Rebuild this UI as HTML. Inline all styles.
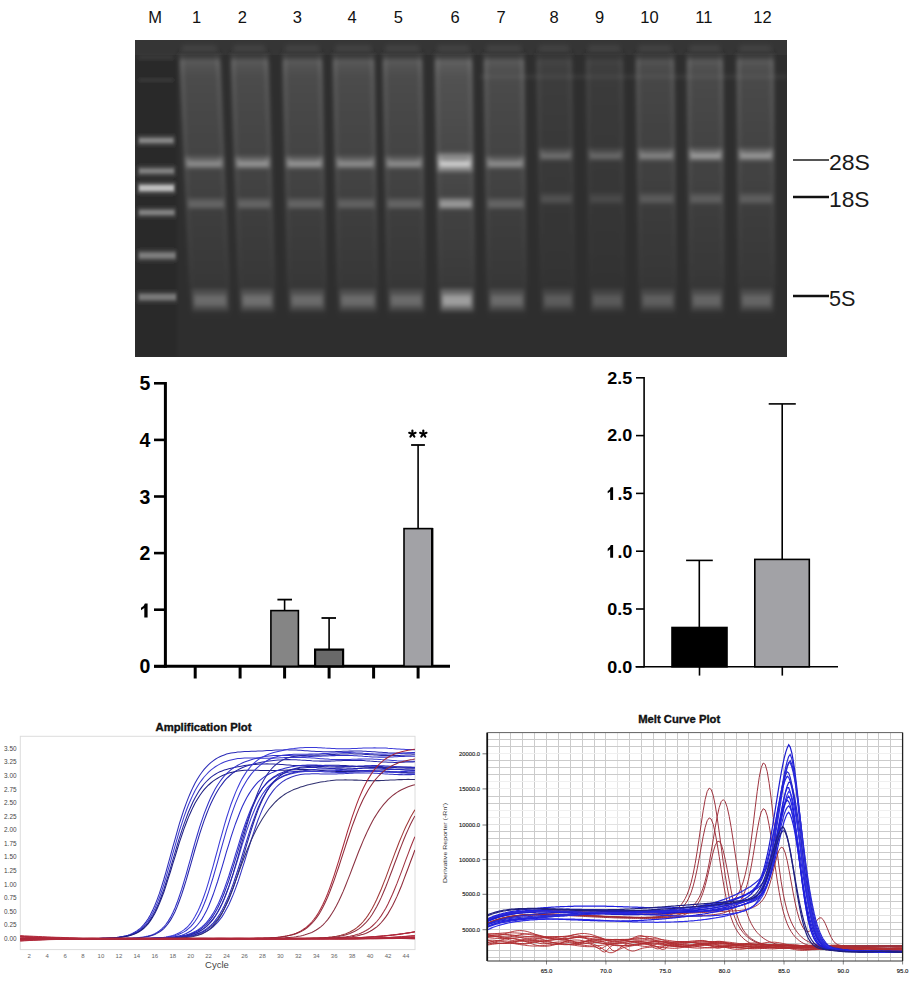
<!DOCTYPE html><html><head><meta charset="utf-8"><style>html,body{margin:0;padding:0;background:#fff;overflow:hidden;width:920px;height:982px;}svg{display:block;font-family:"Liberation Sans",sans-serif;}</style></head><body>
<svg width="920" height="982" viewBox="0 0 920 982">
<defs>
<filter id="b2" x="-20%" y="-20%" width="140%" height="140%"><feGaussianBlur stdDeviation="2.2"/></filter>
<filter id="b1" x="-20%" y="-50%" width="140%" height="200%"><feGaussianBlur stdDeviation="1.7"/></filter>
<filter id="bx" x="-30%" y="-20%" width="160%" height="140%"><feGaussianBlur stdDeviation="2.5 1.2"/></filter>
<clipPath id="gc"><rect x="135" y="40" width="652" height="317"/></clipPath>
<clipPath id="ac"><rect x="20" y="736" width="395" height="214"/></clipPath>
<clipPath id="mc"><rect x="487" y="733" width="415" height="228"/></clipPath>
</defs>
<text x="155" y="23.3" font-size="16.5" text-anchor="middle" fill="#111">M</text>
<text x="196.5" y="23.3" font-size="16.5" text-anchor="middle" fill="#111">1</text>
<text x="242.3" y="23.3" font-size="16.5" text-anchor="middle" fill="#111">2</text>
<text x="297.4" y="23.3" font-size="16.5" text-anchor="middle" fill="#111">3</text>
<text x="352.2" y="23.3" font-size="16.5" text-anchor="middle" fill="#111">4</text>
<text x="398.3" y="23.3" font-size="16.5" text-anchor="middle" fill="#111">5</text>
<text x="455.2" y="23.3" font-size="16.5" text-anchor="middle" fill="#111">6</text>
<text x="501" y="23.3" font-size="16.5" text-anchor="middle" fill="#111">7</text>
<text x="554" y="23.3" font-size="16.5" text-anchor="middle" fill="#111">8</text>
<text x="599.7" y="23.3" font-size="16.5" text-anchor="middle" fill="#111">9</text>
<text x="649.5" y="23.3" font-size="16.5" text-anchor="middle" fill="#111">10</text>
<text x="703.9" y="23.3" font-size="16.5" text-anchor="middle" fill="#111">11</text>
<text x="762.5" y="23.3" font-size="16.5" text-anchor="middle" fill="#111">12</text>
<rect x="135" y="40" width="652" height="317" fill="#2e2e2e"/>
<linearGradient id="lg" gradientUnits="userSpaceOnUse" x1="0" y1="50" x2="0" y2="320"><stop offset="0" stop-color="#fff" stop-opacity="0"/><stop offset="0.03" stop-color="#fff" stop-opacity="0.05"/><stop offset="0.045" stop-color="#fff" stop-opacity="0.19"/><stop offset="0.10" stop-color="#fff" stop-opacity="0.14"/><stop offset="0.33" stop-color="#fff" stop-opacity="0.11"/><stop offset="0.48" stop-color="#fff" stop-opacity="0.10"/><stop offset="0.60" stop-color="#fff" stop-opacity="0.075"/><stop offset="0.80" stop-color="#fff" stop-opacity="0.055"/><stop offset="0.92" stop-color="#fff" stop-opacity="0.035"/><stop offset="1" stop-color="#fff" stop-opacity="0"/></linearGradient>
<linearGradient id="lh" gradientUnits="userSpaceOnUse" x1="0" y1="50" x2="0" y2="320"><stop offset="0" stop-color="#fff" stop-opacity="0"/><stop offset="0.05" stop-color="#fff" stop-opacity="0.15"/><stop offset="0.5" stop-color="#fff" stop-opacity="0.07"/><stop offset="1" stop-color="#fff" stop-opacity="0"/></linearGradient>
<g clip-path="url(#gc)">
<rect x="135" y="40" width="652" height="15" fill="#fff" opacity="0.035"/>
<g filter="url(#b2)">
<g transform="matrix(1,0,0.04297,1,-2.406,0)">
<rect x="179.6" y="50" width="40.20000000000002" height="270" fill="url(#lg)" opacity="1.00"/>
<rect x="179.6" y="56" width="3" height="230" fill="url(#lh)" opacity="1.00"/>
<rect x="216.8" y="56" width="3" height="230" fill="url(#lh)" opacity="1.00"/>
<rect x="180.6" y="156.5" width="38.20000000000002" height="12" fill="#fff" opacity="0.162"/>
<rect x="182.6" y="161.5" width="34.20000000000002" height="5" fill="#fff" opacity="0.297"/>
<rect x="180.6" y="157.5" width="5" height="6" fill="#fff" opacity="0.072"/>
<rect x="213.8" y="157.5" width="5" height="6" fill="#fff" opacity="0.072"/>
<rect x="181.6" y="198.5" width="36.20000000000002" height="10" fill="#fff" opacity="0.144"/>
<rect x="182.6" y="202.5" width="34.20000000000002" height="4" fill="#fff" opacity="0.090"/>
<rect x="181.6" y="289" width="36.20000000000002" height="22" fill="#fff" opacity="0.117"/>
<rect x="183.6" y="295" width="32.20000000000002" height="11" fill="#fff" opacity="0.171"/>
<rect x="177.6" y="51" width="44.20000000000002" height="4" fill="#000" opacity="0.18"/>
<rect x="182.6" y="45.5" width="34.20000000000002" height="4" fill="#fff" opacity="0.08"/>
<rect x="180.6" y="57" width="38.20000000000002" height="6" fill="#fff" opacity="0.060"/>
</g>
<g transform="matrix(1,0,0.03125,1,-1.750,0)">
<rect x="231" y="50" width="37" height="270" fill="url(#lg)" opacity="1.00"/>
<rect x="231" y="56" width="3" height="230" fill="url(#lh)" opacity="1.00"/>
<rect x="265" y="56" width="3" height="230" fill="url(#lh)" opacity="1.00"/>
<rect x="232" y="156.5" width="35" height="12" fill="#fff" opacity="0.180"/>
<rect x="234" y="161.5" width="31" height="5" fill="#fff" opacity="0.330"/>
<rect x="232" y="157.5" width="5" height="6" fill="#fff" opacity="0.080"/>
<rect x="262" y="157.5" width="5" height="6" fill="#fff" opacity="0.080"/>
<rect x="233" y="198.5" width="33" height="10" fill="#fff" opacity="0.144"/>
<rect x="234" y="202.5" width="31" height="4" fill="#fff" opacity="0.090"/>
<rect x="233" y="289" width="33" height="22" fill="#fff" opacity="0.130"/>
<rect x="235" y="295" width="29" height="11" fill="#fff" opacity="0.190"/>
<rect x="229" y="51" width="41" height="4" fill="#000" opacity="0.18"/>
<rect x="234" y="45.5" width="31" height="4" fill="#fff" opacity="0.08"/>
<rect x="232" y="57" width="35" height="6" fill="#fff" opacity="0.060"/>
</g>
<g transform="matrix(1,0,0.01953,1,-1.094,0)">
<rect x="282.8" y="50" width="39.19999999999999" height="270" fill="url(#lg)" opacity="1.00"/>
<rect x="282.8" y="56" width="3" height="230" fill="url(#lh)" opacity="1.00"/>
<rect x="319.0" y="56" width="3" height="230" fill="url(#lh)" opacity="1.00"/>
<rect x="283.8" y="156.5" width="37.19999999999999" height="12" fill="#fff" opacity="0.180"/>
<rect x="285.8" y="161.5" width="33.19999999999999" height="5" fill="#fff" opacity="0.330"/>
<rect x="283.8" y="157.5" width="5" height="6" fill="#fff" opacity="0.080"/>
<rect x="316.0" y="157.5" width="5" height="6" fill="#fff" opacity="0.080"/>
<rect x="284.8" y="198.5" width="35.19999999999999" height="10" fill="#fff" opacity="0.144"/>
<rect x="285.8" y="202.5" width="33.19999999999999" height="4" fill="#fff" opacity="0.090"/>
<rect x="284.8" y="289" width="35.19999999999999" height="22" fill="#fff" opacity="0.117"/>
<rect x="286.8" y="295" width="31.19999999999999" height="11" fill="#fff" opacity="0.171"/>
<rect x="280.8" y="51" width="43.19999999999999" height="4" fill="#000" opacity="0.18"/>
<rect x="285.8" y="45.5" width="33.19999999999999" height="4" fill="#fff" opacity="0.08"/>
<rect x="283.8" y="57" width="37.19999999999999" height="6" fill="#fff" opacity="0.060"/>
</g>
<g transform="matrix(1,0,0.01758,1,-0.984,0)">
<rect x="333" y="50" width="41" height="270" fill="url(#lg)" opacity="1.00"/>
<rect x="333" y="56" width="3" height="230" fill="url(#lh)" opacity="1.00"/>
<rect x="371" y="56" width="3" height="230" fill="url(#lh)" opacity="1.00"/>
<rect x="334" y="156.5" width="39" height="12" fill="#fff" opacity="0.162"/>
<rect x="336" y="161.5" width="35" height="5" fill="#fff" opacity="0.297"/>
<rect x="334" y="157.5" width="5" height="6" fill="#fff" opacity="0.072"/>
<rect x="368" y="157.5" width="5" height="6" fill="#fff" opacity="0.072"/>
<rect x="335" y="198.5" width="37" height="10" fill="#fff" opacity="0.128"/>
<rect x="336" y="202.5" width="35" height="4" fill="#fff" opacity="0.080"/>
<rect x="335" y="289" width="37" height="22" fill="#fff" opacity="0.117"/>
<rect x="337" y="295" width="33" height="11" fill="#fff" opacity="0.171"/>
<rect x="331" y="51" width="45" height="4" fill="#000" opacity="0.18"/>
<rect x="336" y="45.5" width="35" height="4" fill="#fff" opacity="0.08"/>
<rect x="334" y="57" width="39" height="6" fill="#fff" opacity="0.060"/>
</g>
<g transform="matrix(1,0,0.01562,1,-0.875,0)">
<rect x="383" y="50" width="39" height="270" fill="url(#lg)" opacity="1.00"/>
<rect x="383" y="56" width="3" height="230" fill="url(#lh)" opacity="1.00"/>
<rect x="419" y="56" width="3" height="230" fill="url(#lh)" opacity="1.00"/>
<rect x="384" y="156.5" width="37" height="12" fill="#fff" opacity="0.162"/>
<rect x="386" y="161.5" width="33" height="5" fill="#fff" opacity="0.297"/>
<rect x="384" y="157.5" width="5" height="6" fill="#fff" opacity="0.072"/>
<rect x="416" y="157.5" width="5" height="6" fill="#fff" opacity="0.072"/>
<rect x="385" y="198.5" width="35" height="10" fill="#fff" opacity="0.144"/>
<rect x="386" y="202.5" width="33" height="4" fill="#fff" opacity="0.090"/>
<rect x="385" y="289" width="35" height="22" fill="#fff" opacity="0.117"/>
<rect x="387" y="295" width="31" height="11" fill="#fff" opacity="0.171"/>
<rect x="381" y="51" width="43" height="4" fill="#000" opacity="0.18"/>
<rect x="386" y="45.5" width="33" height="4" fill="#fff" opacity="0.08"/>
<rect x="384" y="57" width="37" height="6" fill="#fff" opacity="0.060"/>
</g>
<g transform="matrix(1,0,0.01367,1,-0.766,0)">
<rect x="435" y="50" width="37" height="270" fill="url(#lg)" opacity="1.00"/>
<rect x="435" y="50" width="37" height="270" fill="url(#lg)" opacity="0.25"/>
<rect x="435" y="56" width="3" height="230" fill="url(#lh)" opacity="1.00"/>
<rect x="469" y="56" width="3" height="230" fill="url(#lh)" opacity="1.00"/>
<rect x="436" y="153.5" width="35" height="18" fill="#fff" opacity="0.360"/>
<rect x="438" y="161.5" width="31" height="5" fill="#fff" opacity="0.650"/>
<rect x="436" y="157.5" width="5" height="6" fill="#fff" opacity="0.160"/>
<rect x="466" y="157.5" width="5" height="6" fill="#fff" opacity="0.160"/>
<rect x="437" y="198.5" width="33" height="10" fill="#fff" opacity="0.352"/>
<rect x="438" y="202.5" width="31" height="4" fill="#fff" opacity="0.220"/>
<rect x="437" y="289" width="33" height="22" fill="#fff" opacity="0.247"/>
<rect x="439" y="295" width="29" height="11" fill="#fff" opacity="0.361"/>
<rect x="433" y="51" width="41" height="4" fill="#000" opacity="0.18"/>
<rect x="438" y="45.5" width="31" height="4" fill="#fff" opacity="0.08"/>
<rect x="436" y="57" width="35" height="6" fill="#fff" opacity="0.060"/>
</g>
<g transform="matrix(1,0,0.01172,1,-0.656,0)">
<rect x="484" y="50" width="40" height="270" fill="url(#lg)" opacity="1.00"/>
<rect x="484" y="56" width="3" height="230" fill="url(#lh)" opacity="1.00"/>
<rect x="521" y="56" width="3" height="230" fill="url(#lh)" opacity="1.00"/>
<rect x="485" y="156.5" width="38" height="12" fill="#fff" opacity="0.162"/>
<rect x="487" y="161.5" width="34" height="5" fill="#fff" opacity="0.297"/>
<rect x="485" y="157.5" width="5" height="6" fill="#fff" opacity="0.072"/>
<rect x="518" y="157.5" width="5" height="6" fill="#fff" opacity="0.072"/>
<rect x="486" y="198.5" width="36" height="10" fill="#fff" opacity="0.144"/>
<rect x="487" y="202.5" width="34" height="4" fill="#fff" opacity="0.090"/>
<rect x="486" y="289" width="36" height="22" fill="#fff" opacity="0.117"/>
<rect x="488" y="295" width="32" height="11" fill="#fff" opacity="0.171"/>
<rect x="482" y="51" width="44" height="4" fill="#000" opacity="0.18"/>
<rect x="487" y="45.5" width="34" height="4" fill="#fff" opacity="0.08"/>
<rect x="485" y="57" width="38" height="6" fill="#fff" opacity="0.060"/>
</g>
<g transform="matrix(1,0,0.01562,1,-0.875,0)">
<rect x="536.5" y="50" width="35.200000000000045" height="270" fill="url(#lg)" opacity="0.50"/>
<rect x="536.5" y="56" width="3" height="230" fill="url(#lh)" opacity="0.50"/>
<rect x="568.7" y="56" width="3" height="230" fill="url(#lh)" opacity="0.50"/>
<rect x="537.5" y="148.5" width="33.200000000000045" height="12" fill="#fff" opacity="0.108"/>
<rect x="539.5" y="153.5" width="29.200000000000045" height="5" fill="#fff" opacity="0.198"/>
<rect x="537.5" y="149.5" width="5" height="6" fill="#fff" opacity="0.048"/>
<rect x="565.7" y="149.5" width="5" height="6" fill="#fff" opacity="0.048"/>
<rect x="538.5" y="193.5" width="31.200000000000045" height="10" fill="#fff" opacity="0.096"/>
<rect x="539.5" y="197.5" width="29.200000000000045" height="4" fill="#fff" opacity="0.060"/>
<rect x="538.5" y="289" width="31.200000000000045" height="22" fill="#fff" opacity="0.091"/>
<rect x="540.5" y="295" width="27.200000000000045" height="11" fill="#fff" opacity="0.133"/>
<rect x="534.5" y="51" width="39.200000000000045" height="4" fill="#000" opacity="0.18"/>
<rect x="539.5" y="45.5" width="29.200000000000045" height="4" fill="#fff" opacity="0.08"/>
<rect x="537.5" y="57" width="33.200000000000045" height="6" fill="#fff" opacity="0.030"/>
</g>
<g transform="matrix(1,0,0.01172,1,-0.656,0)">
<rect x="586" y="50" width="36.799999999999955" height="270" fill="url(#lg)" opacity="0.45"/>
<rect x="586" y="56" width="3" height="230" fill="url(#lh)" opacity="0.45"/>
<rect x="619.8" y="56" width="3" height="230" fill="url(#lh)" opacity="0.45"/>
<rect x="587" y="148.5" width="34.799999999999955" height="12" fill="#fff" opacity="0.099"/>
<rect x="589" y="153.5" width="30.799999999999955" height="5" fill="#fff" opacity="0.182"/>
<rect x="587" y="149.5" width="5" height="6" fill="#fff" opacity="0.044"/>
<rect x="616.8" y="149.5" width="5" height="6" fill="#fff" opacity="0.044"/>
<rect x="588" y="193.5" width="32.799999999999955" height="10" fill="#fff" opacity="0.072"/>
<rect x="589" y="197.5" width="30.799999999999955" height="4" fill="#fff" opacity="0.045"/>
<rect x="588" y="289" width="32.799999999999955" height="22" fill="#fff" opacity="0.085"/>
<rect x="590" y="295" width="28.799999999999955" height="11" fill="#fff" opacity="0.124"/>
<rect x="584" y="51" width="40.799999999999955" height="4" fill="#000" opacity="0.18"/>
<rect x="589" y="45.5" width="30.799999999999955" height="4" fill="#fff" opacity="0.08"/>
<rect x="587" y="57" width="34.799999999999955" height="6" fill="#fff" opacity="0.027"/>
</g>
<g transform="matrix(1,0,0.01172,1,-0.656,0)">
<rect x="635.9" y="50" width="38.10000000000002" height="270" fill="url(#lg)" opacity="0.85"/>
<rect x="635.9" y="56" width="3" height="230" fill="url(#lh)" opacity="0.85"/>
<rect x="671" y="56" width="3" height="230" fill="url(#lh)" opacity="0.85"/>
<rect x="636.9" y="148.5" width="36.10000000000002" height="12" fill="#fff" opacity="0.144"/>
<rect x="638.9" y="153.5" width="32.10000000000002" height="5" fill="#fff" opacity="0.264"/>
<rect x="636.9" y="149.5" width="5" height="6" fill="#fff" opacity="0.064"/>
<rect x="668" y="149.5" width="5" height="6" fill="#fff" opacity="0.064"/>
<rect x="637.9" y="193.5" width="34.10000000000002" height="10" fill="#fff" opacity="0.112"/>
<rect x="638.9" y="197.5" width="32.10000000000002" height="4" fill="#fff" opacity="0.070"/>
<rect x="637.9" y="289" width="34.10000000000002" height="22" fill="#fff" opacity="0.091"/>
<rect x="639.9" y="295" width="30.100000000000023" height="11" fill="#fff" opacity="0.133"/>
<rect x="633.9" y="51" width="42.10000000000002" height="4" fill="#000" opacity="0.18"/>
<rect x="638.9" y="45.5" width="32.10000000000002" height="4" fill="#fff" opacity="0.08"/>
<rect x="636.9" y="57" width="36.10000000000002" height="6" fill="#fff" opacity="0.051"/>
</g>
<g transform="matrix(1,0,0.00781,1,-0.438,0)">
<rect x="687" y="50" width="35.799999999999955" height="270" fill="url(#lg)" opacity="0.95"/>
<rect x="687" y="56" width="3" height="230" fill="url(#lh)" opacity="0.95"/>
<rect x="719.8" y="56" width="3" height="230" fill="url(#lh)" opacity="0.95"/>
<rect x="688" y="148.5" width="33.799999999999955" height="12" fill="#fff" opacity="0.198"/>
<rect x="690" y="153.5" width="29.799999999999955" height="5" fill="#fff" opacity="0.363"/>
<rect x="688" y="149.5" width="5" height="6" fill="#fff" opacity="0.088"/>
<rect x="716.8" y="149.5" width="5" height="6" fill="#fff" opacity="0.088"/>
<rect x="689" y="193.5" width="31.799999999999955" height="10" fill="#fff" opacity="0.120"/>
<rect x="690" y="197.5" width="29.799999999999955" height="4" fill="#fff" opacity="0.075"/>
<rect x="689" y="289" width="31.799999999999955" height="22" fill="#fff" opacity="0.104"/>
<rect x="691" y="295" width="27.799999999999955" height="11" fill="#fff" opacity="0.152"/>
<rect x="685" y="51" width="39.799999999999955" height="4" fill="#000" opacity="0.18"/>
<rect x="690" y="45.5" width="29.799999999999955" height="4" fill="#fff" opacity="0.08"/>
<rect x="688" y="57" width="33.799999999999955" height="6" fill="#fff" opacity="0.057"/>
</g>
<g transform="matrix(1,0,0.00586,1,-0.328,0)">
<rect x="736.8" y="50" width="36.80000000000007" height="270" fill="url(#lg)" opacity="0.95"/>
<rect x="736.8" y="56" width="3" height="230" fill="url(#lh)" opacity="0.95"/>
<rect x="770.6" y="56" width="3" height="230" fill="url(#lh)" opacity="0.95"/>
<rect x="737.8" y="148.5" width="34.80000000000007" height="12" fill="#fff" opacity="0.189"/>
<rect x="739.8" y="153.5" width="30.800000000000068" height="5" fill="#fff" opacity="0.347"/>
<rect x="737.8" y="149.5" width="5" height="6" fill="#fff" opacity="0.084"/>
<rect x="767.6" y="149.5" width="5" height="6" fill="#fff" opacity="0.084"/>
<rect x="738.8" y="193.5" width="32.80000000000007" height="10" fill="#fff" opacity="0.120"/>
<rect x="739.8" y="197.5" width="30.800000000000068" height="4" fill="#fff" opacity="0.075"/>
<rect x="738.8" y="289" width="32.80000000000007" height="22" fill="#fff" opacity="0.104"/>
<rect x="740.8" y="295" width="28.800000000000068" height="11" fill="#fff" opacity="0.152"/>
<rect x="734.8" y="51" width="40.80000000000007" height="4" fill="#000" opacity="0.18"/>
<rect x="739.8" y="45.5" width="30.800000000000068" height="4" fill="#fff" opacity="0.08"/>
<rect x="737.8" y="57" width="34.80000000000007" height="6" fill="#fff" opacity="0.057"/>
</g>
<rect x="480" y="75.5" width="307" height="2.5" fill="#fff" opacity="0.09"/>
</g>
<g filter="url(#b1)">
<rect x="135" y="60" width="42" height="297" fill="#000" opacity="0.10"/>
<rect x="138" y="135.5" width="36.5" height="10" fill="#fff" opacity="0.126"/>
<rect x="139" y="138.0" width="34.5" height="5" fill="#fff" opacity="0.36"/>
<rect x="138" y="166.0" width="37" height="10" fill="#fff" opacity="0.119"/>
<rect x="139" y="168.5" width="35" height="5" fill="#fff" opacity="0.34"/>
<rect x="138" y="182.5" width="37" height="11" fill="#fff" opacity="0.217"/>
<rect x="139" y="185.0" width="35" height="6" fill="#fff" opacity="0.62"/>
<rect x="138" y="207.5" width="37.5" height="10" fill="#fff" opacity="0.119"/>
<rect x="139" y="210.0" width="35.5" height="5" fill="#fff" opacity="0.34"/>
<rect x="138" y="250.0" width="38.5" height="11" fill="#fff" opacity="0.112"/>
<rect x="139" y="252.5" width="36.5" height="6" fill="#fff" opacity="0.32"/>
<rect x="138" y="291.5" width="39" height="11" fill="#fff" opacity="0.105"/>
<rect x="139" y="294.0" width="37" height="6" fill="#fff" opacity="0.3"/>
<rect x="139" y="79.0" width="34" height="2" fill="#fff" opacity="0.08"/>
<rect x="139" y="56.0" width="34" height="2" fill="#fff" opacity="0.08"/>
</g>
</g>
<line x1="793" y1="160" x2="829" y2="160" stroke="#555" stroke-width="2"/>
<line x1="793" y1="197" x2="829" y2="197" stroke="#111" stroke-width="2.4"/>
<line x1="793" y1="296" x2="829" y2="296" stroke="#111" stroke-width="2.4"/>
<text x="829" y="170.2" font-size="21.5" fill="#1a1a1a" textLength="41" lengthAdjust="spacingAndGlyphs">28S</text>
<text x="829" y="206.8" font-size="21.5" fill="#1a1a1a" textLength="40.5" lengthAdjust="spacingAndGlyphs">18S</text>
<text x="829" y="305.8" font-size="21.5" fill="#1a1a1a" textLength="26.5" lengthAdjust="spacingAndGlyphs">5S</text>
<g stroke="#000" fill="none">
<line x1="165.4" y1="382" x2="165.4" y2="667.8" stroke-width="3"/>
<line x1="154" y1="666.3" x2="450" y2="666.3" stroke-width="3"/>
<line x1="154" y1="666.3" x2="165" y2="666.3" stroke-width="2.6"/>
<line x1="154" y1="609.6999999999999" x2="165" y2="609.6999999999999" stroke-width="2.6"/>
<line x1="154" y1="553.0999999999999" x2="165" y2="553.0999999999999" stroke-width="2.6"/>
<line x1="154" y1="496.49999999999994" x2="165" y2="496.49999999999994" stroke-width="2.6"/>
<line x1="154" y1="439.9" x2="165" y2="439.9" stroke-width="2.6"/>
<line x1="154" y1="383.29999999999995" x2="165" y2="383.29999999999995" stroke-width="2.6"/>
<line x1="195.2" y1="666" x2="195.2" y2="678.5" stroke-width="3"/>
<line x1="240.1" y1="666" x2="240.1" y2="678.5" stroke-width="3"/>
<line x1="284.6" y1="666" x2="284.6" y2="678.5" stroke-width="3"/>
<line x1="329.1" y1="666" x2="329.1" y2="678.5" stroke-width="3"/>
<line x1="373.6" y1="666" x2="373.6" y2="678.5" stroke-width="3"/>
<line x1="418.1" y1="666" x2="418.1" y2="678.5" stroke-width="3"/>
</g>
<text x="150.4" y="673.3" font-size="19.5" font-weight="bold" text-anchor="end" fill="#000">0</text>
<path d="M144.30,617.60 L147.60,617.60 L147.60,603.40 L144.90,603.40 Q144.00,606.52 141.00,607.66 L141.00,610.22 Q143.10,609.08 144.30,608.09 Z" fill="#000"/>
<text x="150.4" y="560.0999999999999" font-size="19.5" font-weight="bold" text-anchor="end" fill="#000">2</text>
<text x="150.4" y="503.49999999999994" font-size="19.5" font-weight="bold" text-anchor="end" fill="#000">3</text>
<text x="150.4" y="446.9" font-size="19.5" font-weight="bold" text-anchor="end" fill="#000">4</text>
<text x="150.4" y="390.29999999999995" font-size="19.5" font-weight="bold" text-anchor="end" fill="#000">5</text>
<rect x="270.9" y="610.6" width="27.5" height="55.7" fill="#858585" stroke="#000" stroke-width="1.6"/>
<line x1="284.6" y1="610.6" x2="284.6" y2="599.6" stroke="#000" stroke-width="1.6"/>
<line x1="277.4" y1="599.6" x2="292" y2="599.6" stroke="#000" stroke-width="1.8"/>
<rect x="315.1" y="649.6" width="28" height="16.7" fill="#696969" stroke="#000" stroke-width="2.2"/>
<line x1="329.1" y1="649" x2="329.1" y2="618" stroke="#000" stroke-width="1.6"/>
<line x1="321.5" y1="618" x2="336" y2="618" stroke="#000" stroke-width="1.8"/>
<rect x="404" y="528.6" width="28" height="137.7" fill="#a2a2a6" stroke="#000" stroke-width="1.6"/>
<line x1="432.2" y1="528" x2="432.2" y2="666" stroke="#000" stroke-width="2.4"/>
<line x1="418.1" y1="528.6" x2="418.1" y2="445" stroke="#000" stroke-width="1.6"/>
<line x1="411.1" y1="445" x2="424.9" y2="445" stroke="#000" stroke-width="1.8"/>
<line x1="412.40" y1="433.90" x2="412.40" y2="430.50" stroke="#000" stroke-width="2.1" stroke-linecap="round"/>
<line x1="412.40" y1="433.90" x2="415.63" y2="432.85" stroke="#000" stroke-width="2.1" stroke-linecap="round"/>
<line x1="412.40" y1="433.90" x2="414.40" y2="436.65" stroke="#000" stroke-width="2.1" stroke-linecap="round"/>
<line x1="412.40" y1="433.90" x2="410.40" y2="436.65" stroke="#000" stroke-width="2.1" stroke-linecap="round"/>
<line x1="412.40" y1="433.90" x2="409.17" y2="432.85" stroke="#000" stroke-width="2.1" stroke-linecap="round"/>
<line x1="423.30" y1="433.90" x2="423.30" y2="430.50" stroke="#000" stroke-width="2.1" stroke-linecap="round"/>
<line x1="423.30" y1="433.90" x2="426.53" y2="432.85" stroke="#000" stroke-width="2.1" stroke-linecap="round"/>
<line x1="423.30" y1="433.90" x2="425.30" y2="436.65" stroke="#000" stroke-width="2.1" stroke-linecap="round"/>
<line x1="423.30" y1="433.90" x2="421.30" y2="436.65" stroke="#000" stroke-width="2.1" stroke-linecap="round"/>
<line x1="423.30" y1="433.90" x2="420.07" y2="432.85" stroke="#000" stroke-width="2.1" stroke-linecap="round"/>
<g stroke="#000" fill="none" stroke-width="1.6">
<line x1="644.1" y1="377" x2="644.1" y2="667.5"/>
<line x1="635.5" y1="666.8" x2="838" y2="666.8"/>
<line x1="636" y1="666.8" x2="644" y2="666.8"/>
<line x1="636" y1="609.0" x2="644" y2="609.0"/>
<line x1="636" y1="551.1999999999999" x2="644" y2="551.1999999999999"/>
<line x1="636" y1="493.4" x2="644" y2="493.4"/>
<line x1="636" y1="435.59999999999997" x2="644" y2="435.59999999999997"/>
<line x1="636" y1="377.79999999999995" x2="644" y2="377.79999999999995"/>
<line x1="699.5" y1="666.8" x2="699.5" y2="675.6"/>
<line x1="782.3" y1="666.8" x2="782.3" y2="675.6"/>
</g>
<text x="632.3" y="672.5999999999999" font-size="17.3" font-weight="bold" text-anchor="end" fill="#000" textLength="25" lengthAdjust="spacingAndGlyphs">0.0</text>
<text x="632.3" y="614.8" font-size="17.3" font-weight="bold" text-anchor="end" fill="#000" textLength="25" lengthAdjust="spacingAndGlyphs">0.5</text>
<path d="M610.20,557.80 L613.10,557.80 L613.10,545.00 L610.80,545.00 Q609.90,547.82 607.70,548.84 L607.70,551.14 Q609.00,550.12 610.20,549.22 Z" fill="#000"/>
<text x="632.3" y="557.4999999999999" font-size="17.6" font-weight="bold" text-anchor="end" fill="#000">.0</text>
<path d="M610.20,500.00 L613.10,500.00 L613.10,487.20 L610.80,487.20 Q609.90,490.02 607.70,491.04 L607.70,493.34 Q609.00,492.32 610.20,491.42 Z" fill="#000"/>
<text x="632.3" y="499.7" font-size="17.6" font-weight="bold" text-anchor="end" fill="#000">.5</text>
<text x="632.3" y="441.4" font-size="17.3" font-weight="bold" text-anchor="end" fill="#000" textLength="25" lengthAdjust="spacingAndGlyphs">2.0</text>
<text x="632.3" y="383.59999999999997" font-size="17.3" font-weight="bold" text-anchor="end" fill="#000" textLength="25" lengthAdjust="spacingAndGlyphs">2.5</text>
<rect x="672" y="627.496" width="55" height="39.303999999999974" fill="#000" stroke="#000" stroke-width="1.6"/>
<line x1="699.3" y1="628" x2="699.3" y2="560.4" stroke="#000" stroke-width="1.6"/>
<line x1="686.1" y1="560.4" x2="712.8" y2="560.4" stroke="#000" stroke-width="1.6"/>
<rect x="754.8" y="559.4" width="54.5" height="107.4" fill="#a2a2a6" stroke="#000" stroke-width="1.6"/>
<line x1="782.2" y1="559.4" x2="782.2" y2="403.9" stroke="#000" stroke-width="1.6"/>
<line x1="768.7" y1="403.9" x2="795.8" y2="403.9" stroke="#000" stroke-width="1.6"/>
<text x="203.5" y="730.6" font-size="10.6" font-weight="bold" text-anchor="middle" fill="#111" stroke="#111" stroke-width="0.35" textLength="96" lengthAdjust="spacingAndGlyphs">Amplification Plot</text>
<rect x="20.3" y="736.3" width="394.7" height="213.3" fill="none" stroke="#dcdcdc" stroke-width="1"/>
<text x="16.5" y="940.9" font-size="6.4" text-anchor="end" fill="#444">0.00</text>
<text x="16.5" y="927.3249999999999" font-size="6.4" text-anchor="end" fill="#444">0.25</text>
<text x="16.5" y="913.75" font-size="6.4" text-anchor="end" fill="#444">0.50</text>
<text x="16.5" y="900.175" font-size="6.4" text-anchor="end" fill="#444">0.75</text>
<text x="16.5" y="886.6" font-size="6.4" text-anchor="end" fill="#444">1.00</text>
<text x="16.5" y="873.025" font-size="6.4" text-anchor="end" fill="#444">1.25</text>
<text x="16.5" y="859.45" font-size="6.4" text-anchor="end" fill="#444">1.50</text>
<text x="16.5" y="845.875" font-size="6.4" text-anchor="end" fill="#444">1.75</text>
<text x="16.5" y="832.3" font-size="6.4" text-anchor="end" fill="#444">2.00</text>
<text x="16.5" y="818.725" font-size="6.4" text-anchor="end" fill="#444">2.25</text>
<text x="16.5" y="805.15" font-size="6.4" text-anchor="end" fill="#444">2.50</text>
<text x="16.5" y="791.575" font-size="6.4" text-anchor="end" fill="#444">2.75</text>
<text x="16.5" y="778.0" font-size="6.4" text-anchor="end" fill="#444">3.00</text>
<text x="16.5" y="764.425" font-size="6.4" text-anchor="end" fill="#444">3.25</text>
<text x="16.5" y="750.85" font-size="6.4" text-anchor="end" fill="#444">3.50</text>
<text x="29.2" y="957.5" font-size="6" text-anchor="middle" fill="#666">2</text>
<text x="47.14" y="957.5" font-size="6" text-anchor="middle" fill="#666">4</text>
<text x="65.08" y="957.5" font-size="6" text-anchor="middle" fill="#666">6</text>
<text x="83.02000000000001" y="957.5" font-size="6" text-anchor="middle" fill="#666">8</text>
<text x="100.96000000000001" y="957.5" font-size="6" text-anchor="middle" fill="#666">10</text>
<text x="118.9" y="957.5" font-size="6" text-anchor="middle" fill="#666">12</text>
<text x="136.84" y="957.5" font-size="6" text-anchor="middle" fill="#666">14</text>
<text x="154.78" y="957.5" font-size="6" text-anchor="middle" fill="#666">16</text>
<text x="172.72" y="957.5" font-size="6" text-anchor="middle" fill="#666">18</text>
<text x="190.66" y="957.5" font-size="6" text-anchor="middle" fill="#666">20</text>
<text x="208.6" y="957.5" font-size="6" text-anchor="middle" fill="#666">22</text>
<text x="226.54" y="957.5" font-size="6" text-anchor="middle" fill="#666">24</text>
<text x="244.48000000000002" y="957.5" font-size="6" text-anchor="middle" fill="#666">26</text>
<text x="262.42" y="957.5" font-size="6" text-anchor="middle" fill="#666">28</text>
<text x="280.36" y="957.5" font-size="6" text-anchor="middle" fill="#666">30</text>
<text x="298.3" y="957.5" font-size="6" text-anchor="middle" fill="#666">32</text>
<text x="316.24" y="957.5" font-size="6" text-anchor="middle" fill="#666">34</text>
<text x="334.18" y="957.5" font-size="6" text-anchor="middle" fill="#666">36</text>
<text x="352.12" y="957.5" font-size="6" text-anchor="middle" fill="#666">38</text>
<text x="370.06" y="957.5" font-size="6" text-anchor="middle" fill="#666">40</text>
<text x="388.0" y="957.5" font-size="6" text-anchor="middle" fill="#666">42</text>
<text x="405.94" y="957.5" font-size="6" text-anchor="middle" fill="#666">44</text>
<text x="217" y="968" font-size="9.5" text-anchor="middle" fill="#444">Cycle</text>
<g clip-path="url(#ac)" fill="none" stroke-width="1.05">
<polyline points="20.2,938.6 22.5,938.6 24.7,938.6 27.0,938.6 29.2,938.6 31.4,938.6 33.7,938.6 35.9,938.6 38.2,938.6 40.4,938.6 42.7,938.6 44.9,938.6 47.1,938.6 49.4,938.6 51.6,938.6 53.9,938.6 56.1,938.6 58.4,938.6 60.6,938.6 62.8,938.6 65.1,938.6 67.3,938.6 69.6,938.6 71.8,938.6 74.0,938.6 76.3,938.6 78.5,938.6 80.8,938.6 83.0,938.5 85.3,938.5 87.5,938.5 89.7,938.5 92.0,938.5 94.2,938.4 96.5,938.4 98.7,938.4 101.0,938.3 103.2,938.2 105.4,938.2 107.7,938.0 109.9,937.9 112.2,937.8 114.4,937.6 116.7,937.4 118.9,937.1 121.1,936.7 123.4,936.3 125.6,935.8 127.9,935.2 130.1,934.4 132.4,933.5 134.6,932.3 136.8,930.9 139.1,929.3 141.3,927.3 143.6,924.9 145.8,922.1 148.1,918.8 150.3,915.0 152.5,910.6 154.8,905.5 157.0,899.9 159.3,893.7 161.5,886.8 163.8,879.5 166.0,871.8 168.2,863.8 170.5,855.6 172.7,847.4 175.0,839.3 177.2,831.4 179.4,823.7 181.7,816.5 183.9,809.7 186.2,803.4 188.4,797.6 190.7,792.3 192.9,787.4 195.1,783.0 197.4,779.1 199.6,775.5 201.9,772.3 204.1,769.4 206.4,766.9 208.6,764.6 210.8,762.6 213.1,760.8 215.3,759.3 217.6,757.9 219.8,756.7 222.1,755.7 224.3,754.9 226.5,754.1 228.8,753.6 231.0,753.1 233.3,752.7 235.5,752.4 237.8,752.1 240.0,751.9 242.2,751.7 244.5,751.6 246.7,751.5 249.0,751.4 251.2,751.3 253.5,751.3 255.7,751.2 257.9,751.1 260.2,751.0 262.4,750.9 264.7,750.7 266.9,750.6 269.1,750.5 271.4,750.4 273.6,750.2 275.9,750.1 278.1,750.0 280.4,749.9 282.6,749.9 284.8,749.8 287.1,749.8 289.3,749.9 291.6,749.9 293.8,750.0 296.1,750.1 298.3,750.2 300.5,750.3 302.8,750.5 305.0,750.7 307.3,750.8 309.5,751.0 311.8,751.2 314.0,751.3 316.2,751.4 318.5,751.5 320.7,751.6 323.0,751.7 325.2,751.7 327.5,751.8 329.7,751.7 331.9,751.7 334.2,751.7 336.4,751.6 338.7,751.5 340.9,751.4 343.2,751.3 345.4,751.2 347.6,751.2 349.9,751.1 352.1,751.1 354.4,751.0 356.6,751.0 358.8,751.0 361.1,751.1 363.3,751.2 365.6,751.3 367.8,751.4 370.1,751.5 372.3,751.7 374.5,751.8 376.8,752.0 379.0,752.2 381.3,752.3 383.5,752.5 385.8,752.6 388.0,752.8 390.2,752.9 392.5,752.9 394.7,753.0 397.0,753.0 399.2,753.0 401.5,753.0 403.7,753.0 405.9,752.9 408.2,752.8 410.4,752.7 412.7,752.6 414.9,752.6" stroke="#2c2cb8"/>
<polyline points="20.2,938.6 22.5,938.6 24.7,938.6 27.0,938.6 29.2,938.6 31.4,938.6 33.7,938.6 35.9,938.6 38.2,938.6 40.4,938.6 42.7,938.6 44.9,938.6 47.1,938.6 49.4,938.6 51.6,938.6 53.9,938.6 56.1,938.6 58.4,938.6 60.6,938.6 62.8,938.6 65.1,938.6 67.3,938.6 69.6,938.6 71.8,938.6 74.0,938.6 76.3,938.6 78.5,938.6 80.8,938.6 83.0,938.5 85.3,938.5 87.5,938.5 89.7,938.5 92.0,938.5 94.2,938.5 96.5,938.4 98.7,938.4 101.0,938.3 103.2,938.3 105.4,938.2 107.7,938.1 109.9,938.0 112.2,937.9 114.4,937.7 116.7,937.5 118.9,937.2 121.1,936.9 123.4,936.6 125.6,936.1 127.9,935.5 130.1,934.9 132.4,934.0 134.6,933.0 136.8,931.8 139.1,930.3 141.3,928.5 143.6,926.4 145.8,923.9 148.1,920.9 150.3,917.4 152.5,913.4 154.8,908.8 157.0,903.6 159.3,897.8 161.5,891.5 163.8,884.6 166.0,877.3 168.2,869.7 170.5,861.9 172.7,853.9 175.0,846.1 177.2,838.4 179.4,830.9 181.7,823.8 183.9,817.1 186.2,810.8 188.4,805.0 190.7,799.7 192.9,794.9 195.1,790.5 197.4,786.6 199.6,783.0 201.9,779.9 204.1,777.0 206.4,774.5 208.6,772.2 210.8,770.2 213.1,768.4 215.3,766.8 217.6,765.4 219.8,764.1 222.1,763.0 224.3,762.0 226.5,761.2 228.8,760.5 231.0,759.9 233.3,759.4 235.5,759.0 237.8,758.6 240.0,758.4 242.2,758.2 244.5,758.1 246.7,758.0 249.0,758.0 251.2,758.0 253.5,758.0 255.7,758.1 257.9,758.1 260.2,758.2 262.4,758.2 264.7,758.2 266.9,758.2 269.1,758.2 271.4,758.1 273.6,758.1 275.9,758.0 278.1,757.9 280.4,757.8 282.6,757.7 284.8,757.6 287.1,757.5 289.3,757.5 291.6,757.4 293.8,757.4 296.1,757.3 298.3,757.4 300.5,757.4 302.8,757.5 305.0,757.5 307.3,757.7 309.5,757.8 311.8,757.9 314.0,758.1 316.2,758.3 318.5,758.5 320.7,758.7 323.0,758.8 325.2,759.0 327.5,759.1 329.7,759.3 331.9,759.4 334.2,759.5 336.4,759.5 338.7,759.6 340.9,759.6 343.2,759.6 345.4,759.5 347.6,759.5 349.9,759.4 352.1,759.3 354.4,759.3 356.6,759.2 358.8,759.1 361.1,759.1 363.3,759.0 365.6,759.0 367.8,759.0 370.1,759.0 372.3,759.1 374.5,759.2 376.8,759.3 379.0,759.4 381.3,759.6 383.5,759.7 385.8,759.9 388.0,760.1 390.2,760.3 392.5,760.5 394.7,760.6 397.0,760.8 399.2,760.9 401.5,761.0 403.7,761.1 405.9,761.2 408.2,761.3 410.4,761.3 412.7,761.3 414.9,761.2" stroke="#3a3ad0"/>
<polyline points="20.2,938.6 22.5,938.6 24.7,938.6 27.0,938.6 29.2,938.6 31.4,938.6 33.7,938.6 35.9,938.6 38.2,938.6 40.4,938.6 42.7,938.6 44.9,938.6 47.1,938.6 49.4,938.6 51.6,938.6 53.9,938.6 56.1,938.6 58.4,938.6 60.6,938.6 62.8,938.6 65.1,938.6 67.3,938.6 69.6,938.6 71.8,938.6 74.0,938.6 76.3,938.6 78.5,938.6 80.8,938.6 83.0,938.6 85.3,938.5 87.5,938.5 89.7,938.5 92.0,938.5 94.2,938.5 96.5,938.4 98.7,938.4 101.0,938.4 103.2,938.3 105.4,938.2 107.7,938.2 109.9,938.1 112.2,937.9 114.4,937.8 116.7,937.6 118.9,937.4 121.1,937.1 123.4,936.8 125.6,936.4 127.9,935.9 130.1,935.3 132.4,934.5 134.6,933.6 136.8,932.6 139.1,931.2 141.3,929.6 143.6,927.7 145.8,925.5 148.1,922.8 150.3,919.6 152.5,916.0 154.8,911.8 157.0,907.0 159.3,901.7 161.5,895.8 163.8,889.4 166.0,882.5 168.2,875.3 170.5,867.9 172.7,860.3 175.0,852.7 177.2,845.2 179.4,837.9 181.7,830.9 183.9,824.3 186.2,818.1 188.4,812.3 190.7,807.0 192.9,802.1 195.1,797.7 197.4,793.7 199.6,790.1 201.9,786.9 204.1,784.0 206.4,781.5 208.6,779.3 210.8,777.3 213.1,775.6 215.3,774.2 217.6,772.9 219.8,771.8 222.1,770.9 224.3,770.1 226.5,769.4 228.8,768.7 231.0,768.2 233.3,767.7 235.5,767.2 237.8,766.8 240.0,766.4 242.2,766.0 244.5,765.6 246.7,765.3 249.0,765.0 251.2,764.8 253.5,764.5 255.7,764.4 257.9,764.2 260.2,764.1 262.4,764.0 264.7,764.0 266.9,763.9 269.1,764.0 271.4,764.0 273.6,764.1 275.9,764.2 278.1,764.3 280.4,764.5 282.6,764.6 284.8,764.8 287.1,765.0 289.3,765.1 291.6,765.3 293.8,765.4 296.1,765.5 298.3,765.6 300.5,765.7 302.8,765.8 305.0,765.8 307.3,765.8 309.5,765.8 311.8,765.8 314.0,765.7 316.2,765.6 318.5,765.6 320.7,765.5 323.0,765.4 325.2,765.3 327.5,765.3 329.7,765.3 331.9,765.2 334.2,765.2 336.4,765.3 338.7,765.3 340.9,765.4 343.2,765.5 345.4,765.6 347.6,765.8 349.9,766.0 352.1,766.1 354.4,766.3 356.6,766.5 358.8,766.7 361.1,766.9 363.3,767.0 365.6,767.2 367.8,767.3 370.1,767.4 372.3,767.4 374.5,767.5 376.8,767.5 379.0,767.5 381.3,767.5 383.5,767.4 385.8,767.4 388.0,767.3 390.2,767.2 392.5,767.1 394.7,767.1 397.0,767.0 399.2,767.0 401.5,766.9 403.7,766.9 405.9,767.0 408.2,767.0 410.4,767.1 412.7,767.2 414.9,767.3" stroke="#22229a"/>
<polyline points="20.2,938.6 22.5,938.6 24.7,938.6 27.0,938.6 29.2,938.6 31.4,938.6 33.7,938.6 35.9,938.6 38.2,938.6 40.4,938.6 42.7,938.6 44.9,938.6 47.1,938.6 49.4,938.6 51.6,938.6 53.9,938.6 56.1,938.6 58.4,938.6 60.6,938.6 62.8,938.6 65.1,938.6 67.3,938.6 69.6,938.6 71.8,938.6 74.0,938.6 76.3,938.6 78.5,938.6 80.8,938.6 83.0,938.6 85.3,938.5 87.5,938.5 89.7,938.5 92.0,938.5 94.2,938.5 96.5,938.5 98.7,938.4 101.0,938.4 103.2,938.3 105.4,938.3 107.7,938.2 109.9,938.1 112.2,938.0 114.4,937.9 116.7,937.7 118.9,937.5 121.1,937.2 123.4,936.9 125.6,936.5 127.9,936.1 130.1,935.5 132.4,934.8 134.6,934.0 136.8,933.0 139.1,931.7 141.3,930.2 143.6,928.5 145.8,926.3 148.1,923.8 150.3,920.9 152.5,917.4 154.8,913.5 157.0,909.0 159.3,903.9 161.5,898.3 163.8,892.2 166.0,885.6 168.2,878.7 170.5,871.5 172.7,864.2 175.0,856.8 177.2,849.5 179.4,842.4 181.7,835.6 183.9,829.1 186.2,823.0 188.4,817.4 190.7,812.2 192.9,807.4 195.1,803.1 197.4,799.2 199.6,795.7 201.9,792.5 204.1,789.7 206.4,787.2 208.6,785.0 210.8,783.0 213.1,781.2 215.3,779.6 217.6,778.2 219.8,776.9 222.1,775.8 224.3,774.8 226.5,773.9 228.8,773.1 231.0,772.5 233.3,771.9 235.5,771.4 237.8,771.1 240.0,770.7 242.2,770.5 244.5,770.3 246.7,770.2 249.0,770.2 251.2,770.2 253.5,770.2 255.7,770.2 257.9,770.3 260.2,770.4 262.4,770.4 264.7,770.5 266.9,770.5 269.1,770.5 271.4,770.5 273.6,770.5 275.9,770.5 278.1,770.4 280.4,770.3 282.6,770.3 284.8,770.2 287.1,770.1 289.3,770.0 291.6,769.9 293.8,769.8 296.1,769.7 298.3,769.6 300.5,769.6 302.8,769.6 305.0,769.6 307.3,769.6 309.5,769.7 311.8,769.8 314.0,769.9 316.2,770.1 318.5,770.2 320.7,770.4 323.0,770.5 325.2,770.7 327.5,770.9 329.7,771.0 331.9,771.2 334.2,771.3 336.4,771.4 338.7,771.5 340.9,771.5 343.2,771.6 345.4,771.6 347.6,771.5 349.9,771.5 352.1,771.4 354.4,771.4 356.6,771.3 358.8,771.2 361.1,771.1 363.3,771.0 365.6,770.9 367.8,770.9 370.1,770.9 372.3,770.8 374.5,770.8 376.8,770.9 379.0,770.9 381.3,771.0 383.5,771.1 385.8,771.3 388.0,771.4 390.2,771.6 392.5,771.7 394.7,771.9 397.0,772.1 399.2,772.2 401.5,772.4 403.7,772.5 405.9,772.6 408.2,772.7 410.4,772.8 412.7,772.8 414.9,772.8" stroke="#1c1c80"/>
<polyline points="20.2,938.6 22.5,938.6 24.7,938.6 27.0,938.6 29.2,938.6 31.4,938.6 33.7,938.6 35.9,938.6 38.2,938.6 40.4,938.6 42.7,938.6 44.9,938.6 47.1,938.6 49.4,938.6 51.6,938.6 53.9,938.6 56.1,938.6 58.4,938.6 60.6,938.6 62.8,938.6 65.1,938.6 67.3,938.6 69.6,938.6 71.8,938.6 74.0,938.6 76.3,938.6 78.5,938.6 80.8,938.6 83.0,938.6 85.3,938.6 87.5,938.6 89.7,938.6 92.0,938.6 94.2,938.6 96.5,938.6 98.7,938.6 101.0,938.6 103.2,938.6 105.4,938.6 107.7,938.6 109.9,938.5 112.2,938.5 114.4,938.5 116.7,938.5 118.9,938.5 121.1,938.4 123.4,938.4 125.6,938.3 127.9,938.3 130.1,938.2 132.4,938.1 134.6,937.9 136.8,937.8 139.1,937.6 141.3,937.3 143.6,937.0 145.8,936.6 148.1,936.1 150.3,935.4 152.5,934.7 154.8,933.7 157.0,932.5 159.3,931.0 161.5,929.2 163.8,927.0 166.0,924.3 168.2,921.1 170.5,917.4 172.7,913.0 175.0,908.0 177.2,902.3 179.4,896.0 181.7,889.2 183.9,881.8 186.2,874.1 188.4,866.1 190.7,858.1 192.9,850.0 195.1,842.1 197.4,834.5 199.6,827.2 201.9,820.3 204.1,813.9 206.4,808.0 208.6,802.5 210.8,797.5 213.1,792.9 215.3,788.8 217.6,785.0 219.8,781.7 222.1,778.7 224.3,776.0 226.5,773.7 228.8,771.6 231.0,769.7 233.3,768.0 235.5,766.6 237.8,765.3 240.0,764.1 242.2,763.1 244.5,762.1 246.7,761.3 249.0,760.5 251.2,759.8 253.5,759.1 255.7,758.5 257.9,757.9 260.2,757.4 262.4,757.0 264.7,756.6 266.9,756.3 269.1,756.0 271.4,755.8 273.6,755.6 275.9,755.5 278.1,755.4 280.4,755.4 282.6,755.4 284.8,755.4 287.1,755.5 289.3,755.6 291.6,755.7 293.8,755.8 296.1,755.9 298.3,756.0 300.5,756.1 302.8,756.2 305.0,756.3 307.3,756.3 309.5,756.4 311.8,756.4 314.0,756.3 316.2,756.3 318.5,756.2 320.7,756.2 323.0,756.1 325.2,756.0 327.5,755.9 329.7,755.7 331.9,755.6 334.2,755.6 336.4,755.5 338.7,755.4 340.9,755.4 343.2,755.4 345.4,755.4 347.6,755.4 349.9,755.5 352.1,755.6 354.4,755.7 356.6,755.8 358.8,756.0 361.1,756.1 363.3,756.3 365.6,756.4 367.8,756.6 370.1,756.7 372.3,756.9 374.5,757.0 376.8,757.0 379.0,757.1 381.3,757.1 383.5,757.1 385.8,757.1 388.0,757.1 390.2,757.0 392.5,756.9 394.7,756.8 397.0,756.7 399.2,756.6 401.5,756.5 403.7,756.4 405.9,756.3 408.2,756.3 410.4,756.2 412.7,756.2 414.9,756.2" stroke="#3030c8"/>
<polyline points="20.2,938.6 22.5,938.6 24.7,938.6 27.0,938.6 29.2,938.6 31.4,938.6 33.7,938.6 35.9,938.6 38.2,938.6 40.4,938.6 42.7,938.6 44.9,938.6 47.1,938.6 49.4,938.6 51.6,938.6 53.9,938.6 56.1,938.6 58.4,938.6 60.6,938.6 62.8,938.6 65.1,938.6 67.3,938.6 69.6,938.6 71.8,938.6 74.0,938.6 76.3,938.6 78.5,938.6 80.8,938.6 83.0,938.6 85.3,938.6 87.5,938.6 89.7,938.6 92.0,938.6 94.2,938.6 96.5,938.6 98.7,938.6 101.0,938.6 103.2,938.6 105.4,938.6 107.7,938.6 109.9,938.6 112.2,938.5 114.4,938.5 116.7,938.5 118.9,938.5 121.1,938.5 123.4,938.4 125.6,938.4 127.9,938.3 130.1,938.2 132.4,938.2 134.6,938.0 136.8,937.9 139.1,937.7 141.3,937.5 143.6,937.2 145.8,936.9 148.1,936.4 150.3,935.9 152.5,935.2 154.8,934.4 157.0,933.4 159.3,932.1 161.5,930.5 163.8,928.6 166.0,926.2 168.2,923.4 170.5,920.1 172.7,916.2 175.0,911.7 177.2,906.6 179.4,900.8 181.7,894.4 183.9,887.5 186.2,880.2 188.4,872.5 190.7,864.7 192.9,856.8 195.1,849.0 197.4,841.4 199.6,834.1 201.9,827.1 204.1,820.6 206.4,814.5 208.6,808.9 210.8,803.7 213.1,799.0 215.3,794.7 217.6,790.8 219.8,787.2 222.1,784.1 224.3,781.2 226.5,778.7 228.8,776.5 231.0,774.5 233.3,772.7 235.5,771.2 237.8,769.9 240.0,768.7 242.2,767.7 244.5,766.8 246.7,766.0 249.0,765.3 251.2,764.7 253.5,764.1 255.7,763.5 257.9,763.0 260.2,762.5 262.4,762.1 264.7,761.7 266.9,761.3 269.1,761.0 271.4,760.7 273.6,760.4 275.9,760.2 278.1,760.0 280.4,759.9 282.6,759.7 284.8,759.7 287.1,759.6 289.3,759.6 291.6,759.7 293.8,759.7 296.1,759.8 298.3,759.9 300.5,760.1 302.8,760.2 305.0,760.3 307.3,760.5 309.5,760.6 311.8,760.8 314.0,760.9 316.2,761.0 318.5,761.0 320.7,761.1 323.0,761.1 325.2,761.1 327.5,761.1 329.7,761.1 331.9,761.0 334.2,760.9 336.4,760.8 338.7,760.7 340.9,760.7 343.2,760.6 345.4,760.5 347.6,760.4 349.9,760.4 352.1,760.4 354.4,760.4 356.6,760.4 358.8,760.4 361.1,760.5 363.3,760.6 365.6,760.8 367.8,760.9 370.1,761.1 372.3,761.2 374.5,761.4 376.8,761.6 379.0,761.7 381.3,761.9 383.5,762.0 385.8,762.1 388.0,762.2 390.2,762.3 392.5,762.3 394.7,762.4 397.0,762.4 399.2,762.3 401.5,762.3 403.7,762.2 405.9,762.1 408.2,762.0 410.4,762.0 412.7,761.9 414.9,761.8" stroke="#2424a8"/>
<polyline points="20.2,938.6 22.5,938.6 24.7,938.6 27.0,938.6 29.2,938.6 31.4,938.6 33.7,938.6 35.9,938.6 38.2,938.6 40.4,938.6 42.7,938.6 44.9,938.6 47.1,938.6 49.4,938.6 51.6,938.6 53.9,938.6 56.1,938.6 58.4,938.6 60.6,938.6 62.8,938.6 65.1,938.6 67.3,938.6 69.6,938.6 71.8,938.6 74.0,938.6 76.3,938.6 78.5,938.6 80.8,938.6 83.0,938.6 85.3,938.6 87.5,938.6 89.7,938.6 92.0,938.6 94.2,938.6 96.5,938.6 98.7,938.6 101.0,938.6 103.2,938.6 105.4,938.6 107.7,938.6 109.9,938.6 112.2,938.6 114.4,938.6 116.7,938.6 118.9,938.6 121.1,938.6 123.4,938.6 125.6,938.6 127.9,938.5 130.1,938.5 132.4,938.5 134.6,938.5 136.8,938.5 139.1,938.4 141.3,938.4 143.6,938.4 145.8,938.3 148.1,938.3 150.3,938.2 152.5,938.1 154.8,938.0 157.0,937.8 159.3,937.7 161.5,937.4 163.8,937.2 166.0,936.9 168.2,936.5 170.5,936.0 172.7,935.4 175.0,934.7 177.2,933.8 179.4,932.7 181.7,931.4 183.9,929.9 186.2,928.0 188.4,925.8 190.7,923.1 192.9,920.0 195.1,916.3 197.4,912.1 199.6,907.3 201.9,901.8 204.1,895.7 206.4,889.1 208.6,881.9 210.8,874.2 213.1,866.2 215.3,858.0 217.6,849.7 219.8,841.4 222.1,833.3 224.3,825.4 226.5,818.0 228.8,810.9 231.0,804.3 233.3,798.2 235.5,792.6 237.8,787.4 240.0,782.8 242.2,778.6 244.5,774.9 246.7,771.5 249.0,768.6 251.2,766.0 253.5,763.7 255.7,761.7 257.9,759.9 260.2,758.4 262.4,757.1 264.7,756.0 266.9,755.0 269.1,754.1 271.4,753.3 273.6,752.6 275.9,752.0 278.1,751.4 280.4,750.9 282.6,750.4 284.8,749.9 287.1,749.5 289.3,749.1 291.6,748.7 293.8,748.5 296.1,748.2 298.3,748.0 300.5,747.8 302.8,747.7 305.0,747.6 307.3,747.5 309.5,747.5 311.8,747.5 314.0,747.5 316.2,747.6 318.5,747.7 320.7,747.8 323.0,747.9 325.2,748.1 327.5,748.2 329.7,748.3 331.9,748.5 334.2,748.6 336.4,748.7 338.7,748.7 340.9,748.8 343.2,748.8 345.4,748.8 347.6,748.8 349.9,748.7 352.1,748.6 354.4,748.5 356.6,748.4 358.8,748.3 361.1,748.2 363.3,748.1 365.6,748.0 367.8,748.0 370.1,747.9 372.3,747.9 374.5,747.8 376.8,747.9 379.0,747.9 381.3,747.9 383.5,748.0 385.8,748.1 388.0,748.3 390.2,748.4 392.5,748.6 394.7,748.7 397.0,748.9 399.2,749.0 401.5,749.2 403.7,749.3 405.9,749.4 408.2,749.5 410.4,749.5 412.7,749.6 414.9,749.6" stroke="#3a3ad8"/>
<polyline points="20.2,938.6 22.5,938.6 24.7,938.6 27.0,938.6 29.2,938.6 31.4,938.6 33.7,938.6 35.9,938.6 38.2,938.6 40.4,938.6 42.7,938.6 44.9,938.6 47.1,938.6 49.4,938.6 51.6,938.6 53.9,938.6 56.1,938.6 58.4,938.6 60.6,938.6 62.8,938.6 65.1,938.6 67.3,938.6 69.6,938.6 71.8,938.6 74.0,938.6 76.3,938.6 78.5,938.6 80.8,938.6 83.0,938.6 85.3,938.6 87.5,938.6 89.7,938.6 92.0,938.6 94.2,938.6 96.5,938.6 98.7,938.6 101.0,938.6 103.2,938.6 105.4,938.6 107.7,938.6 109.9,938.6 112.2,938.6 114.4,938.6 116.7,938.6 118.9,938.6 121.1,938.6 123.4,938.6 125.6,938.6 127.9,938.6 130.1,938.5 132.4,938.5 134.6,938.5 136.8,938.5 139.1,938.5 141.3,938.5 143.6,938.4 145.8,938.4 148.1,938.3 150.3,938.3 152.5,938.2 154.8,938.1 157.0,938.0 159.3,937.9 161.5,937.7 163.8,937.5 166.0,937.3 168.2,937.0 170.5,936.6 172.7,936.2 175.0,935.6 177.2,934.9 179.4,934.1 181.7,933.1 183.9,931.9 186.2,930.5 188.4,928.7 190.7,926.6 192.9,924.1 195.1,921.2 197.4,917.7 199.6,913.7 201.9,909.2 204.1,904.0 206.4,898.2 208.6,891.8 210.8,884.9 213.1,877.5 215.3,869.8 217.6,861.9 219.8,853.8 222.1,845.7 224.3,837.8 226.5,830.2 228.8,822.8 231.0,815.9 233.3,809.4 235.5,803.4 237.8,797.9 240.0,792.8 242.2,788.3 244.5,784.2 246.7,780.5 249.0,777.1 251.2,774.2 253.5,771.5 255.7,769.2 257.9,767.1 260.2,765.2 262.4,763.5 264.7,762.0 266.9,760.7 269.1,759.5 271.4,758.5 273.6,757.6 275.9,756.9 278.1,756.3 280.4,755.7 282.6,755.3 284.8,755.0 287.1,754.7 289.3,754.5 291.6,754.4 293.8,754.3 296.1,754.2 298.3,754.2 300.5,754.2 302.8,754.2 305.0,754.2 307.3,754.2 309.5,754.1 311.8,754.1 314.0,754.0 316.2,753.9 318.5,753.9 320.7,753.7 323.0,753.6 325.2,753.5 327.5,753.4 329.7,753.2 331.9,753.1 334.2,753.0 336.4,752.9 338.7,752.8 340.9,752.7 343.2,752.6 345.4,752.6 347.6,752.6 349.9,752.6 352.1,752.7 354.4,752.8 356.6,752.9 358.8,753.0 361.1,753.1 363.3,753.3 365.6,753.4 367.8,753.5 370.1,753.7 372.3,753.8 374.5,753.9 376.8,754.0 379.0,754.0 381.3,754.1 383.5,754.1 385.8,754.1 388.0,754.0 390.2,754.0 392.5,753.9 394.7,753.8 397.0,753.7 399.2,753.6 401.5,753.5 403.7,753.3 405.9,753.2 408.2,753.1 410.4,753.1 412.7,753.0 414.9,753.0" stroke="#3535d0"/>
<polyline points="20.2,938.6 22.5,938.6 24.7,938.6 27.0,938.6 29.2,938.6 31.4,938.6 33.7,938.6 35.9,938.6 38.2,938.6 40.4,938.6 42.7,938.6 44.9,938.6 47.1,938.6 49.4,938.6 51.6,938.6 53.9,938.6 56.1,938.6 58.4,938.6 60.6,938.6 62.8,938.6 65.1,938.6 67.3,938.6 69.6,938.6 71.8,938.6 74.0,938.6 76.3,938.6 78.5,938.6 80.8,938.6 83.0,938.6 85.3,938.6 87.5,938.6 89.7,938.6 92.0,938.6 94.2,938.6 96.5,938.6 98.7,938.6 101.0,938.6 103.2,938.6 105.4,938.6 107.7,938.6 109.9,938.6 112.2,938.6 114.4,938.6 116.7,938.6 118.9,938.6 121.1,938.6 123.4,938.6 125.6,938.6 127.9,938.6 130.1,938.6 132.4,938.6 134.6,938.6 136.8,938.5 139.1,938.5 141.3,938.5 143.6,938.5 145.8,938.5 148.1,938.4 150.3,938.4 152.5,938.4 154.8,938.3 157.0,938.2 159.3,938.2 161.5,938.0 163.8,937.9 166.0,937.8 168.2,937.6 170.5,937.4 172.7,937.1 175.0,936.7 177.2,936.3 179.4,935.8 181.7,935.2 183.9,934.4 186.2,933.5 188.4,932.3 190.7,931.0 192.9,929.3 195.1,927.4 197.4,925.0 199.6,922.3 201.9,919.1 204.1,915.3 206.4,911.1 208.6,906.2 210.8,900.8 213.1,894.8 215.3,888.4 217.6,881.5 219.8,874.3 222.1,866.8 224.3,859.3 226.5,851.7 228.8,844.3 231.0,837.1 233.3,830.2 235.5,823.7 237.8,817.7 240.0,812.0 242.2,806.8 244.5,802.1 246.7,797.8 249.0,793.9 251.2,790.5 253.5,787.4 255.7,784.6 257.9,782.2 260.2,780.1 262.4,778.3 264.7,776.6 266.9,775.2 269.1,774.0 271.4,772.9 273.6,771.9 275.9,771.1 278.1,770.3 280.4,769.6 282.6,768.9 284.8,768.3 287.1,767.8 289.3,767.3 291.6,766.8 293.8,766.4 296.1,766.1 298.3,765.8 300.5,765.5 302.8,765.3 305.0,765.2 307.3,765.1 309.5,765.0 311.8,765.0 314.0,765.0 316.2,765.1 318.5,765.2 320.7,765.3 323.0,765.4 325.2,765.5 327.5,765.7 329.7,765.8 331.9,765.9 334.2,766.1 336.4,766.2 338.7,766.3 340.9,766.3 343.2,766.4 345.4,766.4 347.6,766.4 349.9,766.4 352.1,766.3 354.4,766.3 356.6,766.2 358.8,766.1 361.1,766.0 363.3,765.9 365.6,765.8 367.8,765.7 370.1,765.7 372.3,765.6 374.5,765.6 376.8,765.6 379.0,765.7 381.3,765.7 383.5,765.8 385.8,765.9 388.0,766.0 390.2,766.2 392.5,766.3 394.7,766.5 397.0,766.7 399.2,766.8 401.5,767.0 403.7,767.2 405.9,767.3 408.2,767.4 410.4,767.5 412.7,767.6 414.9,767.6" stroke="#2a2ac8"/>
<polyline points="20.2,938.6 22.5,938.6 24.7,938.6 27.0,938.6 29.2,938.6 31.4,938.6 33.7,938.6 35.9,938.6 38.2,938.6 40.4,938.6 42.7,938.6 44.9,938.6 47.1,938.6 49.4,938.6 51.6,938.6 53.9,938.6 56.1,938.6 58.4,938.6 60.6,938.6 62.8,938.6 65.1,938.6 67.3,938.6 69.6,938.6 71.8,938.6 74.0,938.6 76.3,938.6 78.5,938.6 80.8,938.6 83.0,938.6 85.3,938.6 87.5,938.6 89.7,938.6 92.0,938.6 94.2,938.6 96.5,938.6 98.7,938.6 101.0,938.6 103.2,938.6 105.4,938.6 107.7,938.6 109.9,938.6 112.2,938.6 114.4,938.6 116.7,938.6 118.9,938.6 121.1,938.6 123.4,938.6 125.6,938.6 127.9,938.6 130.1,938.5 132.4,938.5 134.6,938.5 136.8,938.5 139.1,938.5 141.3,938.5 143.6,938.5 145.8,938.4 148.1,938.4 150.3,938.4 152.5,938.3 154.8,938.3 157.0,938.2 159.3,938.1 161.5,938.0 163.8,937.9 166.0,937.8 168.2,937.7 170.5,937.5 172.7,937.3 175.0,937.0 177.2,936.7 179.4,936.4 181.7,936.0 183.9,935.5 186.2,934.9 188.4,934.2 190.7,933.5 192.9,932.5 195.1,931.4 197.4,930.2 199.6,928.7 201.9,926.9 204.1,924.9 206.4,922.6 208.6,919.9 210.8,916.9 213.1,913.4 215.3,909.5 217.6,905.1 219.8,900.2 222.1,894.8 224.3,889.0 226.5,882.7 228.8,876.0 231.0,869.0 233.3,861.8 235.5,854.4 237.8,847.1 240.0,839.8 242.2,832.7 244.5,826.0 246.7,819.6 249.0,813.7 251.2,808.2 253.5,803.2 255.7,798.8 257.9,794.8 260.2,791.3 262.4,788.2 264.7,785.5 266.9,783.1 269.1,781.1 271.4,779.3 273.6,777.8 275.9,776.5 278.1,775.4 280.4,774.4 282.6,773.7 284.8,773.0 287.1,772.5 289.3,772.1 291.6,771.8 293.8,771.6 296.1,771.5 298.3,771.4 300.5,771.3 302.8,771.3 305.0,771.3 307.3,771.3 309.5,771.3 311.8,771.3 314.0,771.3 316.2,771.3 318.5,771.3 320.7,771.2 323.0,771.2 325.2,771.1 327.5,771.0 329.7,770.9 331.9,770.8 334.2,770.7 336.4,770.6 338.7,770.5 340.9,770.4 343.2,770.3 345.4,770.2 347.6,770.2 349.9,770.2 352.1,770.2 354.4,770.2 356.6,770.3 358.8,770.4 361.1,770.5 363.3,770.6 365.6,770.8 367.8,770.9 370.1,771.1 372.3,771.2 374.5,771.4 376.8,771.5 379.0,771.6 381.3,771.7 383.5,771.8 385.8,771.9 388.0,771.9 390.2,771.9 392.5,771.9 394.7,771.8 397.0,771.8 399.2,771.7 401.5,771.6 403.7,771.5 405.9,771.4 408.2,771.3 410.4,771.2 412.7,771.1 414.9,771.1" stroke="#3030d0"/>
<polyline points="20.2,938.6 22.5,938.6 24.7,938.6 27.0,938.6 29.2,938.6 31.4,938.6 33.7,938.6 35.9,938.6 38.2,938.6 40.4,938.6 42.7,938.6 44.9,938.6 47.1,938.6 49.4,938.6 51.6,938.6 53.9,938.6 56.1,938.6 58.4,938.6 60.6,938.6 62.8,938.6 65.1,938.6 67.3,938.6 69.6,938.6 71.8,938.6 74.0,938.6 76.3,938.6 78.5,938.6 80.8,938.6 83.0,938.6 85.3,938.6 87.5,938.6 89.7,938.6 92.0,938.6 94.2,938.6 96.5,938.6 98.7,938.6 101.0,938.6 103.2,938.6 105.4,938.6 107.7,938.6 109.9,938.6 112.2,938.6 114.4,938.6 116.7,938.6 118.9,938.6 121.1,938.6 123.4,938.6 125.6,938.6 127.9,938.6 130.1,938.6 132.4,938.5 134.6,938.5 136.8,938.5 139.1,938.5 141.3,938.5 143.6,938.5 145.8,938.4 148.1,938.4 150.3,938.4 152.5,938.3 154.8,938.3 157.0,938.2 159.3,938.2 161.5,938.1 163.8,938.0 166.0,937.9 168.2,937.8 170.5,937.6 172.7,937.4 175.0,937.2 177.2,936.9 179.4,936.6 181.7,936.3 183.9,935.8 186.2,935.3 188.4,934.7 190.7,934.0 192.9,933.2 195.1,932.2 197.4,931.1 199.6,929.7 201.9,928.2 204.1,926.4 206.4,924.3 208.6,921.8 210.8,919.1 213.1,915.9 215.3,912.2 217.6,908.2 219.8,903.6 222.1,898.5 224.3,893.0 226.5,886.9 228.8,880.5 231.0,873.6 233.3,866.4 235.5,859.1 237.8,851.6 240.0,844.1 242.2,836.7 244.5,829.6 246.7,822.8 249.0,816.4 251.2,810.4 253.5,805.0 255.7,800.1 257.9,795.6 260.2,791.7 262.4,788.3 264.7,785.3 266.9,782.7 269.1,780.5 271.4,778.6 273.6,777.0 275.9,775.6 278.1,774.3 280.4,773.3 282.6,772.4 284.8,771.5 287.1,770.8 289.3,770.2 291.6,769.6 293.8,769.2 296.1,768.8 298.3,768.4 300.5,768.1 302.8,767.9 305.0,767.7 307.3,767.6 309.5,767.5 311.8,767.5 314.0,767.5 316.2,767.6 318.5,767.7 320.7,767.8 323.0,768.0 325.2,768.1 327.5,768.2 329.7,768.4 331.9,768.5 334.2,768.6 336.4,768.7 338.7,768.8 340.9,768.8 343.2,768.9 345.4,768.9 347.6,768.8 349.9,768.8 352.1,768.7 354.4,768.6 356.6,768.6 358.8,768.5 361.1,768.4 363.3,768.3 365.6,768.2 367.8,768.2 370.1,768.1 372.3,768.1 374.5,768.1 376.8,768.1 379.0,768.2 381.3,768.3 383.5,768.4 385.8,768.5 388.0,768.7 390.2,768.8 392.5,769.0 394.7,769.2 397.0,769.3 399.2,769.5 401.5,769.6 403.7,769.8 405.9,769.9 408.2,770.0 410.4,770.0 412.7,770.1 414.9,770.1" stroke="#2020b0"/>
<polyline points="20.2,938.6 22.5,938.6 24.7,938.6 27.0,938.6 29.2,938.6 31.4,938.6 33.7,938.6 35.9,938.6 38.2,938.6 40.4,938.6 42.7,938.6 44.9,938.6 47.1,938.6 49.4,938.6 51.6,938.6 53.9,938.6 56.1,938.6 58.4,938.6 60.6,938.6 62.8,938.6 65.1,938.6 67.3,938.6 69.6,938.6 71.8,938.6 74.0,938.6 76.3,938.6 78.5,938.6 80.8,938.6 83.0,938.6 85.3,938.6 87.5,938.6 89.7,938.6 92.0,938.6 94.2,938.6 96.5,938.6 98.7,938.6 101.0,938.6 103.2,938.6 105.4,938.6 107.7,938.6 109.9,938.6 112.2,938.6 114.4,938.6 116.7,938.6 118.9,938.6 121.1,938.6 123.4,938.6 125.6,938.6 127.9,938.6 130.1,938.6 132.4,938.6 134.6,938.5 136.8,938.5 139.1,938.5 141.3,938.5 143.6,938.5 145.8,938.5 148.1,938.4 150.3,938.4 152.5,938.4 154.8,938.3 157.0,938.3 159.3,938.2 161.5,938.2 163.8,938.1 166.0,938.0 168.2,937.9 170.5,937.8 172.7,937.6 175.0,937.4 177.2,937.2 179.4,936.9 181.7,936.6 183.9,936.2 186.2,935.8 188.4,935.3 190.7,934.7 192.9,934.0 195.1,933.1 197.4,932.2 199.6,931.0 201.9,929.7 204.1,928.1 206.4,926.3 208.6,924.1 210.8,921.7 213.1,918.9 215.3,915.7 217.6,912.1 219.8,908.0 222.1,903.4 224.3,898.4 226.5,892.8 228.8,886.9 231.0,880.4 233.3,873.7 235.5,866.6 237.8,859.4 240.0,852.0 242.2,844.7 244.5,837.6 246.7,830.7 249.0,824.1 251.2,817.9 253.5,812.2 255.7,807.0 257.9,802.3 260.2,798.0 262.4,794.3 264.7,791.1 266.9,788.2 269.1,785.8 271.4,783.6 273.6,781.8 275.9,780.2 278.1,778.9 280.4,777.7 282.6,776.7 284.8,775.8 287.1,775.0 289.3,774.3 291.6,773.7 293.8,773.2 296.1,772.7 298.3,772.3 300.5,772.0 302.8,771.8 305.0,771.6 307.3,771.5 309.5,771.4 311.8,771.4 314.0,771.4 316.2,771.5 318.5,771.5 320.7,771.6 323.0,771.8 325.2,771.9 327.5,772.0 329.7,772.1 331.9,772.2 334.2,772.3 336.4,772.4 338.7,772.4 340.9,772.4 343.2,772.4 345.4,772.4 347.6,772.3 349.9,772.3 352.1,772.2 354.4,772.1 356.6,772.0 358.8,771.9 361.1,771.8 363.3,771.7 365.6,771.6 367.8,771.5 370.1,771.5 372.3,771.5 374.5,771.5 376.8,771.5 379.0,771.6 381.3,771.7 383.5,771.8 385.8,771.9 388.0,772.0 390.2,772.2 392.5,772.3 394.7,772.5 397.0,772.6 399.2,772.8 401.5,772.9 403.7,773.0 405.9,773.1 408.2,773.2 410.4,773.2 412.7,773.2 414.9,773.2" stroke="#3a3ad0"/>
<polyline points="20.2,938.6 22.5,938.6 24.7,938.6 27.0,938.6 29.2,938.6 31.4,938.6 33.7,938.6 35.9,938.6 38.2,938.6 40.4,938.6 42.7,938.6 44.9,938.6 47.1,938.6 49.4,938.6 51.6,938.6 53.9,938.6 56.1,938.6 58.4,938.6 60.6,938.6 62.8,938.6 65.1,938.6 67.3,938.6 69.6,938.6 71.8,938.6 74.0,938.6 76.3,938.6 78.5,938.6 80.8,938.6 83.0,938.6 85.3,938.6 87.5,938.6 89.7,938.6 92.0,938.6 94.2,938.6 96.5,938.6 98.7,938.6 101.0,938.6 103.2,938.6 105.4,938.6 107.7,938.6 109.9,938.6 112.2,938.6 114.4,938.6 116.7,938.6 118.9,938.6 121.1,938.6 123.4,938.6 125.6,938.6 127.9,938.6 130.1,938.6 132.4,938.6 134.6,938.5 136.8,938.5 139.1,938.5 141.3,938.5 143.6,938.5 145.8,938.5 148.1,938.5 150.3,938.4 152.5,938.4 154.8,938.4 157.0,938.3 159.3,938.3 161.5,938.2 163.8,938.1 166.0,938.0 168.2,937.9 170.5,937.8 172.7,937.6 175.0,937.5 177.2,937.2 179.4,937.0 181.7,936.7 183.9,936.3 186.2,935.9 188.4,935.4 190.7,934.8 192.9,934.1 195.1,933.3 197.4,932.4 199.6,931.2 201.9,929.9 204.1,928.4 206.4,926.6 208.6,924.5 210.8,922.1 213.1,919.4 215.3,916.2 217.6,912.6 219.8,908.5 222.1,903.8 224.3,898.7 226.5,893.0 228.8,886.8 231.0,880.1 233.3,872.9 235.5,865.4 237.8,857.6 240.0,849.5 242.2,841.4 244.5,833.4 246.7,825.6 249.0,818.0 251.2,810.8 253.5,804.1 255.7,797.9 257.9,792.2 260.2,787.1 262.4,782.5 264.7,778.4 266.9,774.9 269.1,771.7 271.4,769.0 273.6,766.6 275.9,764.6 278.1,762.8 280.4,761.3 282.6,760.1 284.8,759.0 287.1,758.1 289.3,757.4 291.6,756.8 293.8,756.4 296.1,756.1 298.3,755.8 300.5,755.6 302.8,755.5 305.0,755.4 307.3,755.3 309.5,755.2 311.8,755.2 314.0,755.2 316.2,755.1 318.5,755.1 320.7,755.0 323.0,754.9 325.2,754.9 327.5,754.7 329.7,754.6 331.9,754.5 334.2,754.4 336.4,754.3 338.7,754.2 340.9,754.1 343.2,754.0 345.4,753.9 347.6,753.9 349.9,753.8 352.1,753.8 354.4,753.9 356.6,753.9 358.8,754.0 361.1,754.1 363.3,754.2 365.6,754.4 367.8,754.5 370.1,754.7 372.3,754.8 374.5,755.0 376.8,755.1 379.0,755.2 381.3,755.4 383.5,755.4 385.8,755.5 388.0,755.5 390.2,755.6 392.5,755.5 394.7,755.5 397.0,755.4 399.2,755.4 401.5,755.3 403.7,755.2 405.9,755.1 408.2,755.0 410.4,754.9 412.7,754.8 414.9,754.7" stroke="#2828a0"/>
<polyline points="20.2,938.6 22.5,938.6 24.7,938.6 27.0,938.6 29.2,938.6 31.4,938.6 33.7,938.6 35.9,938.6 38.2,938.6 40.4,938.6 42.7,938.6 44.9,938.6 47.1,938.6 49.4,938.6 51.6,938.6 53.9,938.6 56.1,938.6 58.4,938.6 60.6,938.6 62.8,938.6 65.1,938.6 67.3,938.6 69.6,938.6 71.8,938.6 74.0,938.6 76.3,938.6 78.5,938.6 80.8,938.6 83.0,938.6 85.3,938.6 87.5,938.6 89.7,938.6 92.0,938.6 94.2,938.6 96.5,938.6 98.7,938.6 101.0,938.6 103.2,938.6 105.4,938.6 107.7,938.6 109.9,938.6 112.2,938.6 114.4,938.6 116.7,938.6 118.9,938.6 121.1,938.6 123.4,938.6 125.6,938.6 127.9,938.6 130.1,938.6 132.4,938.6 134.6,938.6 136.8,938.6 139.1,938.5 141.3,938.5 143.6,938.5 145.8,938.5 148.1,938.5 150.3,938.5 152.5,938.4 154.8,938.4 157.0,938.4 159.3,938.3 161.5,938.3 163.8,938.2 166.0,938.1 168.2,938.1 170.5,937.9 172.7,937.8 175.0,937.7 177.2,937.5 179.4,937.3 181.7,937.1 183.9,936.8 186.2,936.4 188.4,936.0 190.7,935.6 192.9,935.0 195.1,934.4 197.4,933.6 199.6,932.7 201.9,931.6 204.1,930.4 206.4,928.9 208.6,927.2 210.8,925.3 213.1,923.0 215.3,920.4 217.6,917.4 219.8,914.0 222.1,910.1 224.3,905.8 226.5,901.0 228.8,895.7 231.0,889.9 233.3,883.6 235.5,877.0 237.8,870.0 240.0,862.8 242.2,855.4 244.5,847.9 246.7,840.6 249.0,833.4 251.2,826.5 253.5,820.0 255.7,813.9 257.9,808.3 260.2,803.2 262.4,798.6 264.7,794.5 266.9,790.9 269.1,787.7 271.4,785.0 273.6,782.6 275.9,780.7 278.1,779.0 280.4,777.5 282.6,776.3 284.8,775.3 287.1,774.5 289.3,773.8 291.6,773.1 293.8,772.6 296.1,772.1 298.3,771.6 300.5,771.2 302.8,770.9 305.0,770.5 307.3,770.2 309.5,769.9 311.8,769.7 314.0,769.4 316.2,769.3 318.5,769.1 320.7,769.0 323.0,768.9 325.2,768.9 327.5,768.9 329.7,768.9 331.9,769.0 334.2,769.1 336.4,769.2 338.7,769.3 340.9,769.4 343.2,769.6 345.4,769.7 347.6,769.9 349.9,770.0 352.1,770.1 354.4,770.2 356.6,770.3 358.8,770.4 361.1,770.4 363.3,770.4 365.6,770.4 367.8,770.4 370.1,770.3 372.3,770.2 374.5,770.1 376.8,770.0 379.0,769.9 381.3,769.8 383.5,769.7 385.8,769.6 388.0,769.6 390.2,769.5 392.5,769.5 394.7,769.5 397.0,769.5 399.2,769.6 401.5,769.7 403.7,769.8 405.9,769.9 408.2,770.0 410.4,770.2 412.7,770.3 414.9,770.5" stroke="#2a2ab8"/>
<polyline points="20.2,938.6 22.5,938.6 24.7,938.6 27.0,938.6 29.2,938.6 31.4,938.6 33.7,938.6 35.9,938.6 38.2,938.6 40.4,938.6 42.7,938.6 44.9,938.6 47.1,938.6 49.4,938.6 51.6,938.6 53.9,938.6 56.1,938.6 58.4,938.6 60.6,938.6 62.8,938.6 65.1,938.6 67.3,938.6 69.6,938.6 71.8,938.6 74.0,938.6 76.3,938.6 78.5,938.6 80.8,938.6 83.0,938.6 85.3,938.6 87.5,938.6 89.7,938.6 92.0,938.6 94.2,938.6 96.5,938.6 98.7,938.6 101.0,938.6 103.2,938.6 105.4,938.6 107.7,938.6 109.9,938.6 112.2,938.6 114.4,938.6 116.7,938.6 118.9,938.6 121.1,938.6 123.4,938.6 125.6,938.6 127.9,938.6 130.1,938.6 132.4,938.6 134.6,938.6 136.8,938.6 139.1,938.5 141.3,938.5 143.6,938.5 145.8,938.5 148.1,938.5 150.3,938.5 152.5,938.5 154.8,938.4 157.0,938.4 159.3,938.4 161.5,938.3 163.8,938.3 166.0,938.2 168.2,938.1 170.5,938.0 172.7,937.9 175.0,937.8 177.2,937.6 179.4,937.4 181.7,937.2 183.9,937.0 186.2,936.7 188.4,936.3 190.7,935.9 192.9,935.4 195.1,934.8 197.4,934.1 199.6,933.3 201.9,932.4 204.1,931.3 206.4,929.9 208.6,928.4 210.8,926.6 213.1,924.6 215.3,922.2 217.6,919.5 219.8,916.3 222.1,912.8 224.3,908.7 226.5,904.2 228.8,899.2 231.0,893.7 233.3,887.7 235.5,881.3 237.8,874.4 240.0,867.2 242.2,859.8 244.5,852.3 246.7,844.7 249.0,837.2 251.2,830.0 253.5,823.0 255.7,816.5 257.9,810.4 260.2,804.8 262.4,799.7 264.7,795.2 266.9,791.1 269.1,787.6 271.4,784.4 273.6,781.7 275.9,779.4 278.1,777.3 280.4,775.5 282.6,774.0 284.8,772.7 287.1,771.5 289.3,770.5 291.6,769.6 293.8,768.9 296.1,768.3 298.3,767.8 300.5,767.3 302.8,767.0 305.0,766.7 307.3,766.5 309.5,766.4 311.8,766.3 314.0,766.3 316.2,766.3 318.5,766.4 320.7,766.5 323.0,766.6 325.2,766.7 327.5,766.8 329.7,766.9 331.9,766.9 334.2,767.0 336.4,767.1 338.7,767.1 340.9,767.1 343.2,767.1 345.4,767.0 347.6,766.9 349.9,766.9 352.1,766.8 354.4,766.7 356.6,766.6 358.8,766.5 361.1,766.4 363.3,766.4 365.6,766.3 367.8,766.3 370.1,766.3 372.3,766.3 374.5,766.3 376.8,766.4 379.0,766.5 381.3,766.6 383.5,766.8 385.8,766.9 388.0,767.1 390.2,767.3 392.5,767.4 394.7,767.6 397.0,767.8 399.2,767.9 401.5,768.0 403.7,768.1 405.9,768.2 408.2,768.2 410.4,768.3 412.7,768.3 414.9,768.3" stroke="#2222a0"/>
<polyline points="20.2,938.6 22.5,938.6 24.7,938.6 27.0,938.6 29.2,938.6 31.4,938.6 33.7,938.6 35.9,938.6 38.2,938.6 40.4,938.6 42.7,938.6 44.9,938.6 47.1,938.6 49.4,938.6 51.6,938.6 53.9,938.6 56.1,938.6 58.4,938.6 60.6,938.6 62.8,938.6 65.1,938.6 67.3,938.6 69.6,938.6 71.8,938.6 74.0,938.6 76.3,938.6 78.5,938.6 80.8,938.6 83.0,938.6 85.3,938.6 87.5,938.6 89.7,938.6 92.0,938.6 94.2,938.6 96.5,938.6 98.7,938.6 101.0,938.6 103.2,938.6 105.4,938.6 107.7,938.6 109.9,938.6 112.2,938.6 114.4,938.6 116.7,938.6 118.9,938.6 121.1,938.6 123.4,938.6 125.6,938.6 127.9,938.6 130.1,938.6 132.4,938.6 134.6,938.6 136.8,938.6 139.1,938.6 141.3,938.5 143.6,938.5 145.8,938.5 148.1,938.5 150.3,938.5 152.5,938.5 154.8,938.5 157.0,938.4 159.3,938.4 161.5,938.4 163.8,938.3 166.0,938.3 168.2,938.2 170.5,938.1 172.7,938.0 175.0,937.9 177.2,937.8 179.4,937.6 181.7,937.5 183.9,937.2 186.2,937.0 188.4,936.7 190.7,936.3 192.9,935.9 195.1,935.4 197.4,934.9 199.6,934.2 201.9,933.4 204.1,932.4 206.4,931.3 208.6,930.0 210.8,928.5 213.1,926.8 215.3,924.7 217.6,922.4 219.8,919.7 222.1,916.6 224.3,913.1 226.5,909.1 228.8,904.7 231.0,899.8 233.3,894.4 235.5,888.6 237.8,882.3 240.0,875.7 242.2,868.7 244.5,861.6 246.7,854.3 249.0,847.1 251.2,840.0 253.5,833.1 255.7,826.5 257.9,820.3 260.2,814.6 262.4,809.3 264.7,804.5 266.9,800.2 269.1,796.4 271.4,793.1 273.6,790.1 275.9,787.5 278.1,785.3 280.4,783.3 282.6,781.6 284.8,780.2 287.1,778.9 289.3,777.9 291.6,776.9 293.8,776.2 296.1,775.6 298.3,775.0 300.5,774.6 302.8,774.3 305.0,774.1 307.3,774.0 309.5,773.9 311.8,773.8 314.0,773.8 316.2,773.8 318.5,773.8 320.7,773.9 323.0,773.9 325.2,773.9 327.5,774.0 329.7,774.0 331.9,774.0 334.2,774.0 336.4,773.9 338.7,773.8 340.9,773.8 343.2,773.7 345.4,773.6 347.6,773.4 349.9,773.3 352.1,773.2 354.4,773.1 356.6,773.0 358.8,773.0 361.1,772.9 363.3,772.9 365.6,772.9 367.8,773.0 370.1,773.0 372.3,773.1 374.5,773.2 376.8,773.3 379.0,773.5 381.3,773.6 383.5,773.8 385.8,773.9 388.0,774.1 390.2,774.2 392.5,774.3 394.7,774.5 397.0,774.5 399.2,774.6 401.5,774.6 403.7,774.7 405.9,774.6 408.2,774.6 410.4,774.6 412.7,774.5 414.9,774.4" stroke="#3030c0"/>
<polyline points="20.2,938.6 22.5,938.6 24.7,938.6 27.0,938.6 29.2,938.6 31.4,938.6 33.7,938.6 35.9,938.6 38.2,938.6 40.4,938.6 42.7,938.6 44.9,938.6 47.1,938.6 49.4,938.6 51.6,938.6 53.9,938.6 56.1,938.6 58.4,938.6 60.6,938.6 62.8,938.6 65.1,938.6 67.3,938.6 69.6,938.6 71.8,938.6 74.0,938.6 76.3,938.6 78.5,938.6 80.8,938.6 83.0,938.6 85.3,938.6 87.5,938.6 89.7,938.6 92.0,938.6 94.2,938.6 96.5,938.6 98.7,938.6 101.0,938.6 103.2,938.6 105.4,938.6 107.7,938.6 109.9,938.6 112.2,938.6 114.4,938.6 116.7,938.6 118.9,938.6 121.1,938.6 123.4,938.6 125.6,938.6 127.9,938.6 130.1,938.6 132.4,938.6 134.6,938.6 136.8,938.6 139.1,938.6 141.3,938.6 143.6,938.6 145.8,938.6 148.1,938.6 150.3,938.6 152.5,938.6 154.8,938.5 157.0,938.5 159.3,938.5 161.5,938.5 163.8,938.5 166.0,938.4 168.2,938.4 170.5,938.3 172.7,938.3 175.0,938.2 177.2,938.1 179.4,938.0 181.7,937.9 183.9,937.7 186.2,937.5 188.4,937.3 190.7,937.0 192.9,936.6 195.1,936.1 197.4,935.5 199.6,934.8 201.9,934.0 204.1,932.9 206.4,931.6 208.6,930.1 210.8,928.3 213.1,926.1 215.3,923.5 217.6,920.5 219.8,917.1 222.1,913.2 224.3,908.8 226.5,903.9 228.8,898.7 231.0,893.1 233.3,887.2 235.5,881.1 237.8,874.9 240.0,868.8 242.2,862.7 244.5,856.7 246.7,851.0 249.0,845.5 251.2,840.2 253.5,835.3 255.7,830.7 257.9,826.4 260.2,822.4 262.4,818.7 264.7,815.2 266.9,812.0 269.1,809.0 271.4,806.3 273.6,803.8 275.9,801.5 278.1,799.4 280.4,797.5 282.6,795.8 284.8,794.3 287.1,792.9 289.3,791.7 291.6,790.6 293.8,789.6 296.1,788.7 298.3,787.9 300.5,787.1 302.8,786.4 305.0,785.7 307.3,785.1 309.5,784.6 311.8,784.0 314.0,783.5 316.2,783.0 318.5,782.5 320.7,782.1 323.0,781.7 325.2,781.4 327.5,781.0 329.7,780.8 331.9,780.5 334.2,780.3 336.4,780.1 338.7,780.0 340.9,779.9 343.2,779.9 345.4,779.8 347.6,779.9 349.9,779.9 352.1,780.0 354.4,780.1 356.6,780.1 358.8,780.2 361.1,780.3 363.3,780.4 365.6,780.5 367.8,780.6 370.1,780.6 372.3,780.7 374.5,780.7 376.8,780.6 379.0,780.6 381.3,780.5 383.5,780.4 385.8,780.3 388.0,780.2 390.2,780.1 392.5,780.0 394.7,779.9 397.0,779.7 399.2,779.6 401.5,779.6 403.7,779.5 405.9,779.5 408.2,779.4 410.4,779.5 412.7,779.5 414.9,779.5" stroke="#303070"/>
<polyline points="20.2,938.6 22.5,938.6 24.7,938.6 27.0,938.6 29.2,938.6 31.4,938.6 33.7,938.6 35.9,938.6 38.2,938.6 40.4,938.6 42.7,938.6 44.9,938.6 47.1,938.6 49.4,938.6 51.6,938.6 53.9,938.6 56.1,938.6 58.4,938.6 60.6,938.6 62.8,938.6 65.1,938.6 67.3,938.6 69.6,938.6 71.8,938.6 74.0,938.6 76.3,938.6 78.5,938.6 80.8,938.6 83.0,938.6 85.3,938.6 87.5,938.6 89.7,938.6 92.0,938.6 94.2,938.6 96.5,938.6 98.7,938.6 101.0,938.6 103.2,938.6 105.4,938.6 107.7,938.6 109.9,938.6 112.2,938.6 114.4,938.6 116.7,938.6 118.9,938.6 121.1,938.6 123.4,938.6 125.6,938.6 127.9,938.6 130.1,938.6 132.4,938.6 134.6,938.6 136.8,938.6 139.1,938.6 141.3,938.6 143.6,938.6 145.8,938.6 148.1,938.6 150.3,938.6 152.5,938.6 154.8,938.6 157.0,938.6 159.3,938.6 161.5,938.6 163.8,938.6 166.0,938.6 168.2,938.6 170.5,938.6 172.7,938.6 175.0,938.6 177.2,938.6 179.4,938.6 181.7,938.6 183.9,938.6 186.2,938.6 188.4,938.6 190.7,938.6 192.9,938.6 195.1,938.6 197.4,938.6 199.6,938.6 201.9,938.6 204.1,938.6 206.4,938.6 208.6,938.6 210.8,938.6 213.1,938.6 215.3,938.6 217.6,938.6 219.8,938.6 222.1,938.6 224.3,938.6 226.5,938.6 228.8,938.6 231.0,938.6 233.3,938.5 235.5,938.5 237.8,938.5 240.0,938.5 242.2,938.5 244.5,938.5 246.7,938.5 249.0,938.4 251.2,938.4 253.5,938.4 255.7,938.3 257.9,938.3 260.2,938.2 262.4,938.2 264.7,938.1 266.9,938.0 269.1,937.9 271.4,937.7 273.6,937.6 275.9,937.4 278.1,937.2 280.4,936.9 282.6,936.6 284.8,936.2 287.1,935.8 289.3,935.3 291.6,934.7 293.8,934.0 296.1,933.2 298.3,932.2 300.5,931.1 302.8,929.8 305.0,928.3 307.3,926.5 309.5,924.4 311.8,922.0 314.0,919.3 316.2,916.2 318.5,912.7 320.7,908.7 323.0,904.3 325.2,899.4 327.5,894.0 329.7,888.1 331.9,881.8 334.2,875.1 336.4,868.2 338.7,860.9 340.9,853.5 343.2,846.0 345.4,838.6 347.6,831.2 349.9,824.1 352.1,817.2 354.4,810.6 356.6,804.4 358.8,798.6 361.1,793.2 363.3,788.3 365.6,783.7 367.8,779.6 370.1,775.9 372.3,772.5 374.5,769.5 376.8,766.8 379.0,764.4 381.3,762.3 383.5,760.4 385.8,758.8 388.0,757.3 390.2,756.1 392.5,754.9 394.7,754.0 397.0,753.1 399.2,752.4 401.5,751.7 403.7,751.2 405.9,750.7 408.2,750.2 410.4,749.9 412.7,749.5 414.9,749.3" stroke="#a82838"/>
<polyline points="20.2,938.6 22.5,938.6 24.7,938.6 27.0,938.6 29.2,938.6 31.4,938.6 33.7,938.6 35.9,938.6 38.2,938.6 40.4,938.6 42.7,938.6 44.9,938.6 47.1,938.6 49.4,938.6 51.6,938.6 53.9,938.6 56.1,938.6 58.4,938.6 60.6,938.6 62.8,938.6 65.1,938.6 67.3,938.6 69.6,938.6 71.8,938.6 74.0,938.6 76.3,938.6 78.5,938.6 80.8,938.6 83.0,938.6 85.3,938.6 87.5,938.6 89.7,938.6 92.0,938.6 94.2,938.6 96.5,938.6 98.7,938.6 101.0,938.6 103.2,938.6 105.4,938.6 107.7,938.6 109.9,938.6 112.2,938.6 114.4,938.6 116.7,938.6 118.9,938.6 121.1,938.6 123.4,938.6 125.6,938.6 127.9,938.6 130.1,938.6 132.4,938.6 134.6,938.6 136.8,938.6 139.1,938.6 141.3,938.6 143.6,938.6 145.8,938.6 148.1,938.6 150.3,938.6 152.5,938.6 154.8,938.6 157.0,938.6 159.3,938.6 161.5,938.6 163.8,938.6 166.0,938.6 168.2,938.6 170.5,938.6 172.7,938.6 175.0,938.6 177.2,938.6 179.4,938.6 181.7,938.6 183.9,938.6 186.2,938.6 188.4,938.6 190.7,938.6 192.9,938.6 195.1,938.6 197.4,938.6 199.6,938.6 201.9,938.6 204.1,938.6 206.4,938.6 208.6,938.6 210.8,938.6 213.1,938.6 215.3,938.6 217.6,938.6 219.8,938.6 222.1,938.6 224.3,938.6 226.5,938.6 228.8,938.6 231.0,938.6 233.3,938.6 235.5,938.5 237.8,938.5 240.0,938.5 242.2,938.5 244.5,938.5 246.7,938.5 249.0,938.5 251.2,938.4 253.5,938.4 255.7,938.4 257.9,938.3 260.2,938.3 262.4,938.2 264.7,938.1 266.9,938.0 269.1,937.9 271.4,937.8 273.6,937.7 275.9,937.5 278.1,937.3 280.4,937.1 282.6,936.8 284.8,936.5 287.1,936.1 289.3,935.6 291.6,935.1 293.8,934.5 296.1,933.7 298.3,932.8 300.5,931.8 302.8,930.6 305.0,929.2 307.3,927.6 309.5,925.7 311.8,923.5 314.0,921.0 316.2,918.1 318.5,914.9 320.7,911.2 323.0,907.1 325.2,902.5 327.5,897.5 329.7,892.1 331.9,886.3 334.2,880.1 336.4,873.7 338.7,867.0 340.9,860.1 343.2,853.2 345.4,846.3 347.6,839.5 349.9,832.8 352.1,826.4 354.4,820.2 356.6,814.4 358.8,808.9 361.1,803.8 363.3,799.1 365.6,794.7 367.8,790.7 370.1,787.0 372.3,783.7 374.5,780.7 376.8,778.0 379.0,775.5 381.3,773.4 383.5,771.4 385.8,769.7 388.0,768.1 390.2,766.7 392.5,765.5 394.7,764.4 397.0,763.5 399.2,762.6 401.5,761.9 403.7,761.3 405.9,760.7 408.2,760.2 410.4,759.7 412.7,759.4 414.9,759.0" stroke="#902838"/>
<polyline points="20.2,938.6 22.5,938.6 24.7,938.6 27.0,938.6 29.2,938.6 31.4,938.6 33.7,938.6 35.9,938.6 38.2,938.6 40.4,938.6 42.7,938.6 44.9,938.6 47.1,938.6 49.4,938.6 51.6,938.6 53.9,938.6 56.1,938.6 58.4,938.6 60.6,938.6 62.8,938.6 65.1,938.6 67.3,938.6 69.6,938.6 71.8,938.6 74.0,938.6 76.3,938.6 78.5,938.6 80.8,938.6 83.0,938.6 85.3,938.6 87.5,938.6 89.7,938.6 92.0,938.6 94.2,938.6 96.5,938.6 98.7,938.6 101.0,938.6 103.2,938.6 105.4,938.6 107.7,938.6 109.9,938.6 112.2,938.6 114.4,938.6 116.7,938.6 118.9,938.6 121.1,938.6 123.4,938.6 125.6,938.6 127.9,938.6 130.1,938.6 132.4,938.6 134.6,938.6 136.8,938.6 139.1,938.6 141.3,938.6 143.6,938.6 145.8,938.6 148.1,938.6 150.3,938.6 152.5,938.6 154.8,938.6 157.0,938.6 159.3,938.6 161.5,938.6 163.8,938.6 166.0,938.6 168.2,938.6 170.5,938.6 172.7,938.6 175.0,938.6 177.2,938.6 179.4,938.6 181.7,938.6 183.9,938.6 186.2,938.6 188.4,938.6 190.7,938.6 192.9,938.6 195.1,938.6 197.4,938.6 199.6,938.6 201.9,938.6 204.1,938.6 206.4,938.6 208.6,938.6 210.8,938.6 213.1,938.6 215.3,938.6 217.6,938.6 219.8,938.6 222.1,938.6 224.3,938.6 226.5,938.6 228.8,938.6 231.0,938.6 233.3,938.6 235.5,938.6 237.8,938.6 240.0,938.6 242.2,938.6 244.5,938.6 246.7,938.6 249.0,938.5 251.2,938.5 253.5,938.5 255.7,938.5 257.9,938.5 260.2,938.5 262.4,938.4 264.7,938.4 266.9,938.4 269.1,938.3 271.4,938.3 273.6,938.2 275.9,938.2 278.1,938.1 280.4,938.0 282.6,937.9 284.8,937.8 287.1,937.6 289.3,937.4 291.6,937.2 293.8,937.0 296.1,936.7 298.3,936.3 300.5,935.9 302.8,935.4 305.0,934.8 307.3,934.1 309.5,933.3 311.8,932.4 314.0,931.3 316.2,930.0 318.5,928.5 320.7,926.8 323.0,924.8 325.2,922.5 327.5,919.8 329.7,916.9 331.9,913.5 334.2,909.8 336.4,905.8 338.7,901.3 340.9,896.5 343.2,891.4 345.4,886.0 347.6,880.4 349.9,874.6 352.1,868.7 354.4,862.8 356.6,857.0 358.8,851.3 361.1,845.7 363.3,840.4 365.6,835.2 367.8,830.4 370.1,825.8 372.3,821.6 374.5,817.6 376.8,814.0 379.0,810.6 381.3,807.5 383.5,804.7 385.8,802.1 388.0,799.7 390.2,797.6 392.5,795.7 394.7,794.0 397.0,792.4 399.2,791.0 401.5,789.8 403.7,788.7 405.9,787.7 408.2,786.8 410.4,786.0 412.7,785.3 414.9,784.7" stroke="#8a3040"/>
<polyline points="20.2,938.6 22.5,938.6 24.7,938.6 27.0,938.6 29.2,938.6 31.4,938.6 33.7,938.6 35.9,938.6 38.2,938.6 40.4,938.6 42.7,938.6 44.9,938.6 47.1,938.6 49.4,938.6 51.6,938.6 53.9,938.6 56.1,938.6 58.4,938.6 60.6,938.6 62.8,938.6 65.1,938.6 67.3,938.6 69.6,938.6 71.8,938.6 74.0,938.6 76.3,938.6 78.5,938.6 80.8,938.6 83.0,938.6 85.3,938.6 87.5,938.6 89.7,938.6 92.0,938.6 94.2,938.6 96.5,938.6 98.7,938.6 101.0,938.6 103.2,938.6 105.4,938.6 107.7,938.6 109.9,938.6 112.2,938.6 114.4,938.6 116.7,938.6 118.9,938.6 121.1,938.6 123.4,938.6 125.6,938.6 127.9,938.6 130.1,938.6 132.4,938.6 134.6,938.6 136.8,938.6 139.1,938.6 141.3,938.6 143.6,938.6 145.8,938.6 148.1,938.6 150.3,938.6 152.5,938.6 154.8,938.6 157.0,938.6 159.3,938.6 161.5,938.6 163.8,938.6 166.0,938.6 168.2,938.6 170.5,938.6 172.7,938.6 175.0,938.6 177.2,938.6 179.4,938.6 181.7,938.6 183.9,938.6 186.2,938.6 188.4,938.6 190.7,938.6 192.9,938.6 195.1,938.6 197.4,938.6 199.6,938.6 201.9,938.6 204.1,938.6 206.4,938.6 208.6,938.6 210.8,938.6 213.1,938.6 215.3,938.6 217.6,938.6 219.8,938.6 222.1,938.6 224.3,938.6 226.5,938.6 228.8,938.6 231.0,938.6 233.3,938.6 235.5,938.6 237.8,938.6 240.0,938.6 242.2,938.6 244.5,938.6 246.7,938.6 249.0,938.6 251.2,938.6 253.5,938.6 255.7,938.6 257.9,938.6 260.2,938.6 262.4,938.6 264.7,938.6 266.9,938.6 269.1,938.6 271.4,938.6 273.6,938.6 275.9,938.6 278.1,938.6 280.4,938.6 282.6,938.6 284.8,938.5 287.1,938.5 289.3,938.5 291.6,938.5 293.8,938.5 296.1,938.5 298.3,938.5 300.5,938.4 302.8,938.4 305.0,938.4 307.3,938.3 309.5,938.3 311.8,938.2 314.0,938.1 316.2,938.1 318.5,938.0 320.7,937.8 323.0,937.7 325.2,937.5 327.5,937.4 329.7,937.1 331.9,936.9 334.2,936.5 336.4,936.2 338.7,935.7 340.9,935.2 343.2,934.6 345.4,933.9 347.6,933.0 349.9,932.0 352.1,930.8 354.4,929.5 356.6,927.9 358.8,926.0 361.1,923.9 363.3,921.5 365.6,918.7 367.8,915.6 370.1,912.1 372.3,908.2 374.5,904.0 376.8,899.3 379.0,894.3 381.3,889.0 383.5,883.4 385.8,877.6 388.0,871.6 390.2,865.6 392.5,859.6 394.7,853.6 397.0,847.7 399.2,842.0 401.5,836.6 403.7,831.4 405.9,826.5 408.2,821.9 410.4,817.5 412.7,813.5 414.9,809.8" stroke="#a03838"/>
<polyline points="20.2,938.6 22.5,938.6 24.7,938.6 27.0,938.6 29.2,938.6 31.4,938.6 33.7,938.6 35.9,938.6 38.2,938.6 40.4,938.6 42.7,938.6 44.9,938.6 47.1,938.6 49.4,938.6 51.6,938.6 53.9,938.6 56.1,938.6 58.4,938.6 60.6,938.6 62.8,938.6 65.1,938.6 67.3,938.6 69.6,938.6 71.8,938.6 74.0,938.6 76.3,938.6 78.5,938.6 80.8,938.6 83.0,938.6 85.3,938.6 87.5,938.6 89.7,938.6 92.0,938.6 94.2,938.6 96.5,938.6 98.7,938.6 101.0,938.6 103.2,938.6 105.4,938.6 107.7,938.6 109.9,938.6 112.2,938.6 114.4,938.6 116.7,938.6 118.9,938.6 121.1,938.6 123.4,938.6 125.6,938.6 127.9,938.6 130.1,938.6 132.4,938.6 134.6,938.6 136.8,938.6 139.1,938.6 141.3,938.6 143.6,938.6 145.8,938.6 148.1,938.6 150.3,938.6 152.5,938.6 154.8,938.6 157.0,938.6 159.3,938.6 161.5,938.6 163.8,938.6 166.0,938.6 168.2,938.6 170.5,938.6 172.7,938.6 175.0,938.6 177.2,938.6 179.4,938.6 181.7,938.6 183.9,938.6 186.2,938.6 188.4,938.6 190.7,938.6 192.9,938.6 195.1,938.6 197.4,938.6 199.6,938.6 201.9,938.6 204.1,938.6 206.4,938.6 208.6,938.6 210.8,938.6 213.1,938.6 215.3,938.6 217.6,938.6 219.8,938.6 222.1,938.6 224.3,938.6 226.5,938.6 228.8,938.6 231.0,938.6 233.3,938.6 235.5,938.6 237.8,938.6 240.0,938.6 242.2,938.6 244.5,938.6 246.7,938.6 249.0,938.6 251.2,938.6 253.5,938.6 255.7,938.6 257.9,938.6 260.2,938.6 262.4,938.6 264.7,938.6 266.9,938.6 269.1,938.6 271.4,938.6 273.6,938.6 275.9,938.6 278.1,938.6 280.4,938.6 282.6,938.6 284.8,938.6 287.1,938.6 289.3,938.5 291.6,938.5 293.8,938.5 296.1,938.5 298.3,938.5 300.5,938.5 302.8,938.5 305.0,938.4 307.3,938.4 309.5,938.4 311.8,938.3 314.0,938.3 316.2,938.2 318.5,938.1 320.7,938.0 323.0,937.9 325.2,937.8 327.5,937.7 329.7,937.5 331.9,937.3 334.2,937.0 336.4,936.7 338.7,936.4 340.9,936.0 343.2,935.5 345.4,935.0 347.6,934.3 349.9,933.5 352.1,932.6 354.4,931.6 356.6,930.3 358.8,928.9 361.1,927.2 363.3,925.2 365.6,923.0 367.8,920.4 370.1,917.5 372.3,914.3 374.5,910.6 376.8,906.6 379.0,902.2 381.3,897.4 383.5,892.2 385.8,886.8 388.0,881.1 390.2,875.2 392.5,869.2 394.7,863.2 397.0,857.2 399.2,851.2 401.5,845.4 403.7,839.8 405.9,834.5 408.2,829.4 410.4,824.6 412.7,820.1 414.9,815.9" stroke="#903040"/>
<polyline points="20.2,938.6 22.5,938.6 24.7,938.6 27.0,938.6 29.2,938.6 31.4,938.6 33.7,938.6 35.9,938.6 38.2,938.6 40.4,938.6 42.7,938.6 44.9,938.6 47.1,938.6 49.4,938.6 51.6,938.6 53.9,938.6 56.1,938.6 58.4,938.6 60.6,938.6 62.8,938.6 65.1,938.6 67.3,938.6 69.6,938.6 71.8,938.6 74.0,938.6 76.3,938.6 78.5,938.6 80.8,938.6 83.0,938.6 85.3,938.6 87.5,938.6 89.7,938.6 92.0,938.6 94.2,938.6 96.5,938.6 98.7,938.6 101.0,938.6 103.2,938.6 105.4,938.6 107.7,938.6 109.9,938.6 112.2,938.6 114.4,938.6 116.7,938.6 118.9,938.6 121.1,938.6 123.4,938.6 125.6,938.6 127.9,938.6 130.1,938.6 132.4,938.6 134.6,938.6 136.8,938.6 139.1,938.6 141.3,938.6 143.6,938.6 145.8,938.6 148.1,938.6 150.3,938.6 152.5,938.6 154.8,938.6 157.0,938.6 159.3,938.6 161.5,938.6 163.8,938.6 166.0,938.6 168.2,938.6 170.5,938.6 172.7,938.6 175.0,938.6 177.2,938.6 179.4,938.6 181.7,938.6 183.9,938.6 186.2,938.6 188.4,938.6 190.7,938.6 192.9,938.6 195.1,938.6 197.4,938.6 199.6,938.6 201.9,938.6 204.1,938.6 206.4,938.6 208.6,938.6 210.8,938.6 213.1,938.6 215.3,938.6 217.6,938.6 219.8,938.6 222.1,938.6 224.3,938.6 226.5,938.6 228.8,938.6 231.0,938.6 233.3,938.6 235.5,938.6 237.8,938.6 240.0,938.6 242.2,938.6 244.5,938.6 246.7,938.6 249.0,938.6 251.2,938.6 253.5,938.6 255.7,938.6 257.9,938.6 260.2,938.6 262.4,938.6 264.7,938.6 266.9,938.6 269.1,938.6 271.4,938.6 273.6,938.6 275.9,938.6 278.1,938.6 280.4,938.6 282.6,938.6 284.8,938.6 287.1,938.6 289.3,938.6 291.6,938.6 293.8,938.6 296.1,938.6 298.3,938.5 300.5,938.5 302.8,938.5 305.0,938.5 307.3,938.5 309.5,938.5 311.8,938.5 314.0,938.4 316.2,938.4 318.5,938.4 320.7,938.3 323.0,938.3 325.2,938.2 327.5,938.1 329.7,938.1 331.9,938.0 334.2,937.8 336.4,937.7 338.7,937.5 340.9,937.4 343.2,937.1 345.4,936.9 347.6,936.5 349.9,936.2 352.1,935.7 354.4,935.2 356.6,934.6 358.8,933.9 361.1,933.0 363.3,932.0 365.6,930.8 367.8,929.5 370.1,927.9 372.3,926.0 374.5,923.9 376.8,921.5 379.0,918.7 381.3,915.6 383.5,912.1 385.8,908.2 388.0,904.0 390.2,899.3 392.5,894.3 394.7,889.0 397.0,883.4 399.2,877.6 401.5,871.6 403.7,865.6 405.9,859.6 408.2,853.6 410.4,847.7 412.7,842.0 414.9,836.6" stroke="#a03040"/>
<polyline points="20.2,938.6 22.5,938.6 24.7,938.6 27.0,938.6 29.2,938.6 31.4,938.6 33.7,938.6 35.9,938.6 38.2,938.6 40.4,938.6 42.7,938.6 44.9,938.6 47.1,938.6 49.4,938.6 51.6,938.6 53.9,938.6 56.1,938.6 58.4,938.6 60.6,938.6 62.8,938.6 65.1,938.6 67.3,938.6 69.6,938.6 71.8,938.6 74.0,938.6 76.3,938.6 78.5,938.6 80.8,938.6 83.0,938.6 85.3,938.6 87.5,938.6 89.7,938.6 92.0,938.6 94.2,938.6 96.5,938.6 98.7,938.6 101.0,938.6 103.2,938.6 105.4,938.6 107.7,938.6 109.9,938.6 112.2,938.6 114.4,938.6 116.7,938.6 118.9,938.6 121.1,938.6 123.4,938.6 125.6,938.6 127.9,938.6 130.1,938.6 132.4,938.6 134.6,938.6 136.8,938.6 139.1,938.6 141.3,938.6 143.6,938.6 145.8,938.6 148.1,938.6 150.3,938.6 152.5,938.6 154.8,938.6 157.0,938.6 159.3,938.6 161.5,938.6 163.8,938.6 166.0,938.6 168.2,938.6 170.5,938.6 172.7,938.6 175.0,938.6 177.2,938.6 179.4,938.6 181.7,938.6 183.9,938.6 186.2,938.6 188.4,938.6 190.7,938.6 192.9,938.6 195.1,938.6 197.4,938.6 199.6,938.6 201.9,938.6 204.1,938.6 206.4,938.6 208.6,938.6 210.8,938.6 213.1,938.6 215.3,938.6 217.6,938.6 219.8,938.6 222.1,938.6 224.3,938.6 226.5,938.6 228.8,938.6 231.0,938.6 233.3,938.6 235.5,938.6 237.8,938.6 240.0,938.6 242.2,938.6 244.5,938.6 246.7,938.6 249.0,938.6 251.2,938.6 253.5,938.6 255.7,938.6 257.9,938.6 260.2,938.6 262.4,938.6 264.7,938.6 266.9,938.6 269.1,938.6 271.4,938.6 273.6,938.6 275.9,938.6 278.1,938.6 280.4,938.6 282.6,938.6 284.8,938.6 287.1,938.6 289.3,938.6 291.6,938.6 293.8,938.6 296.1,938.6 298.3,938.6 300.5,938.6 302.8,938.6 305.0,938.5 307.3,938.5 309.5,938.5 311.8,938.5 314.0,938.5 316.2,938.5 318.5,938.4 320.7,938.4 323.0,938.4 325.2,938.3 327.5,938.3 329.7,938.2 331.9,938.2 334.2,938.1 336.4,938.0 338.7,937.9 340.9,937.8 343.2,937.6 345.4,937.4 347.6,937.2 349.9,937.0 352.1,936.7 354.4,936.3 356.6,935.9 358.8,935.4 361.1,934.8 363.3,934.2 365.6,933.4 367.8,932.4 370.1,931.3 372.3,930.0 374.5,928.5 376.8,926.8 379.0,924.8 381.3,922.5 383.5,919.9 385.8,916.9 388.0,913.6 390.2,909.8 392.5,905.7 394.7,901.2 397.0,896.4 399.2,891.2 401.5,885.7 403.7,879.9 405.9,874.0 408.2,868.0 410.4,862.0 412.7,856.0 414.9,850.0" stroke="#902a3a"/>
<polyline points="20.2,941.2 24.7,940.8 29.2,940.5 33.7,940.3 38.2,940.0 42.7,939.8 47.1,939.6 51.6,939.4 56.1,939.3 60.6,939.2 65.1,939.1 69.6,939.0 74.0,938.9 78.5,938.9 83.0,938.8 87.5,938.9 92.0,938.9 96.5,938.9 101.0,938.9 105.4,938.9 109.9,938.8 114.4,938.8 118.9,938.7 123.4,938.6 127.9,938.5 132.4,938.5 136.8,938.4 141.3,938.3 145.8,938.3 150.3,938.3 154.8,938.3 159.3,938.3 163.8,938.3 168.2,938.4 172.7,938.5 177.2,938.5 181.7,938.6 186.2,938.7 190.7,938.8 195.1,938.8 199.6,938.9 204.1,938.9 208.6,938.9 213.1,938.9 217.6,938.9 222.1,938.8 226.5,938.8 231.0,938.7 235.5,938.6 240.0,938.5 244.5,938.5 249.0,938.4 253.5,938.3 257.9,938.3 262.4,938.3 266.9,938.3 271.4,938.3 275.9,938.3 280.4,938.4 284.8,938.5 289.3,938.5 293.8,938.6 298.3,938.7 302.8,938.8 307.3,938.8 311.8,938.9 316.2,938.9 320.7,938.9 325.2,938.9 329.7,938.9 334.2,938.8 338.7,938.8 343.2,938.7 347.6,938.6 352.1,938.6 356.6,938.5 361.1,938.4 365.6,938.3 370.1,938.3 374.5,938.3 379.0,938.3 383.5,938.3 388.0,938.3 392.5,938.4 397.0,938.4 401.5,938.5 405.9,938.6 410.4,938.7 414.9,938.8" stroke="#b0283a" stroke-width="1.0"/>
<polyline points="20.2,940.4 24.7,940.3 29.2,940.1 33.7,939.9 38.2,939.8 42.7,939.7 47.1,939.6 51.6,939.5 56.1,939.4 60.6,939.4 65.1,939.3 69.6,939.2 74.0,939.1 78.5,939.0 83.0,938.9 87.5,938.9 92.0,938.8 96.5,938.8 101.0,938.7 105.4,938.6 109.9,938.5 114.4,938.5 118.9,938.4 123.4,938.3 127.9,938.3 132.4,938.3 136.8,938.3 141.3,938.3 145.8,938.3 150.3,938.4 154.8,938.5 159.3,938.5 163.8,938.6 168.2,938.7 172.7,938.8 177.2,938.8 181.7,938.9 186.2,938.9 190.7,938.9 195.1,938.9 199.6,938.9 204.1,938.8 208.6,938.8 213.1,938.7 217.6,938.6 222.1,938.5 226.5,938.5 231.0,938.4 235.5,938.3 240.0,938.3 244.5,938.3 249.0,938.3 253.5,938.3 257.9,938.3 262.4,938.4 266.9,938.5 271.4,938.5 275.9,938.6 280.4,938.7 284.8,938.8 289.3,938.8 293.8,938.9 298.3,938.9 302.8,938.9 307.3,938.9 311.8,938.9 316.2,938.8 320.7,938.8 325.2,938.7 329.7,938.6 334.2,938.6 338.7,938.5 343.2,938.3 347.6,938.1 352.1,938.0 356.6,937.7 361.1,937.5 365.6,937.2 370.1,936.9 374.5,936.6 379.0,936.3 383.5,935.9 388.0,935.5 392.5,935.0 397.0,934.5 401.5,933.9 405.9,933.3 410.4,932.6 414.9,931.9" stroke="#b0283a" stroke-width="1.0"/>
<polyline points="20.2,940.0 24.7,940.0 29.2,939.9 33.7,939.8 38.2,939.8 42.7,939.7 47.1,939.6 51.6,939.6 56.1,939.5 60.6,939.4 65.1,939.2 69.6,939.1 74.0,939.0 78.5,938.8 83.0,938.7 87.5,938.6 92.0,938.5 96.5,938.5 101.0,938.4 105.4,938.3 109.9,938.3 114.4,938.3 118.9,938.3 123.4,938.3 127.9,938.3 132.4,938.4 136.8,938.5 141.3,938.5 145.8,938.6 150.3,938.7 154.8,938.8 159.3,938.8 163.8,938.9 168.2,938.9 172.7,938.9 177.2,938.9 181.7,938.9 186.2,938.8 190.7,938.8 195.1,938.7 199.6,938.6 204.1,938.5 208.6,938.5 213.1,938.4 217.6,938.3 222.1,938.3 226.5,938.3 231.0,938.3 235.5,938.3 240.0,938.3 244.5,938.4 249.0,938.5 253.5,938.5 257.9,938.6 262.4,938.7 266.9,938.8 271.4,938.8 275.9,938.9 280.4,938.9 284.8,938.9 289.3,938.9 293.8,938.9 298.3,938.8 302.8,938.8 307.3,938.7 311.8,938.6 316.2,938.6 320.7,938.5 325.2,938.4 329.7,938.3 334.2,938.3 338.7,938.3 343.2,938.2 347.6,938.1 352.1,938.0 356.6,937.8 361.1,937.7 365.6,937.5 370.1,937.2 374.5,936.9 379.0,936.6 383.5,936.2 388.0,935.7 392.5,935.2 397.0,934.7 401.5,934.0 405.9,933.3 410.4,932.6 414.9,931.7" stroke="#b0283a" stroke-width="1.0"/>
<polyline points="20.2,939.8 24.7,939.8 29.2,939.7 33.7,939.7 38.2,939.6 42.7,939.5 47.1,939.4 51.6,939.3 56.1,939.2 60.6,939.1 65.1,938.9 69.6,938.8 74.0,938.6 78.5,938.5 83.0,938.4 87.5,938.3 92.0,938.3 96.5,938.3 101.0,938.3 105.4,938.3 109.9,938.3 114.4,938.4 118.9,938.5 123.4,938.5 127.9,938.6 132.4,938.7 136.8,938.8 141.3,938.8 145.8,938.9 150.3,938.9 154.8,938.9 159.3,938.9 163.8,938.9 168.2,938.8 172.7,938.8 177.2,938.7 181.7,938.6 186.2,938.5 190.7,938.5 195.1,938.4 199.6,938.3 204.1,938.3 208.6,938.3 213.1,938.3 217.6,938.3 222.1,938.3 226.5,938.4 231.0,938.5 235.5,938.5 240.0,938.6 244.5,938.7 249.0,938.8 253.5,938.8 257.9,938.9 262.4,938.9 266.9,938.9 271.4,938.9 275.9,938.9 280.4,938.8 284.8,938.8 289.3,938.7 293.8,938.6 298.3,938.6 302.8,938.5 307.3,938.4 311.8,938.3 316.2,938.3 320.7,938.3 325.2,938.3 329.7,938.3 334.2,938.3 338.7,938.4 343.2,938.4 347.6,938.4 352.1,938.5 356.6,938.5 361.1,938.5 365.6,938.4 370.1,938.3 374.5,938.2 379.0,938.1 383.5,937.9 388.0,937.7 392.5,937.4 397.0,937.2 401.5,936.8 405.9,936.5 410.4,936.1 414.9,935.8" stroke="#b0283a" stroke-width="1.0"/>
<polyline points="20.2,939.5 24.7,939.4 29.2,939.4 33.7,939.3 38.2,939.2 42.7,939.1 47.1,939.0 51.6,938.8 56.1,938.7 60.6,938.6 65.1,938.5 69.6,938.4 74.0,938.3 78.5,938.3 83.0,938.3 87.5,938.3 92.0,938.3 96.5,938.4 101.0,938.5 105.4,938.5 109.9,938.6 114.4,938.7 118.9,938.8 123.4,938.8 127.9,938.9 132.4,938.9 136.8,938.9 141.3,938.9 145.8,938.9 150.3,938.8 154.8,938.8 159.3,938.7 163.8,938.6 168.2,938.5 172.7,938.5 177.2,938.4 181.7,938.3 186.2,938.3 190.7,938.3 195.1,938.3 199.6,938.3 204.1,938.3 208.6,938.4 213.1,938.5 217.6,938.5 222.1,938.6 226.5,938.7 231.0,938.8 235.5,938.8 240.0,938.9 244.5,938.9 249.0,938.9 253.5,938.9 257.9,938.9 262.4,938.8 266.9,938.8 271.4,938.7 275.9,938.6 280.4,938.6 284.8,938.5 289.3,938.4 293.8,938.3 298.3,938.3 302.8,938.3 307.3,938.3 311.8,938.3 316.2,938.3 320.7,938.4 325.2,938.4 329.7,938.5 334.2,938.6 338.7,938.7 343.2,938.8 347.6,938.8 352.1,938.9 356.6,938.9 361.1,938.9 365.6,938.9 370.1,938.9 374.5,938.9 379.0,938.8 383.5,938.7 388.0,938.6 392.5,938.6 397.0,938.5 401.5,938.4 405.9,938.4 410.4,938.3 414.9,938.3" stroke="#b0283a" stroke-width="1.0"/>
<polyline points="20.2,938.8 24.7,938.8 29.2,938.7 33.7,938.6 38.2,938.5 42.7,938.5 47.1,938.4 51.6,938.3 56.1,938.3 60.6,938.3 65.1,938.3 69.6,938.3 74.0,938.3 78.5,938.4 83.0,938.5 87.5,938.5 92.0,938.6 96.5,938.7 101.0,938.8 105.4,938.8 109.9,938.9 114.4,938.9 118.9,938.9 123.4,938.9 127.9,938.9 132.4,938.8 136.8,938.8 141.3,938.7 145.8,938.6 150.3,938.5 154.8,938.5 159.3,938.4 163.8,938.3 168.2,938.3 172.7,938.3 177.2,938.3 181.7,938.3 186.2,938.3 190.7,938.4 195.1,938.5 199.6,938.5 204.1,938.6 208.6,938.7 213.1,938.8 217.6,938.8 222.1,938.9 226.5,938.9 231.0,938.9 235.5,938.9 240.0,938.9 244.5,938.8 249.0,938.8 253.5,938.7 257.9,938.6 262.4,938.6 266.9,938.5 271.4,938.4 275.9,938.3 280.4,938.3 284.8,938.3 289.3,938.3 293.8,938.3 298.3,938.3 302.8,938.4 307.3,938.4 311.8,938.5 316.2,938.6 320.7,938.7 325.2,938.8 329.7,938.8 334.2,938.9 338.7,938.9 343.2,938.9 347.6,938.9 352.1,938.8 356.6,938.8 361.1,938.7 365.6,938.6 370.1,938.4 374.5,938.3 379.0,938.1 383.5,938.0 388.0,937.9 392.5,937.7 397.0,937.6 401.5,937.5 405.9,937.4 410.4,937.4 414.9,937.3" stroke="#b0283a" stroke-width="1.0"/>
<polyline points="20.2,938.0 24.7,938.0 29.2,937.9 33.7,937.9 38.2,937.9 42.7,938.0 47.1,938.0 51.6,938.1 56.1,938.2 60.6,938.3 65.1,938.4 69.6,938.5 74.0,938.6 78.5,938.7 83.0,938.8 87.5,938.8 92.0,938.9 96.5,938.9 101.0,938.9 105.4,938.9 109.9,938.9 114.4,938.8 118.9,938.8 123.4,938.7 127.9,938.6 132.4,938.5 136.8,938.5 141.3,938.4 145.8,938.3 150.3,938.3 154.8,938.3 159.3,938.3 163.8,938.3 168.2,938.3 172.7,938.4 177.2,938.5 181.7,938.5 186.2,938.6 190.7,938.7 195.1,938.8 199.6,938.8 204.1,938.9 208.6,938.9 213.1,938.9 217.6,938.9 222.1,938.9 226.5,938.8 231.0,938.8 235.5,938.7 240.0,938.6 244.5,938.6 249.0,938.5 253.5,938.4 257.9,938.3 262.4,938.3 266.9,938.3 271.4,938.3 275.9,938.3 280.4,938.3 284.8,938.4 289.3,938.4 293.8,938.5 298.3,938.6 302.8,938.7 307.3,938.8 311.8,938.8 316.2,938.9 320.7,938.9 325.2,938.9 329.7,938.9 334.2,938.9 338.7,938.9 343.2,938.8 347.6,938.7 352.1,938.6 356.6,938.6 361.1,938.5 365.6,938.4 370.1,938.4 374.5,938.3 379.0,938.3 383.5,938.3 388.0,938.3 392.5,938.3 397.0,938.4 401.5,938.4 405.9,938.5 410.4,938.6 414.9,938.7" stroke="#b0283a" stroke-width="1.0"/>
<polyline points="20.2,937.2 24.7,937.3 29.2,937.4 33.7,937.5 38.2,937.6 42.7,937.8 47.1,937.9 51.6,938.1 56.1,938.3 60.6,938.4 65.1,938.6 69.6,938.7 74.0,938.8 78.5,938.9 83.0,938.9 87.5,938.9 92.0,938.9 96.5,938.8 101.0,938.8 105.4,938.7 109.9,938.6 114.4,938.5 118.9,938.5 123.4,938.4 127.9,938.3 132.4,938.3 136.8,938.3 141.3,938.3 145.8,938.3 150.3,938.3 154.8,938.4 159.3,938.5 163.8,938.5 168.2,938.6 172.7,938.7 177.2,938.8 181.7,938.8 186.2,938.9 190.7,938.9 195.1,938.9 199.6,938.9 204.1,938.9 208.6,938.8 213.1,938.8 217.6,938.7 222.1,938.6 226.5,938.6 231.0,938.5 235.5,938.4 240.0,938.3 244.5,938.3 249.0,938.3 253.5,938.3 257.9,938.3 262.4,938.3 266.9,938.4 271.4,938.4 275.9,938.5 280.4,938.6 284.8,938.7 289.3,938.8 293.8,938.8 298.3,938.9 302.8,938.9 307.3,938.9 311.8,938.9 316.2,938.9 320.7,938.9 325.2,938.8 329.7,938.7 334.2,938.6 338.7,938.5 343.2,938.4 347.6,938.2 352.1,938.0 356.6,937.8 361.1,937.5 365.6,937.2 370.1,936.9 374.5,936.6 379.0,936.2 383.5,935.8 388.0,935.4 392.5,934.9 397.0,934.4 401.5,933.8 405.9,933.2 410.4,932.6 414.9,931.8" stroke="#b0283a" stroke-width="1.0"/>
<polyline points="20.2,936.7 24.7,936.9 29.2,937.1 33.7,937.4 38.2,937.6 42.7,937.8 47.1,938.0 51.6,938.2 56.1,938.3 60.6,938.5 65.1,938.6 69.6,938.7 74.0,938.8 78.5,938.8 83.0,938.8 87.5,938.7 92.0,938.6 96.5,938.5 101.0,938.5 105.4,938.4 109.9,938.3 114.4,938.3 118.9,938.3 123.4,938.3 127.9,938.3 132.4,938.3 136.8,938.4 141.3,938.5 145.8,938.5 150.3,938.6 154.8,938.7 159.3,938.8 163.8,938.8 168.2,938.9 172.7,938.9 177.2,938.9 181.7,938.9 186.2,938.9 190.7,938.8 195.1,938.8 199.6,938.7 204.1,938.6 208.6,938.6 213.1,938.5 217.6,938.4 222.1,938.3 226.5,938.3 231.0,938.3 235.5,938.3 240.0,938.3 244.5,938.3 249.0,938.4 253.5,938.4 257.9,938.5 262.4,938.6 266.9,938.7 271.4,938.8 275.9,938.8 280.4,938.9 284.8,938.9 289.3,938.9 293.8,938.9 298.3,938.9 302.8,938.9 307.3,938.8 311.8,938.7 316.2,938.6 320.7,938.6 325.2,938.5 329.7,938.4 334.2,938.4 338.7,938.3 343.2,938.3 347.6,938.2 352.1,938.2 356.6,938.2 361.1,938.3 365.6,938.3 370.1,938.3 374.5,938.3 379.0,938.3 383.5,938.3 388.0,938.3 392.5,938.3 397.0,938.2 401.5,938.2 405.9,938.1 410.4,937.9 414.9,937.8" stroke="#b0283a" stroke-width="1.0"/>
<polyline points="20.2,936.5 24.7,936.7 29.2,937.0 33.7,937.3 38.2,937.5 42.7,937.7 47.1,937.9 51.6,938.0 56.1,938.2 60.6,938.3 65.1,938.3 69.6,938.4 74.0,938.4 78.5,938.5 83.0,938.5 87.5,938.4 92.0,938.3 96.5,938.3 101.0,938.3 105.4,938.3 109.9,938.3 114.4,938.3 118.9,938.4 123.4,938.5 127.9,938.5 132.4,938.6 136.8,938.7 141.3,938.8 145.8,938.8 150.3,938.9 154.8,938.9 159.3,938.9 163.8,938.9 168.2,938.9 172.7,938.8 177.2,938.8 181.7,938.7 186.2,938.6 190.7,938.6 195.1,938.5 199.6,938.4 204.1,938.3 208.6,938.3 213.1,938.3 217.6,938.3 222.1,938.3 226.5,938.3 231.0,938.4 235.5,938.4 240.0,938.5 244.5,938.6 249.0,938.7 253.5,938.8 257.9,938.8 262.4,938.9 266.9,938.9 271.4,938.9 275.9,938.9 280.4,938.9 284.8,938.9 289.3,938.8 293.8,938.7 298.3,938.6 302.8,938.6 307.3,938.5 311.8,938.4 316.2,938.4 320.7,938.3 325.2,938.3 329.7,938.3 334.2,938.3 338.7,938.3 343.2,938.4 347.6,938.4 352.1,938.4 356.6,938.5 361.1,938.5 365.6,938.5 370.1,938.5 374.5,938.5 379.0,938.4 383.5,938.3 388.0,938.2 392.5,938.0 397.0,937.9 401.5,937.7 405.9,937.4 410.4,937.2 414.9,936.9" stroke="#b0283a" stroke-width="1.0"/>
<polyline points="20.2,936.2 24.7,936.5 29.2,936.7 33.7,936.9 38.2,937.1 42.7,937.3 47.1,937.5 51.6,937.6 56.1,937.7 60.6,937.8 65.1,937.9 69.6,938.0 74.0,938.1 78.5,938.2 83.0,938.3 87.5,938.3 92.0,938.3 96.5,938.3 101.0,938.4 105.4,938.5 109.9,938.5 114.4,938.6 118.9,938.7 123.4,938.8 127.9,938.8 132.4,938.9 136.8,938.9 141.3,938.9 145.8,938.9 150.3,938.9 154.8,938.8 159.3,938.8 163.8,938.7 168.2,938.6 172.7,938.6 177.2,938.5 181.7,938.4 186.2,938.3 190.7,938.3 195.1,938.3 199.6,938.3 204.1,938.3 208.6,938.3 213.1,938.4 217.6,938.4 222.1,938.5 226.5,938.6 231.0,938.7 235.5,938.8 240.0,938.8 244.5,938.9 249.0,938.9 253.5,938.9 257.9,938.9 262.4,938.9 266.9,938.9 271.4,938.8 275.9,938.7 280.4,938.6 284.8,938.6 289.3,938.5 293.8,938.4 298.3,938.4 302.8,938.3 307.3,938.3 311.8,938.3 316.2,938.3 320.7,938.3 325.2,938.4 329.7,938.4 334.2,938.5 338.7,938.6 343.2,938.6 347.6,938.7 352.1,938.7 356.6,938.7 361.1,938.6 365.6,938.5 370.1,938.4 374.5,938.2 379.0,938.0 383.5,937.8 388.0,937.5 392.5,937.2 397.0,936.9 401.5,936.6 405.9,936.3 410.4,935.9 414.9,935.6" stroke="#b0283a" stroke-width="1.0"/>
<polyline points="20.2,935.6 24.7,935.9 29.2,936.1 33.7,936.3 38.2,936.5 42.7,936.7 47.1,936.9 51.6,937.1 56.1,937.3 60.6,937.4 65.1,937.6 69.6,937.8 74.0,938.0 78.5,938.2 83.0,938.4 87.5,938.5 92.0,938.5 96.5,938.6 101.0,938.7 105.4,938.8 109.9,938.8 114.4,938.9 118.9,938.9 123.4,938.9 127.9,938.9 132.4,938.9 136.8,938.8 141.3,938.8 145.8,938.7 150.3,938.6 154.8,938.6 159.3,938.5 163.8,938.4 168.2,938.3 172.7,938.3 177.2,938.3 181.7,938.3 186.2,938.3 190.7,938.3 195.1,938.4 199.6,938.4 204.1,938.5 208.6,938.6 213.1,938.7 217.6,938.8 222.1,938.8 226.5,938.9 231.0,938.9 235.5,938.9 240.0,938.9 244.5,938.9 249.0,938.9 253.5,938.8 257.9,938.7 262.4,938.6 266.9,938.6 271.4,938.5 275.9,938.4 280.4,938.4 284.8,938.3 289.3,938.3 293.8,938.3 298.3,938.3 302.8,938.3 307.3,938.4 311.8,938.4 316.2,938.5 320.7,938.6 325.2,938.7 329.7,938.7 334.2,938.8 338.7,938.9 343.2,938.9 347.6,938.9 352.1,938.9 356.6,938.8 361.1,938.7 365.6,938.6 370.1,938.5 374.5,938.4 379.0,938.2 383.5,938.1 388.0,937.9 392.5,937.8 397.0,937.7 401.5,937.5 405.9,937.4 410.4,937.3 414.9,937.2" stroke="#b0283a" stroke-width="1.0"/>
</g>
<text x="679.2" y="723.3" font-size="10.8" font-weight="bold" text-anchor="middle" fill="#111" stroke="#111" stroke-width="0.35" textLength="82" lengthAdjust="spacingAndGlyphs">Melt Curve Plot</text>
<g stroke="#c8c8c8" stroke-width="1">
<line x1="499.5" y1="732.6" x2="499.5" y2="961" stroke="#cbcbcb"/>
<line x1="510.5" y1="732.6" x2="510.5" y2="961" stroke="#cbcbcb"/>
<line x1="522.5" y1="732.6" x2="522.5" y2="961" stroke="#cbcbcb"/>
<line x1="534.5" y1="732.6" x2="534.5" y2="961" stroke="#cbcbcb"/>
<line x1="546.5" y1="732.6" x2="546.5" y2="961" stroke="#cbcbcb"/>
<line x1="558.5" y1="732.6" x2="558.5" y2="961" stroke="#cbcbcb"/>
<line x1="570.5" y1="732.6" x2="570.5" y2="961" stroke="#cbcbcb"/>
<line x1="582.5" y1="732.6" x2="582.5" y2="961" stroke="#cbcbcb"/>
<line x1="594.5" y1="732.6" x2="594.5" y2="961" stroke="#cbcbcb"/>
<line x1="605.5" y1="732.6" x2="605.5" y2="961" stroke="#cbcbcb"/>
<line x1="617.5" y1="732.6" x2="617.5" y2="961" stroke="#e4e4e4"/>
<line x1="629.5" y1="732.6" x2="629.5" y2="961" stroke="#cbcbcb"/>
<line x1="641.5" y1="732.6" x2="641.5" y2="961" stroke="#cbcbcb"/>
<line x1="653.5" y1="732.6" x2="653.5" y2="961" stroke="#cbcbcb"/>
<line x1="665.5" y1="732.6" x2="665.5" y2="961" stroke="#cbcbcb"/>
<line x1="677.5" y1="732.6" x2="677.5" y2="961" stroke="#cbcbcb"/>
<line x1="688.5" y1="732.6" x2="688.5" y2="961" stroke="#cbcbcb"/>
<line x1="700.5" y1="732.6" x2="700.5" y2="961" stroke="#cbcbcb"/>
<line x1="712.5" y1="732.6" x2="712.5" y2="961" stroke="#cbcbcb"/>
<line x1="724.5" y1="732.6" x2="724.5" y2="961" stroke="#cbcbcb"/>
<line x1="736.5" y1="732.6" x2="736.5" y2="961" stroke="#cbcbcb"/>
<line x1="748.5" y1="732.6" x2="748.5" y2="961" stroke="#cbcbcb"/>
<line x1="760.5" y1="732.6" x2="760.5" y2="961" stroke="#cbcbcb"/>
<line x1="772.5" y1="732.6" x2="772.5" y2="961" stroke="#cbcbcb"/>
<line x1="783.5" y1="732.6" x2="783.5" y2="961" stroke="#cbcbcb"/>
<line x1="795.5" y1="732.6" x2="795.5" y2="961" stroke="#cbcbcb"/>
<line x1="807.5" y1="732.6" x2="807.5" y2="961" stroke="#cbcbcb"/>
<line x1="819.5" y1="732.6" x2="819.5" y2="961" stroke="#cbcbcb"/>
<line x1="831.5" y1="732.6" x2="831.5" y2="961" stroke="#cbcbcb"/>
<line x1="843.5" y1="732.6" x2="843.5" y2="961" stroke="#cbcbcb"/>
<line x1="855.5" y1="732.6" x2="855.5" y2="961" stroke="#cbcbcb"/>
<line x1="867.5" y1="732.6" x2="867.5" y2="961" stroke="#cbcbcb"/>
<line x1="878.5" y1="732.6" x2="878.5" y2="961" stroke="#cbcbcb"/>
<line x1="890.5" y1="732.6" x2="890.5" y2="961" stroke="#cbcbcb"/>
<line x1="487.2" y1="732.5" x2="902.6" y2="732.5" stroke="#cbcbcb"/>
<line x1="487.2" y1="739.5" x2="902.6" y2="739.5" stroke="#cbcbcb"/>
<line x1="487.2" y1="746.5" x2="902.6" y2="746.5" stroke="#cbcbcb"/>
<line x1="487.2" y1="753.5" x2="902.6" y2="753.5" stroke="#f0f0f0"/>
<line x1="487.2" y1="760.5" x2="902.6" y2="760.5" stroke="#cbcbcb"/>
<line x1="487.2" y1="767.5" x2="902.6" y2="767.5" stroke="#cbcbcb"/>
<line x1="487.2" y1="774.5" x2="902.6" y2="774.5" stroke="#cbcbcb"/>
<line x1="487.2" y1="781.5" x2="902.6" y2="781.5" stroke="#f0f0f0"/>
<line x1="487.2" y1="788.5" x2="902.6" y2="788.5" stroke="#f0f0f0"/>
<line x1="487.2" y1="796.5" x2="902.6" y2="796.5" stroke="#cbcbcb"/>
<line x1="487.2" y1="803.5" x2="902.6" y2="803.5" stroke="#cbcbcb"/>
<line x1="487.2" y1="810.5" x2="902.6" y2="810.5" stroke="#f0f0f0"/>
<line x1="487.2" y1="817.5" x2="902.6" y2="817.5" stroke="#f0f0f0"/>
<line x1="487.2" y1="824.5" x2="902.6" y2="824.5" stroke="#e2e2e2"/>
<line x1="487.2" y1="831.5" x2="902.6" y2="831.5" stroke="#cbcbcb"/>
<line x1="487.2" y1="838.5" x2="902.6" y2="838.5" stroke="#cbcbcb"/>
<line x1="487.2" y1="845.5" x2="902.6" y2="845.5" stroke="#cbcbcb"/>
<line x1="487.2" y1="852.5" x2="902.6" y2="852.5" stroke="#cbcbcb"/>
<line x1="487.2" y1="859.5" x2="902.6" y2="859.5" stroke="#cbcbcb"/>
<line x1="487.2" y1="866.5" x2="902.6" y2="866.5" stroke="#cbcbcb"/>
<line x1="487.2" y1="873.5" x2="902.6" y2="873.5" stroke="#cbcbcb"/>
<line x1="487.2" y1="880.5" x2="902.6" y2="880.5" stroke="#e2e2e2"/>
<line x1="487.2" y1="887.5" x2="902.6" y2="887.5" stroke="#cbcbcb"/>
<line x1="487.2" y1="894.5" x2="902.6" y2="894.5" stroke="#cbcbcb"/>
<line x1="487.2" y1="901.5" x2="902.6" y2="901.5" stroke="#cbcbcb"/>
<line x1="487.2" y1="908.5" x2="902.6" y2="908.5" stroke="#e2e2e2"/>
<line x1="487.2" y1="915.5" x2="902.6" y2="915.5" stroke="#e2e2e2"/>
<line x1="487.2" y1="922.5" x2="902.6" y2="922.5" stroke="#cbcbcb"/>
<line x1="487.2" y1="929.5" x2="902.6" y2="929.5" stroke="#cbcbcb"/>
<line x1="487.2" y1="936.5" x2="902.6" y2="936.5" stroke="#cbcbcb"/>
<line x1="487.2" y1="943.5" x2="902.6" y2="943.5" stroke="#cbcbcb"/>
<line x1="487.2" y1="950.5" x2="902.6" y2="950.5" stroke="#cbcbcb"/>
<line x1="487.2" y1="957.5" x2="902.6" y2="957.5" stroke="#cbcbcb"/>
</g>
<text x="480" y="755.8" font-size="5.8" text-anchor="end" fill="#222" stroke="#222" stroke-width="0.15">20000.0</text>
<line x1="482.5" y1="753.8" x2="487" y2="753.8" stroke="#555" stroke-width="0.8"/>
<text x="480" y="790.9" font-size="5.8" text-anchor="end" fill="#222" stroke="#222" stroke-width="0.15">15000.0</text>
<line x1="482.5" y1="788.9" x2="487" y2="788.9" stroke="#555" stroke-width="0.8"/>
<text x="480" y="827" font-size="5.8" text-anchor="end" fill="#222" stroke="#222" stroke-width="0.15">10000.0</text>
<line x1="482.5" y1="825.0" x2="487" y2="825.0" stroke="#555" stroke-width="0.8"/>
<text x="480" y="861.6" font-size="5.8" text-anchor="end" fill="#222" stroke="#222" stroke-width="0.15">10000.0</text>
<line x1="482.5" y1="859.6" x2="487" y2="859.6" stroke="#555" stroke-width="0.8"/>
<text x="480" y="896.3" font-size="5.8" text-anchor="end" fill="#222" stroke="#222" stroke-width="0.15">5000.0</text>
<line x1="482.5" y1="894.3" x2="487" y2="894.3" stroke="#555" stroke-width="0.8"/>
<text x="480" y="931.7" font-size="5.8" text-anchor="end" fill="#222" stroke="#222" stroke-width="0.15">5000.0</text>
<line x1="482.5" y1="929.7" x2="487" y2="929.7" stroke="#555" stroke-width="0.8"/>
<text x="546.5" y="972.5" font-size="6" text-anchor="middle" fill="#222" stroke="#222" stroke-width="0.15">65.0</text>
<line x1="546.5" y1="961" x2="546.5" y2="964.5" stroke="#666" stroke-width="0.8"/>
<text x="605.9" y="972.5" font-size="6" text-anchor="middle" fill="#222" stroke="#222" stroke-width="0.15">70.0</text>
<line x1="605.9" y1="961" x2="605.9" y2="964.5" stroke="#666" stroke-width="0.8"/>
<text x="665.2" y="972.5" font-size="6" text-anchor="middle" fill="#222" stroke="#222" stroke-width="0.15">75.0</text>
<line x1="665.2" y1="961" x2="665.2" y2="964.5" stroke="#666" stroke-width="0.8"/>
<text x="724.6" y="972.5" font-size="6" text-anchor="middle" fill="#222" stroke="#222" stroke-width="0.15">80.0</text>
<line x1="724.6" y1="961" x2="724.6" y2="964.5" stroke="#666" stroke-width="0.8"/>
<text x="784.0" y="972.5" font-size="6" text-anchor="middle" fill="#222" stroke="#222" stroke-width="0.15">85.0</text>
<line x1="784.0" y1="961" x2="784.0" y2="964.5" stroke="#666" stroke-width="0.8"/>
<text x="843.3" y="972.5" font-size="6" text-anchor="middle" fill="#222" stroke="#222" stroke-width="0.15">90.0</text>
<line x1="843.3" y1="961" x2="843.3" y2="964.5" stroke="#666" stroke-width="0.8"/>
<text x="902.6" y="972.5" font-size="6" text-anchor="middle" fill="#222" stroke="#222" stroke-width="0.15">95.0</text>
<line x1="902.6" y1="961" x2="902.6" y2="964.5" stroke="#666" stroke-width="0.8"/>
<text transform="translate(446.5,843) rotate(-90)" font-size="6.2" text-anchor="middle" fill="#333" textLength="80" lengthAdjust="spacingAndGlyphs">Derivative Reporter (-Rn')</text>
<g clip-path="url(#mc)" fill="none">
<polyline points="487.2,923.4 489.2,922.5 491.2,921.6 493.2,920.8 495.2,920.1 497.2,919.5 499.2,918.9 501.2,918.3 503.2,917.8 505.2,917.4 507.2,917.0 509.2,916.6 511.2,916.2 513.2,915.9 515.2,915.7 517.2,915.4 519.2,915.2 521.2,915.0 523.2,914.8 525.2,914.7 527.2,914.5 529.2,914.4 531.2,914.3 533.2,914.2 535.2,914.2 537.2,914.1 539.2,914.1 541.2,914.1 543.2,914.0 545.2,914.0 547.2,914.0 549.2,914.0 551.2,914.1 553.2,914.1 555.2,914.1 557.2,914.2 559.2,914.2 561.2,914.3 563.2,914.4 565.2,914.4 567.2,914.5 569.2,914.6 571.2,914.7 573.2,914.7 575.2,914.8 577.2,914.9 579.2,915.0 581.2,915.1 583.2,915.2 585.2,915.3 587.2,915.4 589.2,915.5 591.2,915.6 593.2,915.7 595.2,915.8 597.2,915.9 599.2,916.0 601.2,916.1 603.2,916.2 605.2,916.3 607.2,916.4 609.2,916.5 611.2,916.6 613.2,916.7 615.2,916.7 617.2,916.8 619.2,916.9 621.2,917.0 623.2,917.0 625.2,917.1 627.2,917.1 629.2,917.2 631.2,917.2 633.2,917.2 635.2,917.3 637.2,917.3 639.2,917.3 641.2,917.3 643.2,917.3 645.2,917.3 647.2,917.2 649.2,917.2 651.2,917.1 653.2,917.0 655.2,916.9 657.2,916.7 659.2,916.5 661.2,916.2 663.2,915.8 665.2,915.3 667.2,914.6 669.2,913.9 671.2,912.9 673.2,911.8 675.2,910.4 677.2,908.8 679.2,906.9 681.2,904.6 683.2,901.9 685.2,898.5 687.2,894.3 689.2,888.9 691.2,882.2 693.2,873.7 695.2,863.4 697.2,851.3 699.2,837.8 701.2,823.8 703.2,810.5 705.2,799.3 707.2,791.5 709.2,788.1 711.2,789.5 713.2,795.3 715.2,805.0 717.2,817.6 719.2,832.0 721.2,847.0 723.2,861.7 725.2,875.2 727.2,887.2 729.2,897.5 731.2,906.0 733.2,913.0 735.2,918.6 737.2,923.2 739.2,926.9 741.2,930.0 743.2,932.6 745.2,934.9 747.2,936.7 749.2,938.4 751.2,939.7 753.2,940.9 755.2,941.9 757.2,942.7 759.2,943.4 761.2,944.0 763.2,944.4 765.2,944.8 767.2,945.1 769.2,945.3 771.2,945.5 773.2,945.6 775.2,945.7 777.2,945.8 779.2,945.9 781.2,945.9 783.2,945.9 785.2,945.9 787.2,946.0 789.2,946.0 791.2,946.0 793.2,946.0 795.2,946.0 797.2,946.0 799.2,946.0 801.2,946.0 803.2,946.0 805.2,946.0 807.2,946.0 809.2,946.0 811.2,946.0 813.2,946.0 815.2,946.0 817.2,946.0 819.2,946.0 821.2,946.0 823.2,946.0 825.2,946.0 827.2,946.0 829.2,946.0 831.2,946.0 833.2,946.0 835.2,946.0 837.2,946.0 839.2,946.0 841.2,946.0 843.2,946.0 845.2,946.0 847.2,946.0 849.2,946.0 851.2,946.0 853.2,946.0 855.2,946.0 857.2,946.0 859.2,946.0 861.2,946.0 863.2,946.0 865.2,946.0 867.2,946.0 869.2,946.0 871.2,946.0 873.2,946.0 875.2,946.0 877.2,946.0 879.2,946.0 881.2,946.0 883.2,946.0 885.2,946.0 887.2,946.0 889.2,946.0 891.2,946.0 893.2,946.0 895.2,946.0 897.2,946.0 899.2,946.0 901.2,946.0 903.2,946.0" stroke="#9a2a36" stroke-width="0.95"/>
<polyline points="487.2,923.7 489.2,922.7 491.2,921.9 493.2,921.1 495.2,920.3 497.2,919.7 499.2,919.1 501.2,918.5 503.2,918.1 505.2,917.6 507.2,917.2 509.2,916.8 511.2,916.5 513.2,916.2 515.2,915.9 517.2,915.7 519.2,915.4 521.2,915.2 523.2,915.1 525.2,914.9 527.2,914.8 529.2,914.7 531.2,914.6 533.2,914.5 535.2,914.4 537.2,914.4 539.2,914.3 541.2,914.3 543.2,914.3 545.2,914.3 547.2,914.3 549.2,914.3 551.2,914.3 553.2,914.3 555.2,914.4 557.2,914.4 559.2,914.5 561.2,914.5 563.2,914.6 565.2,914.7 567.2,914.7 569.2,914.8 571.2,914.9 573.2,915.0 575.2,915.1 577.2,915.2 579.2,915.3 581.2,915.4 583.2,915.5 585.2,915.6 587.2,915.7 589.2,915.8 591.2,915.9 593.2,916.0 595.2,916.1 597.2,916.2 599.2,916.3 601.2,916.4 603.2,916.5 605.2,916.6 607.2,916.7 609.2,916.7 611.2,916.8 613.2,916.9 615.2,917.0 617.2,917.1 619.2,917.1 621.2,917.2 623.2,917.3 625.2,917.3 627.2,917.4 629.2,917.4 631.2,917.4 633.2,917.5 635.2,917.5 637.2,917.5 639.2,917.5 641.2,917.6 643.2,917.6 645.2,917.6 647.2,917.6 649.2,917.5 651.2,917.5 653.2,917.5 655.2,917.4 657.2,917.4 659.2,917.3 661.2,917.2 663.2,917.1 665.2,917.0 667.2,916.8 669.2,916.6 671.2,916.4 673.2,916.1 675.2,915.7 677.2,915.2 679.2,914.6 681.2,913.9 683.2,913.1 685.2,912.0 687.2,910.8 689.2,909.4 691.2,907.8 693.2,905.8 695.2,903.5 697.2,900.7 699.2,897.3 701.2,893.0 703.2,887.6 705.2,880.9 707.2,872.7 709.2,862.9 711.2,851.7 713.2,839.7 715.2,827.7 717.2,816.5 719.2,807.5 721.2,801.6 723.2,799.6 725.2,801.6 727.2,807.3 729.2,816.3 731.2,827.6 733.2,840.5 735.2,853.9 737.2,867.0 739.2,879.2 741.2,890.0 743.2,899.4 745.2,907.3 747.2,913.8 749.2,919.2 751.2,923.5 753.2,927.1 755.2,930.1 757.2,932.6 759.2,934.7 761.2,936.5 763.2,938.1 765.2,939.4 767.2,940.6 769.2,941.6 771.2,942.4 773.2,943.1 775.2,943.7 777.2,944.2 779.2,944.6 781.2,944.9 783.2,945.2 785.2,945.4 787.2,945.5 789.2,945.6 791.2,945.7 793.2,945.8 795.2,945.9 797.2,945.9 799.2,945.9 801.2,945.9 803.2,946.0 805.2,946.0 807.2,946.0 809.2,946.0 811.2,946.0 813.2,946.0 815.2,946.0 817.2,946.0 819.2,946.0 821.2,946.0 823.2,946.0 825.2,946.0 827.2,946.0 829.2,946.0 831.2,946.0 833.2,946.0 835.2,946.0 837.2,946.0 839.2,946.0 841.2,946.0 843.2,946.0 845.2,946.0 847.2,946.0 849.2,946.0 851.2,946.0 853.2,946.0 855.2,946.0 857.2,946.0 859.2,946.0 861.2,946.0 863.2,946.0 865.2,946.0 867.2,946.0 869.2,946.0 871.2,946.0 873.2,946.0 875.2,946.0 877.2,946.0 879.2,946.0 881.2,946.0 883.2,946.0 885.2,946.0 887.2,946.0 889.2,946.0 891.2,946.0 893.2,946.0 895.2,946.0 897.2,946.0 899.2,946.0 901.2,946.0 903.2,946.0" stroke="#9a2a36" stroke-width="0.95"/>
<polyline points="487.2,923.6 489.2,922.6 491.2,921.8 493.2,921.0 495.2,920.3 497.2,919.6 499.2,919.0 501.2,918.5 503.2,918.0 505.2,917.5 507.2,917.1 509.2,916.7 511.2,916.4 513.2,916.1 515.2,915.8 517.2,915.6 519.2,915.4 521.2,915.2 523.2,915.0 525.2,914.8 527.2,914.7 529.2,914.6 531.2,914.5 533.2,914.4 535.2,914.3 537.2,914.3 539.2,914.2 541.2,914.2 543.2,914.2 545.2,914.2 547.2,914.2 549.2,914.2 551.2,914.2 553.2,914.2 555.2,914.3 557.2,914.3 559.2,914.4 561.2,914.4 563.2,914.5 565.2,914.6 567.2,914.7 569.2,914.7 571.2,914.8 573.2,914.9 575.2,915.0 577.2,915.1 579.2,915.2 581.2,915.3 583.2,915.4 585.2,915.5 587.2,915.6 589.2,915.7 591.2,915.8 593.2,915.9 595.2,916.0 597.2,916.1 599.2,916.2 601.2,916.3 603.2,916.4 605.2,916.5 607.2,916.6 609.2,916.7 611.2,916.7 613.2,916.8 615.2,916.9 617.2,917.0 619.2,917.0 621.2,917.1 623.2,917.2 625.2,917.2 627.2,917.3 629.2,917.3 631.2,917.4 633.2,917.4 635.2,917.4 637.2,917.4 639.2,917.5 641.2,917.5 643.2,917.5 645.2,917.5 647.2,917.4 649.2,917.4 651.2,917.4 653.2,917.3 655.2,917.2 657.2,917.1 659.2,916.9 661.2,916.7 663.2,916.5 665.2,916.1 667.2,915.7 669.2,915.2 671.2,914.5 673.2,913.7 675.2,912.8 677.2,911.6 679.2,910.2 681.2,908.5 683.2,906.5 685.2,904.1 687.2,901.1 689.2,897.2 691.2,892.3 693.2,886.0 695.2,878.2 697.2,868.9 699.2,858.3 701.2,847.2 703.2,836.4 705.2,827.2 707.2,820.7 709.2,817.9 711.2,819.1 713.2,824.3 715.2,832.9 717.2,844.0 719.2,856.5 721.2,869.4 723.2,881.8 725.2,893.1 727.2,902.8 729.2,911.1 731.2,917.8 733.2,923.2 735.2,927.5 737.2,931.1 739.2,933.9 741.2,936.3 743.2,938.3 745.2,940.0 747.2,941.4 749.2,942.7 751.2,943.7 753.2,944.6 755.2,945.3 757.2,945.9 759.2,946.4 761.2,946.7 763.2,947.0 765.2,947.3 767.2,947.5 769.2,947.6 771.2,947.7 773.2,947.8 775.2,947.9 777.2,947.9 779.2,947.9 781.2,948.0 783.2,948.0 785.2,948.0 787.2,948.0 789.2,948.0 791.2,948.0 793.2,948.0 795.2,948.0 797.2,948.0 799.2,948.0 801.2,948.0 803.2,948.0 805.2,948.0 807.2,948.0 809.2,948.0 811.2,948.0 813.2,948.0 815.2,948.0 817.2,948.0 819.2,948.0 821.2,948.0 823.2,948.0 825.2,948.0 827.2,948.0 829.2,948.0 831.2,948.0 833.2,948.0 835.2,948.0 837.2,948.0 839.2,948.0 841.2,948.0 843.2,948.0 845.2,948.0 847.2,948.0 849.2,948.0 851.2,948.0 853.2,948.0 855.2,948.0 857.2,948.0 859.2,948.0 861.2,948.0 863.2,948.0 865.2,948.0 867.2,948.0 869.2,948.0 871.2,948.0 873.2,948.0 875.2,948.0 877.2,948.0 879.2,948.0 881.2,948.0 883.2,948.0 885.2,948.0 887.2,948.0 889.2,948.0 891.2,948.0 893.2,948.0 895.2,948.0 897.2,948.0 899.2,948.0 901.2,948.0 903.2,948.0" stroke="#9a2a36" stroke-width="0.95"/>
<polyline points="487.2,924.6 489.2,923.6 491.2,922.7 493.2,922.0 495.2,921.2 497.2,920.6 499.2,920.0 501.2,919.4 503.2,918.9 505.2,918.5 507.2,918.1 509.2,917.7 511.2,917.4 513.2,917.1 515.2,916.8 517.2,916.6 519.2,916.3 521.2,916.1 523.2,916.0 525.2,915.8 527.2,915.7 529.2,915.6 531.2,915.5 533.2,915.4 535.2,915.3 537.2,915.3 539.2,915.2 541.2,915.2 543.2,915.2 545.2,915.2 547.2,915.2 549.2,915.2 551.2,915.2 553.2,915.2 555.2,915.3 557.2,915.3 559.2,915.4 561.2,915.4 563.2,915.5 565.2,915.6 567.2,915.6 569.2,915.7 571.2,915.8 573.2,915.9 575.2,916.0 577.2,916.1 579.2,916.2 581.2,916.3 583.2,916.4 585.2,916.5 587.2,916.6 589.2,916.7 591.2,916.8 593.2,916.9 595.2,917.0 597.2,917.1 599.2,917.2 601.2,917.3 603.2,917.4 605.2,917.5 607.2,917.5 609.2,917.6 611.2,917.7 613.2,917.8 615.2,917.9 617.2,917.9 619.2,918.0 621.2,918.1 623.2,918.1 625.2,918.2 627.2,918.2 629.2,918.3 631.2,918.3 633.2,918.4 635.2,918.4 637.2,918.4 639.2,918.4 641.2,918.5 643.2,918.5 645.2,918.5 647.2,918.5 649.2,918.4 651.2,918.4 653.2,918.4 655.2,918.4 657.2,918.3 659.2,918.3 661.2,918.2 663.2,918.1 665.2,918.0 667.2,917.9 669.2,917.8 671.2,917.6 673.2,917.4 675.2,917.1 677.2,916.8 679.2,916.3 681.2,915.8 683.2,915.1 685.2,914.4 687.2,913.4 689.2,912.3 691.2,910.9 693.2,909.3 695.2,907.3 697.2,904.8 699.2,901.6 701.2,897.5 703.2,892.2 705.2,885.6 707.2,877.8 709.2,869.1 711.2,860.2 713.2,852.0 715.2,845.5 717.2,841.7 719.2,841.2 721.2,844.3 723.2,850.5 725.2,859.3 727.2,869.5 729.2,880.4 731.2,890.9 733.2,900.6 735.2,909.0 737.2,915.9 739.2,921.6 741.2,926.2 743.2,929.8 745.2,932.7 747.2,935.0 749.2,936.9 751.2,938.6 753.2,939.9 755.2,941.1 757.2,942.0 759.2,942.8 761.2,943.5 763.2,944.1 765.2,944.5 767.2,944.9 769.2,945.1 771.2,945.4 773.2,945.5 775.2,945.7 777.2,945.8 779.2,945.8 781.2,945.9 783.2,945.9 785.2,945.9 787.2,946.0 789.2,946.0 791.2,946.0 793.2,946.0 795.2,946.0 797.2,946.0 799.2,946.0 801.2,946.0 803.2,946.0 805.2,946.0 807.2,946.0 809.2,946.0 811.2,946.0 813.2,946.0 815.2,946.0 817.2,946.0 819.2,946.0 821.2,946.0 823.2,946.0 825.2,946.0 827.2,946.0 829.2,946.0 831.2,946.0 833.2,946.0 835.2,946.0 837.2,946.0 839.2,946.0 841.2,946.0 843.2,946.0 845.2,946.0 847.2,946.0 849.2,946.0 851.2,946.0 853.2,946.0 855.2,946.0 857.2,946.0 859.2,946.0 861.2,946.0 863.2,946.0 865.2,946.0 867.2,946.0 869.2,946.0 871.2,946.0 873.2,946.0 875.2,946.0 877.2,946.0 879.2,946.0 881.2,946.0 883.2,946.0 885.2,946.0 887.2,946.0 889.2,946.0 891.2,946.0 893.2,946.0 895.2,946.0 897.2,946.0 899.2,946.0 901.2,946.0 903.2,946.0" stroke="#9a2a36" stroke-width="0.95"/>
<polyline points="487.2,919.9 489.2,919.0 491.2,918.1 493.2,917.3 495.2,916.6 497.2,915.9 499.2,915.4 501.2,914.8 503.2,914.3 505.2,913.9 507.2,913.5 509.2,913.1 511.2,912.7 513.2,912.4 515.2,912.2 517.2,911.9 519.2,911.7 521.2,911.5 523.2,911.3 525.2,911.2 527.2,911.0 529.2,910.9 531.2,910.8 533.2,910.7 535.2,910.7 537.2,910.6 539.2,910.6 541.2,910.5 543.2,910.5 545.2,910.5 547.2,910.5 549.2,910.5 551.2,910.6 553.2,910.6 555.2,910.6 557.2,910.7 559.2,910.7 561.2,910.8 563.2,910.9 565.2,910.9 567.2,911.0 569.2,911.1 571.2,911.2 573.2,911.2 575.2,911.3 577.2,911.4 579.2,911.5 581.2,911.6 583.2,911.7 585.2,911.8 587.2,911.9 589.2,912.0 591.2,912.1 593.2,912.2 595.2,912.3 597.2,912.4 599.2,912.5 601.2,912.6 603.2,912.7 605.2,912.8 607.2,912.9 609.2,913.0 611.2,913.1 613.2,913.2 615.2,913.2 617.2,913.3 619.2,913.4 621.2,913.5 623.2,913.5 625.2,913.6 627.2,913.6 629.2,913.7 631.2,913.7 633.2,913.7 635.2,913.8 637.2,913.8 639.2,913.8 641.2,913.8 643.2,913.8 645.2,913.8 647.2,913.8 649.2,913.8 651.2,913.8 653.2,913.8 655.2,913.7 657.2,913.7 659.2,913.7 661.2,913.6 663.2,913.6 665.2,913.5 667.2,913.5 669.2,913.4 671.2,913.3 673.2,913.3 675.2,913.2 677.2,913.1 679.2,913.0 681.2,912.9 683.2,912.8 685.2,912.7 687.2,912.6 689.2,912.5 691.2,912.4 693.2,912.3 695.2,912.2 697.2,912.1 699.2,912.0 701.2,911.9 703.2,911.7 705.2,911.6 707.2,911.4 709.2,911.2 711.2,911.0 713.2,910.7 715.2,910.4 717.2,909.9 719.2,909.4 721.2,908.8 723.2,908.0 725.2,907.1 727.2,905.9 729.2,904.5 731.2,902.8 733.2,900.8 735.2,898.4 737.2,895.5 739.2,892.0 741.2,887.5 743.2,881.9 745.2,874.7 747.2,865.5 749.2,854.0 751.2,840.2 753.2,824.5 755.2,807.8 757.2,791.6 759.2,777.5 761.2,767.6 763.2,763.0 765.2,764.4 767.2,771.5 769.2,783.4 771.2,798.8 773.2,816.4 775.2,834.5 777.2,852.0 779.2,868.0 781.2,881.8 783.2,893.5 785.2,903.0 787.2,910.8 789.2,916.9 791.2,921.9 793.2,926.0 795.2,929.4 797.2,932.2 799.2,934.6 801.2,936.7 803.2,938.4 805.2,939.9 807.2,941.1 809.2,942.1 811.2,943.0 813.2,943.6 815.2,944.2 817.2,944.6 819.2,945.0 821.2,945.2 823.2,945.4 825.2,945.6 827.2,945.7 829.2,945.8 831.2,945.9 833.2,945.9 835.2,945.9 837.2,946.0 839.2,946.0 841.2,946.0 843.2,946.0 845.2,946.0 847.2,946.0 849.2,946.0 851.2,946.0 853.2,946.0 855.2,946.0 857.2,946.0 859.2,946.0 861.2,946.0 863.2,946.0 865.2,946.0 867.2,946.0 869.2,946.0 871.2,946.0 873.2,946.0 875.2,946.0 877.2,946.0 879.2,946.0 881.2,946.0 883.2,946.0 885.2,946.0 887.2,946.0 889.2,946.0 891.2,946.0 893.2,946.0 895.2,946.0 897.2,946.0 899.2,946.0 901.2,946.0 903.2,946.0" stroke="#9a2a36" stroke-width="0.95"/>
<polyline points="487.2,923.7 489.2,922.7 491.2,921.9 493.2,921.1 495.2,920.4 497.2,919.7 499.2,919.1 501.2,918.6 503.2,918.1 505.2,917.6 507.2,917.2 509.2,916.8 511.2,916.5 513.2,916.2 515.2,915.9 517.2,915.7 519.2,915.4 521.2,915.3 523.2,915.1 525.2,914.9 527.2,914.8 529.2,914.7 531.2,914.6 533.2,914.5 535.2,914.4 537.2,914.4 539.2,914.3 541.2,914.3 543.2,914.3 545.2,914.3 547.2,914.3 549.2,914.3 551.2,914.3 553.2,914.3 555.2,914.4 557.2,914.4 559.2,914.5 561.2,914.5 563.2,914.6 565.2,914.7 567.2,914.7 569.2,914.8 571.2,914.9 573.2,915.0 575.2,915.1 577.2,915.2 579.2,915.3 581.2,915.4 583.2,915.5 585.2,915.6 587.2,915.7 589.2,915.8 591.2,915.9 593.2,916.0 595.2,916.1 597.2,916.2 599.2,916.3 601.2,916.4 603.2,916.5 605.2,916.6 607.2,916.7 609.2,916.7 611.2,916.8 613.2,916.9 615.2,917.0 617.2,917.1 619.2,917.1 621.2,917.2 623.2,917.3 625.2,917.3 627.2,917.4 629.2,917.4 631.2,917.4 633.2,917.5 635.2,917.5 637.2,917.5 639.2,917.6 641.2,917.6 643.2,917.6 645.2,917.6 647.2,917.6 649.2,917.6 651.2,917.5 653.2,917.5 655.2,917.5 657.2,917.5 659.2,917.4 661.2,917.4 663.2,917.3 665.2,917.3 667.2,917.2 669.2,917.1 671.2,917.1 673.2,917.0 675.2,916.9 677.2,916.8 679.2,916.8 681.2,916.7 683.2,916.6 685.2,916.5 687.2,916.4 689.2,916.3 691.2,916.2 693.2,916.1 695.2,916.0 697.2,915.9 699.2,915.7 701.2,915.6 703.2,915.5 705.2,915.4 707.2,915.2 709.2,915.1 711.2,914.9 713.2,914.7 715.2,914.5 717.2,914.2 719.2,913.9 721.2,913.5 723.2,913.0 725.2,912.4 727.2,911.6 729.2,910.7 731.2,909.6 733.2,908.2 735.2,906.6 737.2,904.7 739.2,902.3 741.2,899.3 743.2,895.6 745.2,890.7 747.2,884.5 749.2,876.5 751.2,866.7 753.2,855.3 755.2,842.9 757.2,830.6 759.2,819.9 761.2,812.2 763.2,808.7 765.2,809.9 767.2,815.7 769.2,825.5 771.2,838.0 773.2,852.1 775.2,866.5 777.2,880.1 779.2,892.3 781.2,902.7 783.2,911.3 785.2,918.2 787.2,923.7 789.2,928.1 791.2,931.6 793.2,934.5 795.2,936.9 797.2,938.9 799.2,940.6 801.2,942.0 803.2,943.2 805.2,944.2 807.2,945.0 809.2,945.7 811.2,946.2 813.2,946.7 815.2,947.0 817.2,947.3 819.2,947.5 821.2,947.6 823.2,947.7 825.2,947.8 827.2,947.9 829.2,947.9 831.2,947.9 833.2,948.0 835.2,948.0 837.2,948.0 839.2,948.0 841.2,948.0 843.2,948.0 845.2,948.0 847.2,948.0 849.2,948.0 851.2,948.0 853.2,948.0 855.2,948.0 857.2,948.0 859.2,948.0 861.2,948.0 863.2,948.0 865.2,948.0 867.2,948.0 869.2,948.0 871.2,948.0 873.2,948.0 875.2,948.0 877.2,948.0 879.2,948.0 881.2,948.0 883.2,948.0 885.2,948.0 887.2,948.0 889.2,948.0 891.2,948.0 893.2,948.0 895.2,948.0 897.2,948.0 899.2,948.0 901.2,948.0 903.2,948.0" stroke="#9a2a36" stroke-width="0.95"/>
<polyline points="487.2,920.6 489.2,919.7 491.2,918.8 493.2,918.0 495.2,917.3 497.2,916.6 499.2,916.0 501.2,915.5 503.2,915.0 505.2,914.5 507.2,914.1 509.2,913.8 511.2,913.4 513.2,913.1 515.2,912.8 517.2,912.6 519.2,912.4 521.2,912.2 523.2,912.0 525.2,911.9 527.2,911.7 529.2,911.6 531.2,911.5 533.2,911.4 535.2,911.4 537.2,911.3 539.2,911.3 541.2,911.2 543.2,911.2 545.2,911.2 547.2,911.2 549.2,911.2 551.2,911.2 553.2,911.3 555.2,911.3 557.2,911.4 559.2,911.4 561.2,911.5 563.2,911.5 565.2,911.6 567.2,911.7 569.2,911.8 571.2,911.8 573.2,911.9 575.2,912.0 577.2,912.1 579.2,912.2 581.2,912.3 583.2,912.4 585.2,912.5 587.2,912.6 589.2,912.7 591.2,912.8 593.2,912.9 595.2,913.0 597.2,913.1 599.2,913.2 601.2,913.3 603.2,913.4 605.2,913.5 607.2,913.6 609.2,913.7 611.2,913.8 613.2,913.8 615.2,913.9 617.2,914.0 619.2,914.1 621.2,914.1 623.2,914.2 625.2,914.2 627.2,914.3 629.2,914.3 631.2,914.4 633.2,914.4 635.2,914.4 637.2,914.5 639.2,914.5 641.2,914.5 643.2,914.5 645.2,914.5 647.2,914.5 649.2,914.5 651.2,914.5 653.2,914.5 655.2,914.4 657.2,914.4 659.2,914.3 661.2,914.3 663.2,914.3 665.2,914.2 667.2,914.1 669.2,914.1 671.2,914.0 673.2,913.9 675.2,913.9 677.2,913.8 679.2,913.7 681.2,913.6 683.2,913.5 685.2,913.4 687.2,913.3 689.2,913.2 691.2,913.1 693.2,913.0 695.2,912.9 697.2,912.8 699.2,912.7 701.2,912.6 703.2,912.5 705.2,912.4 707.2,912.3 709.2,912.2 711.2,912.0 713.2,911.9 715.2,911.8 717.2,911.7 719.2,911.6 721.2,911.5 723.2,911.4 725.2,911.3 727.2,911.2 729.2,911.2 731.2,911.0 733.2,910.9 735.2,910.8 737.2,910.7 739.2,910.5 741.2,910.3 743.2,910.0 745.2,909.7 747.2,909.3 749.2,908.8 751.2,908.1 753.2,907.3 755.2,906.4 757.2,905.2 759.2,903.7 761.2,901.8 763.2,899.4 765.2,896.1 767.2,891.7 769.2,886.1 771.2,879.2 773.2,871.3 775.2,863.0 777.2,855.5 779.2,849.9 781.2,847.2 783.2,848.0 785.2,852.8 787.2,860.7 789.2,870.9 791.2,882.0 793.2,893.0 795.2,903.1 797.2,911.6 799.2,918.6 801.2,924.0 803.2,927.9 805.2,930.4 807.2,931.6 809.2,931.3 811.2,929.7 813.2,926.8 815.2,923.4 817.2,920.1 819.2,918.0 821.2,917.8 823.2,919.7 825.2,923.4 827.2,928.1 829.2,933.0 831.2,937.3 833.2,940.7 835.2,943.0 837.2,944.4 839.2,945.2 841.2,945.6 843.2,945.8 845.2,945.9 847.2,946.0 849.2,946.0 851.2,946.0 853.2,946.0 855.2,946.0 857.2,946.0 859.2,946.0 861.2,946.0 863.2,946.0 865.2,946.0 867.2,946.0 869.2,946.0 871.2,946.0 873.2,946.0 875.2,946.0 877.2,946.0 879.2,946.0 881.2,946.0 883.2,946.0 885.2,946.0 887.2,946.0 889.2,946.0 891.2,946.0 893.2,946.0 895.2,946.0 897.2,946.0 899.2,946.0 901.2,946.0 903.2,946.0" stroke="#9a2a36" stroke-width="0.95"/>
<polyline points="487.2,939.8 489.7,940.6 492.2,941.4 494.7,942.2 497.2,942.7 499.7,943.2 502.2,943.4 504.7,943.5 507.2,943.3 509.7,943.0 512.2,942.5 514.7,941.9 517.2,941.3 519.7,940.6 522.2,939.9 524.7,939.3 527.2,938.8 529.7,938.5 532.2,938.3 534.7,938.3 537.2,938.5 539.7,938.9 542.2,939.4 544.7,940.0 547.2,940.8 549.7,941.6 552.2,942.3 554.7,943.1 557.2,943.7 559.7,944.2 562.2,944.5 564.7,944.7 567.2,944.7 569.7,944.5 572.2,944.2 574.7,943.7 577.2,943.1 579.7,942.5 582.2,941.9 584.7,941.3 587.2,940.7 589.7,940.3 592.2,940.1 594.7,940.0 597.2,940.0 599.7,940.4 602.2,941.0 604.7,942.4 607.2,944.7 609.7,947.6 612.2,950.2 614.7,951.1 617.2,950.5 619.7,949.2 622.2,948.1 624.7,947.3 627.2,946.7 629.7,946.3 632.2,945.8 634.7,945.4 637.2,944.9 639.7,944.3 642.2,943.8 644.7,943.2 647.2,942.7 649.7,942.2 652.2,941.9 654.7,941.7 657.2,941.7 659.7,941.8 662.2,942.1 664.7,942.5 667.2,943.0 669.7,943.6 672.2,944.3 674.7,944.9 677.2,945.6 679.7,946.1 682.2,946.6 684.7,946.9 687.2,947.2 689.7,947.2 692.2,947.1 694.7,946.9 697.2,946.5 699.7,946.1 702.2,945.6 704.7,945.1 707.2,944.6 709.7,944.1 712.2,943.8 714.7,943.5 717.2,943.4 719.7,943.4 722.2,943.6 724.7,943.9 727.2,944.3 729.7,944.8 732.2,945.3 734.7,946.0 737.2,946.6 739.7,947.1 742.2,947.6 744.7,948.0 747.2,948.3 749.7,948.4 752.2,948.5 754.7,948.3 757.2,948.1 759.7,947.8 762.2,947.3 764.7,946.9 767.2,946.4 769.7,946.0 772.2,945.6 774.7,945.3 777.2,945.1 779.7,945.1 782.2,945.1 784.7,945.3 787.2,945.6 789.7,946.0 792.2,946.5 794.7,947.1 797.2,947.6 799.7,948.1 802.2,948.6 804.7,949.1 807.2,949.4 809.7,949.6 812.2,949.7 814.7,949.7 817.2,949.5 819.7,949.3 822.2,949.0 824.7,948.6 827.2,948.2 829.7,947.8 832.2,947.5 834.7,947.2 837.2,946.9 839.7,946.8 842.2,946.8 844.7,946.9 847.2,947.1 849.7,947.4 852.2,947.8 854.7,948.2 857.2,948.7 859.7,949.2 862.2,949.7 864.7,950.1 867.2,950.5 869.7,950.7 872.2,950.9 874.7,951.0 877.2,950.9 879.7,950.8 882.2,950.6 884.7,950.3 887.2,949.9 889.7,949.6 892.2,949.3 894.7,949.0 897.2,948.7 899.7,948.6 902.2,948.5" stroke="#b02c30" stroke-width="0.9"/>
<polyline points="487.2,934.2 489.7,934.1 492.2,933.9 494.7,933.7 497.2,933.5 499.7,933.3 502.2,933.1 504.7,932.9 507.2,932.8 509.7,932.8 512.2,932.8 514.7,932.9 517.2,933.0 519.7,933.2 522.2,933.5 524.7,933.8 527.2,934.2 529.7,934.6 532.2,935.0 534.7,935.4 537.2,935.7 539.7,936.1 542.2,936.4 544.7,936.6 547.2,936.8 549.7,936.9 552.2,936.9 554.7,936.9 557.2,936.8 559.7,936.7 562.2,936.5 564.7,936.4 567.2,936.2 569.7,936.1 572.2,936.2 574.7,936.5 577.2,936.9 579.7,937.1 582.2,937.0 584.7,936.7 587.2,936.4 589.7,936.4 592.2,936.6 594.7,936.9 597.2,937.2 599.7,937.7 602.2,938.3 604.7,939.4 607.2,940.8 609.7,941.7 612.2,941.4 614.7,940.5 617.2,939.9 619.7,939.7 622.2,939.6 624.7,939.6 627.2,939.5 629.7,939.3 632.2,939.2 634.7,939.0 637.2,938.9 639.7,938.7 642.2,938.6 644.7,938.6 647.2,938.6 649.7,938.6 652.2,938.7 654.7,938.8 657.2,939.0 659.7,939.3 662.2,939.6 664.7,939.9 667.2,940.3 669.7,940.6 672.2,941.0 674.7,941.3 677.2,941.6 679.7,941.8 682.2,942.0 684.7,942.2 687.2,942.3 689.7,942.3 692.2,942.3 694.7,942.2 697.2,942.1 699.7,942.0 702.2,941.9 704.7,941.8 707.2,941.6 709.7,941.5 712.2,941.5 714.7,941.5 717.2,941.5 719.7,941.6 722.2,941.7 724.7,941.9 727.2,942.1 729.7,942.3 732.2,942.6 734.7,942.9 737.2,943.3 739.7,943.6 742.2,943.9 744.7,944.2 747.2,944.4 749.7,944.6 752.2,944.8 754.7,944.9 757.2,945.0 759.7,945.0 762.2,945.0 764.7,944.9 767.2,944.8 769.7,944.7 772.2,944.6 774.7,944.5 777.2,944.4 779.7,944.4 782.2,944.3 784.7,944.4 787.2,944.4 789.7,944.5 792.2,944.7 794.7,944.9 797.2,945.1 799.7,945.4 802.2,945.6 804.7,945.9 807.2,946.2 809.7,946.5 812.2,946.8 814.7,947.0 817.2,947.2 819.7,947.4 822.2,947.5 824.7,947.6 827.2,947.7 829.7,947.7 832.2,947.6 834.7,947.6 837.2,947.5 839.7,947.4 842.2,947.4 844.7,947.3 847.2,947.2 849.7,947.2 852.2,947.2 854.7,947.3 857.2,947.4 859.7,947.5 862.2,947.7 864.7,947.9 867.2,948.1 869.7,948.4 872.2,948.6 874.7,948.9 877.2,949.2 879.7,949.4 882.2,949.7 884.7,949.9 887.2,950.0 889.7,950.2 892.2,950.3 894.7,950.3 897.2,950.4 899.7,950.4 902.2,950.3" stroke="#b02c30" stroke-width="0.9"/>
<polyline points="487.2,945.0 489.7,944.7 492.2,944.3 494.7,944.0 497.2,943.7 499.7,943.4 502.2,943.2 504.7,943.1 507.2,943.1 509.7,943.2 512.2,943.4 514.7,943.7 517.2,944.1 519.7,944.5 522.2,944.9 524.7,945.2 527.2,945.6 529.7,945.8 532.2,946.0 534.7,946.1 537.2,946.0 539.7,945.9 542.2,945.7 544.7,945.4 547.2,945.1 549.7,944.8 552.2,944.5 554.7,944.2 557.2,944.1 559.7,944.0 562.2,944.0 564.7,944.1 567.2,944.3 569.7,944.6 572.2,944.9 574.7,945.3 577.2,945.7 579.7,946.0 582.2,946.3 584.7,946.5 587.2,946.7 589.7,946.7 592.2,946.7 594.7,946.8 597.2,947.4 599.7,949.2 602.2,951.4 604.7,952.1 607.2,950.2 609.7,947.4 612.2,945.6 614.7,945.0 617.2,945.1 619.7,945.6 622.2,946.5 624.7,947.8 627.2,949.3 629.7,950.5 632.2,951.1 634.7,950.9 637.2,950.0 639.7,949.1 642.2,948.3 644.7,947.8 647.2,947.5 649.7,947.3 652.2,947.1 654.7,946.8 657.2,946.6 659.7,946.3 662.2,946.1 664.7,945.9 667.2,945.7 669.7,945.7 672.2,945.7 674.7,945.8 677.2,946.0 679.7,946.3 682.2,946.6 684.7,946.9 687.2,947.2 689.7,947.5 692.2,947.8 694.7,948.0 697.2,948.1 699.7,948.1 702.2,948.1 704.7,947.9 707.2,947.8 709.7,947.5 712.2,947.3 714.7,947.1 717.2,946.8 719.7,946.7 722.2,946.6 724.7,946.5 727.2,946.6 729.7,946.7 732.2,946.9 734.7,947.1 737.2,947.4 739.7,947.7 742.2,948.0 744.7,948.3 747.2,948.5 749.7,948.7 752.2,948.8 754.7,948.8 757.2,948.7 759.7,948.6 762.2,948.5 764.7,948.3 767.2,948.0 769.7,947.8 772.2,947.7 774.7,947.5 777.2,947.4 779.7,947.4 782.2,947.5 784.7,947.6 787.2,947.8 789.7,948.0 792.2,948.3 794.7,948.5 797.2,948.8 799.7,949.0 802.2,949.2 804.7,949.4 807.2,949.5 809.7,949.5 812.2,949.4 814.7,949.3 817.2,949.2 819.7,949.0 822.2,948.8 824.7,948.6 827.2,948.5 829.7,948.3 832.2,948.3 834.7,948.3 837.2,948.3 839.7,948.4 842.2,948.6 844.7,948.8 847.2,949.1 849.7,949.3 852.2,949.6 854.7,949.8 857.2,950.0 859.7,950.1 862.2,950.2 864.7,950.2 867.2,950.1 869.7,950.0 872.2,949.9 874.7,949.7 877.2,949.6 879.7,949.4 882.2,949.3 884.7,949.2 887.2,949.1 889.7,949.1 892.2,949.2 894.7,949.3 897.2,949.5 899.7,949.7 902.2,949.9" stroke="#b02c30" stroke-width="0.9"/>
<polyline points="487.2,942.3 489.7,941.9 492.2,941.5 494.7,941.1 497.2,940.9 499.7,940.8 502.2,940.7 504.7,940.9 507.2,941.1 509.7,941.5 512.2,941.9 514.7,942.4 517.2,943.0 519.7,943.5 522.2,943.9 524.7,944.1 527.2,943.8 529.7,943.0 532.2,942.2 534.7,942.1 537.2,942.6 539.7,943.4 542.2,943.8 544.7,943.7 547.2,943.3 549.7,943.0 552.2,942.6 554.7,942.3 557.2,942.1 559.7,942.0 562.2,942.0 564.7,942.1 567.2,942.4 569.7,942.7 572.2,943.2 574.7,943.6 577.2,944.1 579.7,944.6 582.2,945.1 584.7,945.4 587.2,945.7 589.7,945.9 592.2,946.0 594.7,945.9 597.2,945.7 599.7,945.5 602.2,945.2 604.7,944.8 607.2,944.4 609.7,944.0 612.2,943.7 614.7,943.4 617.2,943.3 619.7,943.2 622.2,943.2 624.7,943.4 627.2,943.6 629.7,944.0 632.2,944.4 634.7,944.8 637.2,945.3 639.7,945.7 642.2,946.1 644.7,946.4 647.2,946.4 649.7,946.1 652.2,945.5 654.7,944.5 657.2,943.7 659.7,943.2 662.2,943.3 664.7,943.7 667.2,944.2 669.7,944.5 672.2,944.6 674.7,944.5 677.2,944.5 679.7,944.4 682.2,944.5 684.7,944.7 687.2,944.9 689.7,945.2 692.2,945.6 694.7,946.0 697.2,946.5 699.7,946.9 702.2,947.2 704.7,947.5 707.2,947.7 709.7,947.9 712.2,947.9 714.7,947.8 717.2,947.7 719.7,947.4 722.2,947.1 724.7,946.8 727.2,946.5 729.7,946.2 732.2,946.0 734.7,945.8 737.2,945.7 739.7,945.7 742.2,945.7 744.7,945.9 747.2,946.1 749.7,946.5 752.2,946.8 754.7,947.2 757.2,947.6 759.7,948.0 762.2,948.3 764.7,948.5 767.2,948.7 769.7,948.8 772.2,948.8 774.7,948.8 777.2,948.6 779.7,948.4 782.2,948.2 784.7,947.9 787.2,947.6 789.7,947.3 792.2,947.1 794.7,947.0 797.2,946.9 799.7,946.9 802.2,947.0 804.7,947.2 807.2,947.4 809.7,947.7 812.2,948.0 814.7,948.4 817.2,948.7 819.7,949.0 822.2,949.3 824.7,949.5 827.2,949.7 829.7,949.8 832.2,949.8 834.7,949.7 837.2,949.6 839.7,949.4 842.2,949.2 844.7,948.9 847.2,948.7 849.7,948.5 852.2,948.3 854.7,948.2 857.2,948.1 859.7,948.2 862.2,948.2 864.7,948.4 867.2,948.6 869.7,948.9 872.2,949.2 874.7,949.5 877.2,949.8 879.7,950.1 882.2,950.4 884.7,950.6 887.2,950.7 889.7,950.8 892.2,950.7 894.7,950.7 897.2,950.6 899.7,950.4 902.2,950.2" stroke="#b02c30" stroke-width="0.9"/>
<polyline points="487.2,935.1 489.7,935.3 492.2,935.6 494.7,936.0 497.2,936.5 499.7,937.2 502.2,937.9 504.7,938.5 507.2,939.2 509.7,939.9 512.2,940.4 514.7,940.8 517.2,941.1 519.7,941.3 522.2,941.3 524.7,941.2 527.2,940.9 529.7,940.6 532.2,940.1 534.7,939.6 537.2,939.1 539.7,938.6 542.2,938.1 544.7,937.7 547.2,937.4 549.7,937.3 552.2,937.3 554.7,937.4 557.2,937.6 559.7,938.0 562.2,938.5 564.7,939.1 567.2,939.7 569.7,940.3 572.2,941.0 574.7,941.6 577.2,942.1 579.7,942.5 582.2,942.8 584.7,943.0 587.2,943.0 589.7,942.9 592.2,942.7 594.7,942.4 597.2,942.0 599.7,941.6 602.2,941.1 604.7,940.6 607.2,940.2 609.7,939.8 612.2,939.6 614.7,939.4 617.2,939.4 619.7,939.5 622.2,939.7 624.7,940.0 627.2,940.5 629.7,941.0 632.2,941.6 634.7,942.2 637.2,942.8 639.7,943.3 642.2,943.8 644.7,944.2 647.2,944.5 649.7,944.7 652.2,945.0 654.7,945.6 657.2,946.8 659.7,948.4 662.2,949.5 664.7,949.0 667.2,947.1 669.7,944.8 672.2,943.1 674.7,942.2 677.2,941.8 679.7,941.6 682.2,941.5 684.7,941.6 687.2,941.8 689.7,942.1 692.2,942.5 694.7,942.9 697.2,943.4 699.7,944.0 702.2,944.5 704.7,945.0 707.2,945.4 709.7,945.8 712.2,946.1 714.7,946.3 717.2,946.4 719.7,946.4 722.2,946.3 724.7,946.1 727.2,945.8 729.7,945.4 732.2,945.1 734.7,944.7 737.2,944.3 739.7,944.0 742.2,943.8 744.7,943.7 747.2,943.6 749.7,943.7 752.2,943.9 754.7,944.1 757.2,944.5 759.7,944.9 762.2,945.4 764.7,945.8 767.2,946.3 769.7,946.8 772.2,947.2 774.7,947.6 777.2,947.9 779.7,948.1 782.2,948.2 784.7,948.2 787.2,948.1 789.7,947.9 792.2,947.6 794.7,947.3 797.2,947.0 799.7,946.7 802.2,946.4 804.7,946.1 807.2,945.9 809.7,945.8 812.2,945.8 814.7,945.8 817.2,946.0 819.7,946.2 822.2,946.5 824.7,946.9 827.2,947.3 829.7,947.7 832.2,948.2 834.7,948.6 837.2,949.0 839.7,949.3 842.2,949.6 844.7,949.8 847.2,949.9 849.7,949.9 852.2,949.8 854.7,949.7 857.2,949.5 859.7,949.2 862.2,949.0 864.7,948.7 867.2,948.4 869.7,948.2 872.2,948.0 874.7,947.9 877.2,947.9 879.7,947.9 882.2,948.0 884.7,948.2 887.2,948.5 889.7,948.8 892.2,949.2 894.7,949.6 897.2,950.0 899.7,950.4 902.2,950.7" stroke="#b02c30" stroke-width="0.9"/>
<polyline points="487.2,940.3 489.7,940.2 492.2,940.2 494.7,940.3 497.2,940.6 499.7,941.0 502.2,941.4 504.7,941.9 507.2,942.4 509.7,942.8 512.2,943.2 514.7,943.5 517.2,943.6 519.7,943.7 522.2,943.6 524.7,943.4 527.2,943.1 529.7,942.8 532.2,942.4 534.7,942.1 537.2,941.7 539.7,941.5 542.2,941.4 544.7,941.4 547.2,941.6 549.7,942.0 552.2,942.4 554.7,942.8 557.2,943.1 559.7,943.5 562.2,943.8 564.7,944.1 567.2,944.4 569.7,944.6 572.2,944.7 574.7,944.6 577.2,944.5 579.7,944.2 582.2,943.9 584.7,943.6 587.2,943.5 589.7,943.8 592.2,944.7 594.7,946.3 597.2,947.9 599.7,948.7 602.2,948.1 604.7,946.6 607.2,945.3 609.7,944.6 612.2,944.5 614.7,944.8 617.2,945.1 619.7,945.3 622.2,945.5 624.7,945.6 627.2,945.6 629.7,945.5 632.2,945.3 634.7,945.0 637.2,944.7 639.7,944.4 642.2,944.1 644.7,943.9 647.2,943.7 649.7,943.7 652.2,943.7 654.7,943.9 657.2,944.2 659.7,944.5 662.2,944.9 664.7,945.3 667.2,945.7 669.7,946.0 672.2,946.3 674.7,946.5 677.2,946.6 679.7,946.6 682.2,946.5 684.7,946.3 687.2,946.1 689.7,945.8 692.2,945.5 694.7,945.3 697.2,945.1 699.7,944.9 702.2,944.9 704.7,944.9 707.2,945.0 709.7,945.2 712.2,945.5 714.7,945.9 717.2,946.3 719.7,946.6 722.2,947.0 724.7,947.2 727.2,947.4 729.7,947.6 732.2,947.6 734.7,947.5 737.2,947.4 739.7,947.2 742.2,946.9 744.7,946.7 747.2,946.4 749.7,946.2 752.2,946.1 754.7,946.0 757.2,946.0 759.7,946.2 762.2,946.3 764.7,946.6 767.2,946.9 769.7,947.3 772.2,947.6 774.7,947.9 777.2,948.2 779.7,948.4 782.2,948.5 784.7,948.6 787.2,948.5 789.7,948.4 792.2,948.2 794.7,948.0 797.2,947.8 799.7,947.6 802.2,947.4 804.7,947.3 807.2,947.2 809.7,947.2 812.2,947.3 814.7,947.5 817.2,947.7 819.7,948.0 822.2,948.3 824.7,948.6 827.2,948.9 829.7,949.1 832.2,949.3 834.7,949.5 837.2,949.5 839.7,949.5 842.2,949.4 844.7,949.3 847.2,949.1 849.7,948.9 852.2,948.7 854.7,948.6 857.2,948.4 859.7,948.4 862.2,948.4 864.7,948.4 867.2,948.6 869.7,948.8 872.2,949.0 874.7,949.3 877.2,949.6 879.7,949.9 882.2,950.1 884.7,950.3 887.2,950.4 889.7,950.5 892.2,950.5 894.7,950.5 897.2,950.4 899.7,950.2 902.2,950.0" stroke="#b02c30" stroke-width="0.9"/>
<polyline points="487.2,942.3 489.7,942.8 492.2,943.1 494.7,943.4 497.2,943.5 499.7,943.5 502.2,943.4 504.7,943.1 507.2,942.8 509.7,942.3 512.2,941.8 514.7,941.4 517.2,940.9 519.7,940.5 522.2,940.2 524.7,940.0 527.2,940.0 529.7,940.0 532.2,940.3 534.7,940.6 537.2,941.0 539.7,941.5 542.2,942.1 544.7,942.7 547.2,943.2 549.7,943.7 552.2,944.1 554.7,944.4 557.2,944.4 559.7,943.9 562.2,942.8 564.7,941.6 567.2,941.2 569.7,941.7 572.2,942.4 574.7,942.6 577.2,942.4 579.7,942.1 582.2,941.8 584.7,941.5 587.2,941.4 589.7,941.5 592.2,941.6 594.7,941.8 597.2,942.2 599.7,942.7 602.2,943.2 604.7,943.7 607.2,944.2 609.7,944.7 612.2,945.1 614.7,945.5 617.2,945.7 619.7,945.8 622.2,945.8 624.7,945.7 627.2,945.5 629.7,945.2 632.2,944.8 634.7,944.4 637.2,944.0 639.7,943.6 642.2,943.3 644.7,943.1 647.2,942.9 649.7,942.9 652.2,943.0 654.7,943.1 657.2,943.4 659.7,943.8 662.2,944.3 664.7,944.7 667.2,945.2 669.7,945.7 672.2,946.1 674.7,946.5 677.2,946.8 679.7,946.9 682.2,947.0 684.7,946.9 687.2,946.8 689.7,946.5 692.2,946.2 694.7,945.9 697.2,945.5 699.7,945.2 702.2,944.9 704.7,944.7 707.2,944.8 709.7,945.3 712.2,946.3 714.7,947.5 717.2,948.2 719.7,948.1 722.2,947.4 724.7,946.8 727.2,946.6 729.7,946.8 732.2,947.2 734.7,947.5 737.2,947.8 739.7,948.0 742.2,948.1 744.7,948.1 747.2,948.0 749.7,947.9 752.2,947.6 754.7,947.3 757.2,947.0 759.7,946.7 762.2,946.4 764.7,946.1 767.2,945.9 769.7,945.8 772.2,945.8 774.7,945.9 777.2,946.0 779.7,946.3 782.2,946.6 784.7,947.0 787.2,947.4 789.7,947.8 792.2,948.2 794.7,948.5 797.2,948.8 799.7,949.1 802.2,949.2 804.7,949.3 807.2,949.2 809.7,949.1 812.2,948.9 814.7,948.7 817.2,948.4 819.7,948.2 822.2,947.9 824.7,947.6 827.2,947.4 829.7,947.3 832.2,947.3 834.7,947.3 837.2,947.4 839.7,947.6 842.2,947.8 844.7,948.2 847.2,948.5 849.7,948.9 852.2,949.2 854.7,949.6 857.2,949.9 859.7,950.1 862.2,950.3 864.7,950.4 867.2,950.4 869.7,950.3 872.2,950.2 874.7,950.0 877.2,949.8 879.7,949.6 882.2,949.4 884.7,949.1 887.2,948.9 889.7,948.8 892.2,948.7 894.7,948.7 897.2,948.8 899.7,948.9 902.2,949.1" stroke="#b02c30" stroke-width="0.9"/>
<polyline points="487.2,934.0 489.7,933.9 492.2,933.9 494.7,933.9 497.2,933.9 499.7,934.0 502.2,934.1 504.7,934.3 507.2,934.5 509.7,934.7 512.2,935.0 514.7,935.3 517.2,935.5 519.7,935.8 522.2,936.1 524.7,936.3 527.2,936.5 529.7,936.7 532.2,936.8 534.7,936.9 537.2,937.0 539.7,937.0 542.2,937.0 544.7,937.0 547.2,936.9 549.7,936.9 552.2,936.8 554.7,936.7 557.2,936.6 559.7,936.6 562.2,936.5 564.7,936.4 567.2,936.2 569.7,935.7 572.2,935.1 574.7,934.7 577.2,934.8 579.7,935.5 582.2,936.4 584.7,937.3 587.2,937.9 589.7,938.3 592.2,938.6 594.7,938.9 597.2,939.1 599.7,939.3 602.2,939.4 604.7,939.5 607.2,939.6 609.7,939.6 612.2,939.6 614.7,939.6 617.2,939.5 619.7,939.5 622.2,939.4 624.7,939.4 627.2,939.3 629.7,939.3 632.2,939.2 634.7,939.2 637.2,939.1 639.7,939.0 642.2,939.0 644.7,939.3 647.2,939.7 649.7,940.0 652.2,940.3 654.7,940.5 657.2,940.8 659.7,941.0 662.2,941.3 664.7,941.5 667.2,941.7 669.7,941.8 672.2,942.0 674.7,942.1 677.2,942.1 679.7,942.2 682.2,942.2 684.7,942.2 687.2,942.2 689.7,942.1 692.2,942.1 694.7,942.0 697.2,942.0 699.7,942.0 702.2,942.0 704.7,942.0 707.2,942.0 709.7,942.1 712.2,942.2 714.7,942.4 717.2,942.6 719.7,942.8 722.2,943.0 724.7,943.2 727.2,943.4 729.7,943.6 732.2,943.9 734.7,944.1 737.2,944.2 739.7,944.4 742.2,944.5 744.7,944.6 747.2,944.7 749.7,944.8 752.2,944.8 754.7,944.8 757.2,944.8 759.7,944.7 762.2,944.7 764.7,944.7 767.2,944.7 769.7,944.6 772.2,944.7 774.7,944.7 777.2,944.7 779.7,944.8 782.2,944.9 784.7,945.1 787.2,945.2 789.7,945.4 792.2,945.6 794.7,945.8 797.2,946.0 799.7,946.3 802.2,946.5 804.7,946.6 807.2,946.8 809.7,947.0 812.2,947.1 814.7,947.2 817.2,947.3 819.7,947.3 822.2,947.4 824.7,947.4 827.2,947.4 829.7,947.4 832.2,947.3 834.7,947.3 837.2,947.3 839.7,947.3 842.2,947.3 844.7,947.4 847.2,947.4 849.7,947.5 852.2,947.6 854.7,947.8 857.2,947.9 859.7,948.1 862.2,948.3 864.7,948.5 867.2,948.7 869.7,948.9 872.2,949.1 874.7,949.2 877.2,949.4 879.7,949.5 882.2,949.7 884.7,949.8 887.2,949.8 889.7,949.9 892.2,949.9 894.7,950.0 897.2,950.0 899.7,950.0 902.2,950.0" stroke="#b02c30" stroke-width="0.9"/>
<polyline points="487.2,944.5 489.7,943.8 492.2,943.0 494.7,942.2 497.2,941.3 499.7,940.5 502.2,939.7 504.7,939.1 507.2,938.7 509.7,938.4 512.2,938.4 514.7,938.6 517.2,939.0 519.7,939.6 522.2,940.3 524.7,941.2 527.2,942.1 529.7,943.1 532.2,943.9 534.7,944.8 537.2,945.4 539.7,945.9 542.2,946.2 544.7,946.3 547.2,946.2 549.7,945.9 552.2,945.4 554.7,944.8 557.2,944.1 559.7,943.3 562.2,942.5 564.7,941.7 567.2,941.1 569.7,940.5 572.2,940.2 574.7,940.0 577.2,940.0 579.7,940.2 582.2,940.6 584.7,941.2 587.2,941.9 589.7,942.8 592.2,943.6 594.7,944.6 597.2,945.7 599.7,947.0 602.2,948.5 604.7,950.2 607.2,951.8 609.7,952.7 612.2,952.7 614.7,951.7 617.2,950.0 619.7,948.1 622.2,946.4 624.7,945.0 627.2,943.9 629.7,943.1 632.2,942.5 634.7,942.0 637.2,941.7 639.7,941.6 642.2,941.7 644.7,942.0 647.2,942.6 649.7,943.7 652.2,945.0 654.7,946.3 657.2,947.1 659.7,947.4 662.2,947.5 664.7,947.6 667.2,947.9 669.7,948.1 672.2,948.3 674.7,948.3 677.2,948.2 679.7,947.9 682.2,947.5 684.7,946.9 687.2,946.3 689.7,945.6 692.2,945.0 694.7,944.4 697.2,943.9 699.7,943.5 702.2,943.3 704.7,943.2 707.2,943.3 709.7,943.5 712.2,943.9 714.7,944.4 717.2,945.1 719.7,945.8 722.2,946.5 724.7,947.2 727.2,947.8 729.7,948.4 732.2,948.9 734.7,949.2 737.2,949.3 739.7,949.3 742.2,949.2 744.7,948.9 747.2,948.5 749.7,948.0 752.2,947.4 754.7,946.8 757.2,946.3 759.7,945.8 762.2,945.3 764.7,945.0 767.2,944.8 769.7,944.8 772.2,944.9 774.7,945.1 777.2,945.5 779.7,946.0 782.2,946.6 784.7,947.2 787.2,947.9 789.7,948.5 792.2,949.1 794.7,949.6 797.2,950.0 799.7,950.2 802.2,950.4 804.7,950.3 807.2,950.2 809.7,949.9 812.2,949.5 814.7,949.1 817.2,948.6 819.7,948.1 822.2,947.6 824.7,947.1 827.2,946.8 829.7,946.5 832.2,946.4 834.7,946.4 837.2,946.5 839.7,946.8 842.2,947.1 844.7,947.6 847.2,948.1 849.7,948.7 852.2,949.3 854.7,949.8 857.2,950.3 859.7,950.7 862.2,951.1 864.7,951.3 867.2,951.4 869.7,951.3 872.2,951.2 874.7,950.9 877.2,950.6 879.7,950.2 882.2,949.8 884.7,949.3 887.2,948.9 889.7,948.6 892.2,948.3 894.7,948.1 897.2,948.0 899.7,948.0 902.2,948.1" stroke="#b02c30" stroke-width="0.9"/>
<polyline points="487.2,934.3 489.7,935.1 492.2,935.8 494.7,936.4 497.2,936.9 499.7,937.2 502.2,937.3 504.7,937.3 507.2,937.1 509.7,936.8 512.2,936.4 514.7,935.8 517.2,935.3 519.7,934.8 522.2,934.4 524.7,934.0 527.2,933.9 529.7,933.8 532.2,934.0 534.7,934.3 537.2,934.8 539.7,935.4 542.2,936.0 544.7,936.7 547.2,937.4 549.7,938.0 552.2,938.6 554.7,939.0 557.2,939.2 559.7,939.3 562.2,939.2 564.7,939.0 567.2,938.7 569.7,938.2 572.2,937.8 574.7,937.3 577.2,936.8 579.7,936.5 582.2,936.2 584.7,936.1 587.2,936.2 589.7,936.4 592.2,936.7 594.7,937.2 597.2,937.8 599.7,938.4 602.2,939.1 604.7,939.7 607.2,940.3 609.7,940.7 612.2,941.0 614.7,941.2 617.2,941.3 619.7,941.1 622.2,940.9 624.7,940.5 627.2,940.0 629.7,939.3 632.2,938.4 634.7,937.2 637.2,936.2 639.7,935.6 642.2,935.7 644.7,936.5 647.2,937.6 649.7,938.6 652.2,939.4 654.7,940.1 657.2,940.8 659.7,941.4 662.2,941.9 664.7,942.4 667.2,942.8 669.7,943.1 672.2,943.2 674.7,943.2 677.2,943.0 679.7,942.8 682.2,942.5 684.7,942.1 687.2,941.7 689.7,941.3 692.2,941.0 694.7,940.8 697.2,940.7 699.7,940.7 702.2,940.8 704.7,941.1 707.2,941.5 709.7,942.1 712.2,942.9 714.7,943.8 717.2,944.5 719.7,944.8 722.2,944.9 724.7,945.0 727.2,945.1 729.7,945.2 732.2,945.1 734.7,945.0 737.2,944.7 739.7,944.4 742.2,944.0 744.7,943.7 747.2,943.4 749.7,943.1 752.2,943.0 754.7,942.9 757.2,943.0 759.7,943.2 762.2,943.5 764.7,943.9 767.2,944.4 769.7,944.9 772.2,945.4 774.7,945.9 777.2,946.3 779.7,946.7 782.2,947.0 784.7,947.1 787.2,947.1 789.7,947.0 792.2,946.9 794.7,946.6 797.2,946.3 799.7,946.0 802.2,945.7 804.7,945.5 807.2,945.3 809.7,945.2 812.2,945.2 814.7,945.3 817.2,945.5 819.7,945.9 822.2,946.3 824.7,946.7 827.2,947.2 829.7,947.7 832.2,948.1 834.7,948.5 837.2,948.8 839.7,949.0 842.2,949.1 844.7,949.1 847.2,949.0 849.7,948.8 852.2,948.6 854.7,948.3 857.2,948.0 859.7,947.8 862.2,947.6 864.7,947.5 867.2,947.4 869.7,947.5 872.2,947.7 874.7,947.9 877.2,948.2 879.7,948.6 882.2,949.0 884.7,949.5 887.2,949.9 889.7,950.3 892.2,950.6 894.7,950.8 897.2,951.0 899.7,951.0 902.2,951.0" stroke="#b02c30" stroke-width="0.9"/>
<polyline points="487.2,936.7 489.7,936.8 492.2,936.8 494.7,936.5 497.2,936.1 499.7,935.4 502.2,934.7 504.7,933.9 507.2,933.0 509.7,932.3 512.2,931.6 514.7,931.1 517.2,930.7 519.7,930.6 522.2,930.7 524.7,931.0 527.2,931.5 529.7,932.3 532.2,933.1 534.7,934.1 537.2,935.1 539.7,936.0 542.2,937.0 544.7,937.8 547.2,938.4 549.7,938.9 552.2,939.1 554.7,939.2 557.2,939.1 559.7,938.7 562.2,938.2 564.7,937.5 567.2,936.8 569.7,936.0 572.2,935.2 574.7,934.6 577.2,934.0 579.7,933.7 582.2,933.5 584.7,933.5 587.2,933.8 589.7,934.2 592.2,934.8 594.7,935.6 597.2,936.5 599.7,937.4 602.2,938.3 604.7,939.2 607.2,939.9 609.7,940.6 612.2,941.1 614.7,941.4 617.2,941.5 619.7,941.4 622.2,941.1 624.7,940.7 627.2,940.1 629.7,939.4 632.2,938.8 634.7,938.1 637.2,937.5 639.7,937.0 642.2,936.6 644.7,936.4 647.2,936.4 649.7,936.6 652.2,936.9 654.7,937.5 657.2,938.1 659.7,938.9 662.2,939.7 664.7,940.6 667.2,941.4 669.7,942.2 672.2,942.8 674.7,943.3 677.2,943.6 679.7,943.8 682.2,943.7 684.7,943.5 687.2,943.2 689.7,942.7 692.2,942.2 694.7,941.6 697.2,941.0 699.7,940.6 702.2,940.4 704.7,940.7 707.2,941.2 709.7,941.8 712.2,942.0 714.7,941.7 717.2,941.3 719.7,941.3 722.2,941.6 724.7,942.2 727.2,942.9 729.7,943.7 732.2,944.4 734.7,945.0 737.2,945.5 739.7,945.9 742.2,946.1 744.7,946.1 747.2,946.0 749.7,945.7 752.2,945.3 754.7,944.8 757.2,944.3 759.7,943.8 762.2,943.3 764.7,942.8 767.2,942.5 769.7,942.2 772.2,942.2 774.7,942.2 777.2,942.5 779.7,942.8 782.2,943.3 784.7,943.9 787.2,944.6 789.7,945.3 792.2,946.0 794.7,946.6 797.2,947.2 799.7,947.7 802.2,948.1 804.7,948.3 807.2,948.4 809.7,948.4 812.2,948.2 814.7,947.9 817.2,947.5 819.7,947.0 822.2,946.6 824.7,946.1 827.2,945.7 829.7,945.4 832.2,945.2 834.7,945.1 837.2,945.1 839.7,945.3 842.2,945.6 844.7,946.0 847.2,946.5 849.7,947.1 852.2,947.7 854.7,948.3 857.2,948.9 859.7,949.5 862.2,950.0 864.7,950.3 867.2,950.6 869.7,950.7 872.2,950.7 874.7,950.6 877.2,950.4 879.7,950.1 882.2,949.7 884.7,949.3 887.2,948.9 889.7,948.6 892.2,948.3 894.7,948.1 897.2,947.9 899.7,948.0 902.2,948.1" stroke="#b02c30" stroke-width="0.9"/>
<polyline points="487.2,936.5 489.7,936.3 492.2,936.2 494.7,936.1 497.2,936.2 499.7,936.4 502.2,936.7 504.7,937.0 507.2,937.5 509.7,937.9 512.2,938.5 514.7,939.0 517.2,939.6 519.7,940.1 522.2,940.6 524.7,941.0 527.2,941.3 529.7,941.6 532.2,941.7 534.7,941.8 537.2,941.8 539.7,941.6 542.2,941.4 544.7,941.1 547.2,940.8 549.7,940.4 552.2,940.1 554.7,939.7 557.2,939.3 559.7,939.0 562.2,938.7 564.7,938.5 567.2,938.4 569.7,938.3 572.2,938.1 574.7,937.8 577.2,937.4 579.7,937.2 582.2,937.3 584.7,938.0 587.2,939.0 589.7,940.2 592.2,941.2 594.7,942.0 597.2,942.5 599.7,943.0 602.2,943.3 604.7,943.5 607.2,943.7 609.7,943.7 612.2,943.7 614.7,943.5 617.2,943.4 619.7,943.1 622.2,942.8 624.7,942.5 627.2,942.1 629.7,941.8 632.2,941.5 634.7,941.2 637.2,941.0 639.7,940.8 642.2,940.8 644.7,940.8 647.2,940.9 649.7,941.1 652.2,941.3 654.7,941.7 657.2,942.2 659.7,942.8 662.2,943.6 664.7,944.4 667.2,945.1 669.7,945.5 672.2,945.6 674.7,945.6 677.2,945.6 679.7,945.6 682.2,945.6 684.7,945.6 687.2,945.6 689.7,945.5 692.2,945.3 694.7,945.1 697.2,944.8 699.7,944.5 702.2,944.2 704.7,943.9 707.2,943.7 709.7,943.4 712.2,943.3 714.7,943.1 717.2,943.1 719.7,943.1 722.2,943.2 724.7,943.4 727.2,943.6 729.7,943.9 732.2,944.3 734.7,944.7 737.2,945.1 739.7,945.5 742.2,945.9 744.7,946.3 747.2,946.7 749.7,947.0 752.2,947.2 754.7,947.4 757.2,947.5 759.7,947.5 762.2,947.5 764.7,947.4 767.2,947.2 769.7,947.0 772.2,946.8 774.7,946.6 777.2,946.3 779.7,946.1 782.2,945.8 784.7,945.7 787.2,945.5 789.7,945.4 792.2,945.4 794.7,945.5 797.2,945.6 799.7,945.7 802.2,946.0 804.7,946.2 807.2,946.6 809.7,946.9 812.2,947.3 814.7,947.7 817.2,948.0 819.7,948.4 822.2,948.7 824.7,948.9 827.2,949.1 829.7,949.3 832.2,949.4 834.7,949.4 837.2,949.4 839.7,949.3 842.2,949.2 844.7,949.0 847.2,948.8 849.7,948.6 852.2,948.4 854.7,948.2 857.2,948.0 859.7,947.9 862.2,947.8 864.7,947.7 867.2,947.7 869.7,947.8 872.2,947.9 874.7,948.1 877.2,948.3 879.7,948.5 882.2,948.8 884.7,949.1 887.2,949.5 889.7,949.8 892.2,950.1 894.7,950.4 897.2,950.7 899.7,950.9 902.2,951.1" stroke="#b02c30" stroke-width="0.9"/>
<polyline points="487.2,937.5 489.7,937.8 492.2,938.1 494.7,938.3 497.2,938.4 499.7,938.5 502.2,938.6 504.7,938.5 507.2,938.5 509.7,938.3 512.2,938.1 514.7,937.9 517.2,937.7 519.7,937.5 522.2,937.3 524.7,937.1 527.2,937.0 529.7,936.9 532.2,936.8 534.7,936.9 537.2,936.9 539.7,937.1 542.2,937.3 544.7,937.5 547.2,937.8 549.7,938.1 552.2,938.5 554.7,938.9 557.2,939.2 559.7,939.6 562.2,939.9 564.7,940.2 567.2,940.4 569.7,940.7 572.2,941.2 574.7,942.1 577.2,943.3 579.7,943.8 582.2,943.1 584.7,941.8 587.2,940.8 589.7,940.3 592.2,940.0 594.7,939.8 597.2,939.6 599.7,939.5 602.2,939.4 604.7,939.3 607.2,939.3 609.7,939.4 612.2,939.5 614.7,939.6 617.2,939.9 619.7,940.1 622.2,940.4 624.7,940.7 627.2,941.0 629.7,941.4 632.2,941.7 634.7,942.0 637.2,942.3 639.7,942.6 642.2,942.9 644.7,943.3 647.2,944.0 649.7,945.1 652.2,946.6 654.7,948.1 657.2,948.9 659.7,948.6 662.2,947.2 664.7,945.5 667.2,943.9 669.7,942.9 672.2,942.3 674.7,942.0 677.2,941.9 679.7,941.8 682.2,941.8 684.7,941.9 687.2,942.0 689.7,942.2 692.2,942.4 694.7,942.7 697.2,943.0 699.7,943.3 702.2,943.6 704.7,943.9 707.2,944.2 709.7,944.4 712.2,944.7 714.7,944.9 717.2,945.1 719.7,945.2 722.2,945.3 724.7,945.3 727.2,945.3 729.7,945.2 732.2,945.1 734.7,945.0 737.2,944.9 739.7,944.8 742.2,944.6 744.7,944.5 747.2,944.4 749.7,944.3 752.2,944.3 754.7,944.3 757.2,944.4 759.7,944.5 762.2,944.6 764.7,944.8 767.2,945.0 769.7,945.2 772.2,945.5 774.7,945.8 777.2,946.1 779.7,946.3 782.2,946.6 784.7,946.8 787.2,947.0 789.7,947.2 792.2,947.4 794.7,947.5 797.2,947.5 799.7,947.5 802.2,947.5 804.7,947.5 807.2,947.4 809.7,947.3 812.2,947.2 814.7,947.1 817.2,947.0 819.7,946.9 822.2,946.8 824.7,946.8 827.2,946.8 829.7,946.8 832.2,946.9 834.7,947.0 837.2,947.1 839.7,947.3 842.2,947.5 844.7,947.8 847.2,948.0 849.7,948.3 852.2,948.5 854.7,948.8 857.2,949.0 859.7,949.2 862.2,949.4 864.7,949.5 867.2,949.6 869.7,949.7 872.2,949.8 874.7,949.8 877.2,949.8 879.7,949.7 882.2,949.7 884.7,949.6 887.2,949.5 889.7,949.4 892.2,949.4 894.7,949.3 897.2,949.3 899.7,949.3 902.2,949.3" stroke="#b02c30" stroke-width="0.9"/>
<polyline points="487.2,936.2 489.7,935.8 492.2,935.4 494.7,935.1 497.2,934.9 499.7,934.7 502.2,934.7 504.7,934.8 507.2,935.0 509.7,935.3 512.2,935.7 514.7,936.2 517.2,936.7 519.7,937.3 522.2,937.9 524.7,938.5 527.2,939.0 529.7,939.5 532.2,939.9 534.7,940.3 537.2,940.5 539.7,940.6 542.2,940.6 544.7,940.6 547.2,940.4 549.7,940.1 552.2,939.9 554.7,939.7 557.2,939.7 559.7,939.8 562.2,940.0 564.7,939.8 567.2,939.3 569.7,938.5 572.2,937.9 574.7,937.5 577.2,937.4 579.7,937.5 582.2,937.8 584.7,938.2 587.2,938.6 589.7,939.1 592.2,939.7 594.7,940.2 597.2,940.7 599.7,941.2 602.2,941.7 604.7,942.1 607.2,942.4 609.7,942.6 612.2,942.7 614.7,942.8 617.2,942.7 619.7,942.5 622.2,942.3 624.7,942.0 627.2,941.7 629.7,941.4 632.2,941.1 634.7,940.9 637.2,940.9 639.7,941.2 642.2,941.8 644.7,942.3 647.2,942.5 649.7,942.4 652.2,942.0 654.7,941.5 657.2,941.3 659.7,941.3 662.2,941.6 664.7,942.0 667.2,942.5 669.7,943.0 672.2,943.5 674.7,943.9 677.2,944.2 679.7,944.5 682.2,944.7 684.7,944.9 687.2,944.9 689.7,944.8 692.2,944.7 694.7,944.5 697.2,944.3 699.7,944.0 702.2,943.7 704.7,943.3 707.2,943.0 709.7,942.8 712.2,942.6 714.7,942.4 717.2,942.3 719.7,942.4 722.2,942.4 724.7,942.6 727.2,942.8 729.7,943.2 732.2,943.5 734.7,943.9 737.2,944.4 739.7,944.8 742.2,945.3 744.7,945.7 747.2,946.1 749.7,946.4 752.2,946.7 754.7,946.9 757.2,947.0 759.7,947.0 762.2,947.0 764.7,946.9 767.2,946.7 769.7,946.5 772.2,946.2 774.7,946.0 777.2,945.7 779.7,945.5 782.2,945.2 784.7,945.1 787.2,944.9 789.7,944.9 792.2,944.9 794.7,945.0 797.2,945.1 799.7,945.4 802.2,945.7 804.7,946.0 807.2,946.4 809.7,946.8 812.2,947.2 814.7,947.6 817.2,947.9 819.7,948.3 822.2,948.6 824.7,948.8 827.2,949.0 829.7,949.1 832.2,949.1 834.7,949.1 837.2,949.0 839.7,948.9 842.2,948.7 844.7,948.5 847.2,948.3 849.7,948.1 852.2,947.9 854.7,947.7 857.2,947.6 859.7,947.5 862.2,947.4 864.7,947.4 867.2,947.5 869.7,947.7 872.2,947.9 874.7,948.1 877.2,948.4 879.7,948.8 882.2,949.1 884.7,949.5 887.2,949.8 889.7,950.2 892.2,950.5 894.7,950.7 897.2,951.0 899.7,951.1 902.2,951.2" stroke="#b02c30" stroke-width="0.9"/>
<polyline points="487.2,924.9 488.7,924.4 490.2,923.8 491.7,923.3 493.2,922.9 494.7,922.4 496.2,922.0 497.7,921.7 499.2,921.3 500.7,921.0 502.2,920.7 503.7,920.5 505.2,920.2 506.7,920.0 508.2,919.8 509.7,919.6 511.2,919.4 512.7,919.2 514.2,919.1 515.7,918.9 517.2,918.8 518.7,918.6 520.2,918.5 521.7,918.4 523.2,918.3 524.7,918.2 526.2,918.1 527.7,917.9 529.2,917.8 530.7,917.8 532.2,917.7 533.7,917.6 535.2,917.5 536.7,917.4 538.2,917.3 539.7,917.2 541.2,917.1 542.7,917.0 544.2,916.9 545.7,916.9 547.2,916.8 548.7,916.7 550.2,916.6 551.7,916.5 553.2,916.4 554.7,916.3 556.2,916.2 557.7,916.2 559.2,916.1 560.7,916.0 562.2,915.9 563.7,915.8 565.2,915.7 566.7,915.6 568.2,915.5 569.7,915.4 571.2,915.3 572.7,915.2 574.2,915.1 575.7,915.0 577.2,914.9 578.7,914.8 580.2,914.7 581.7,914.6 583.2,914.5 584.7,914.5 586.2,914.4 587.7,914.3 589.2,914.2 590.7,914.1 592.2,914.0 593.7,913.9 595.2,913.8 596.7,913.7 598.2,913.6 599.7,913.5 601.2,913.4 602.7,913.3 604.2,913.3 605.7,913.2 607.2,913.1 608.7,913.0 610.2,912.9 611.7,912.8 613.2,912.8 614.7,912.7 616.2,912.6 617.7,912.6 619.2,912.5 620.7,912.4 622.2,912.4 623.7,912.3 625.2,912.2 626.7,912.2 628.2,912.1 629.7,912.1 631.2,912.0 632.7,911.9 634.2,911.9 635.7,911.8 637.2,911.8 638.7,911.8 640.2,911.7 641.7,911.7 643.2,911.6 644.7,911.6 646.2,911.5 647.7,911.5 649.2,911.5 650.7,911.4 652.2,911.4 653.7,911.4 655.2,911.3 656.7,911.3 658.2,911.3 659.7,911.2 661.2,911.2 662.7,911.2 664.2,911.1 665.7,911.1 667.2,911.1 668.7,911.0 670.2,911.0 671.7,911.0 673.2,910.9 674.7,910.9 676.2,910.8 677.7,910.8 679.2,910.7 680.7,910.7 682.2,910.6 683.7,910.6 685.2,910.5 686.7,910.4 688.2,910.3 689.7,910.3 691.2,910.2 692.7,910.1 694.2,910.0 695.7,909.9 697.2,909.8 698.7,909.6 700.2,909.5 701.7,909.4 703.2,909.2 704.7,909.1 706.2,908.9 707.7,908.7 709.2,908.5 710.7,908.3 712.2,908.1 713.7,907.9 715.2,907.6 716.7,907.4 718.2,907.1 719.7,906.8 721.2,906.5 722.7,906.2 724.2,905.9 725.7,905.5 727.2,905.2 728.7,904.8 730.2,904.3 731.7,903.9 733.2,903.4 734.7,903.0 736.2,902.4 737.7,901.9 739.2,901.3 740.7,900.7 742.2,900.0 743.7,899.3 745.2,898.4 746.7,897.5 748.2,896.5 749.7,895.3 751.2,894.0 752.7,892.4 754.2,890.6 755.7,888.5 757.2,886.0 758.7,883.0 760.2,879.6 761.7,875.5 763.2,870.9 764.7,865.6 766.2,859.5 767.7,852.8 769.2,845.3 770.7,837.2 772.2,828.5 773.7,819.4 775.2,809.9 776.7,800.3 778.2,790.8 779.7,781.6 781.2,773.0 782.7,765.1 784.2,758.1 785.7,752.4 787.2,747.9 788.7,744.7 790.2,747.1 791.7,752.5 793.2,760.4 794.7,770.4 796.2,782.1 797.7,795.3 799.2,809.2 800.7,823.6 802.2,838.0 803.7,851.9 805.2,865.1 806.7,877.4 808.2,888.6 809.7,898.6 811.2,907.3 812.7,914.9 814.2,921.3 815.7,926.7 817.2,931.1 818.7,934.8 820.2,937.7 821.7,940.1 823.2,942.0 824.7,943.5 826.2,944.7 827.7,945.6 829.2,946.3 830.7,946.9 832.2,947.4 833.7,947.8 835.2,948.1 836.7,948.4 838.2,948.7 839.7,949.0 841.2,949.2 842.7,949.5 844.2,949.7 845.7,949.9 847.2,950.1 848.7,950.3 850.2,950.5 851.7,950.7 853.2,950.9 854.7,951.0 856.2,951.2 857.7,951.3 859.2,951.4 860.7,951.5 862.2,951.6 863.7,951.6 865.2,951.7 866.7,951.7 868.2,951.7 869.7,951.7 871.2,951.7 872.7,951.6 874.2,951.6 875.7,951.5 877.2,951.5 878.7,951.4 880.2,951.4 881.7,951.3 883.2,951.3 884.7,951.3 886.2,951.3 887.7,951.2 889.2,951.2 890.7,951.2 892.2,951.3 893.7,951.3 895.2,951.4 896.7,951.4 898.2,951.5 899.7,951.6 901.2,951.7 902.7,951.7" stroke="#1c1cd0" stroke-width="1.2"/>
<polyline points="487.2,924.2 488.7,923.6 490.2,923.1 491.7,922.6 493.2,922.1 494.7,921.6 496.2,921.2 497.7,920.8 499.2,920.5 500.7,920.1 502.2,919.8 503.7,919.6 505.2,919.3 506.7,919.0 508.2,918.8 509.7,918.6 511.2,918.4 512.7,918.2 514.2,918.0 515.7,917.8 517.2,917.6 518.7,917.5 520.2,917.3 521.7,917.2 523.2,917.0 524.7,916.9 526.2,916.8 527.7,916.7 529.2,916.5 530.7,916.4 532.2,916.3 533.7,916.2 535.2,916.1 536.7,916.0 538.2,915.9 539.7,915.8 541.2,915.7 542.7,915.6 544.2,915.5 545.7,915.4 547.2,915.2 548.7,915.1 550.2,915.0 551.7,915.0 553.2,914.9 554.7,914.8 556.2,914.7 557.7,914.6 559.2,914.5 560.7,914.4 562.2,914.3 563.7,914.2 565.2,914.1 566.7,914.0 568.2,913.9 569.7,913.8 571.2,913.7 572.7,913.6 574.2,913.5 575.7,913.4 577.2,913.3 578.7,913.2 580.2,913.2 581.7,913.1 583.2,913.0 584.7,912.9 586.2,912.8 587.7,912.7 589.2,912.7 590.7,912.6 592.2,912.5 593.7,912.4 595.2,912.4 596.7,912.3 598.2,912.2 599.7,912.2 601.2,912.1 602.7,912.0 604.2,912.0 605.7,911.9 607.2,911.9 608.7,911.8 610.2,911.8 611.7,911.7 613.2,911.7 614.7,911.6 616.2,911.6 617.7,911.6 619.2,911.5 620.7,911.5 622.2,911.5 623.7,911.5 625.2,911.4 626.7,911.4 628.2,911.4 629.7,911.4 631.2,911.4 632.7,911.4 634.2,911.4 635.7,911.4 637.2,911.4 638.7,911.4 640.2,911.4 641.7,911.4 643.2,911.4 644.7,911.4 646.2,911.4 647.7,911.4 649.2,911.5 650.7,911.5 652.2,911.5 653.7,911.5 655.2,911.5 656.7,911.6 658.2,911.6 659.7,911.6 661.2,911.6 662.7,911.7 664.2,911.7 665.7,911.7 667.2,911.7 668.7,911.8 670.2,911.8 671.7,911.8 673.2,911.8 674.7,911.9 676.2,911.9 677.7,911.9 679.2,911.9 680.7,911.9 682.2,911.9 683.7,911.9 685.2,911.9 686.7,911.9 688.2,911.9 689.7,911.9 691.2,911.9 692.7,911.9 694.2,911.8 695.7,911.8 697.2,911.8 698.7,911.7 700.2,911.7 701.7,911.6 703.2,911.5 704.7,911.5 706.2,911.4 707.7,911.3 709.2,911.2 710.7,911.1 712.2,910.9 713.7,910.8 715.2,910.6 716.7,910.5 718.2,910.3 719.7,910.1 721.2,909.9 722.7,909.7 724.2,909.4 725.7,909.2 727.2,908.9 728.7,908.6 730.2,908.3 731.7,908.0 733.2,907.6 734.7,907.2 736.2,906.8 737.7,906.4 739.2,906.0 740.7,905.5 742.2,905.0 743.7,904.4 745.2,903.8 746.7,903.2 748.2,902.4 749.7,901.6 751.2,900.7 752.7,899.7 754.2,898.5 755.7,897.1 757.2,895.4 758.7,893.5 760.2,891.1 761.7,888.2 763.2,884.9 764.7,880.8 766.2,876.1 767.7,870.7 769.2,864.4 770.7,857.3 772.2,849.4 773.7,840.7 775.2,831.5 776.7,821.8 778.2,811.8 779.7,801.8 781.2,792.0 782.7,782.8 784.2,774.4 785.7,767.1 787.2,761.1 788.7,756.5 790.2,754.4 791.7,758.3 793.2,765.4 794.7,775.4 796.2,787.8 797.7,802.0 799.2,817.3 800.7,833.1 802.2,848.8 803.7,863.8 805.2,877.8 806.7,890.4 808.2,901.4 809.7,910.9 811.2,918.8 812.7,925.4 814.2,930.6 815.7,934.7 817.2,937.9 818.7,940.4 820.2,942.3 821.7,943.7 823.2,944.8 824.7,945.6 826.2,946.3 827.7,946.8 829.2,947.3 830.7,947.7 832.2,948.1 833.7,948.4 835.2,948.7 836.7,949.0 838.2,949.3 839.7,949.5 841.2,949.8 842.7,950.0 844.2,950.2 845.7,950.4 847.2,950.6 848.7,950.8 850.2,950.9 851.7,951.0 853.2,951.1 854.7,951.2 856.2,951.3 857.7,951.3 859.2,951.4 860.7,951.4 862.2,951.4 863.7,951.4 865.2,951.3 866.7,951.3 868.2,951.3 869.7,951.2 871.2,951.2 872.7,951.2 874.2,951.1 875.7,951.1 877.2,951.1 878.7,951.1 880.2,951.1 881.7,951.1 883.2,951.2 884.7,951.2 886.2,951.3 887.7,951.3 889.2,951.4 890.7,951.5 892.2,951.6 893.7,951.7 895.2,951.8 896.7,951.9 898.2,952.0 899.7,952.0 901.2,952.1 902.7,952.2" stroke="#2a2ad8" stroke-width="1.2"/>
<polyline points="487.2,927.4 488.7,926.8 490.2,926.2 491.7,925.6 493.2,925.1 494.7,924.6 496.2,924.2 497.7,923.8 499.2,923.4 500.7,923.0 502.2,922.7 503.7,922.4 505.2,922.1 506.7,921.8 508.2,921.5 509.7,921.3 511.2,921.0 512.7,920.8 514.2,920.6 515.7,920.4 517.2,920.2 518.7,920.0 520.2,919.8 521.7,919.6 523.2,919.5 524.7,919.3 526.2,919.1 527.7,919.0 529.2,918.8 530.7,918.7 532.2,918.5 533.7,918.4 535.2,918.2 536.7,918.1 538.2,918.0 539.7,917.8 541.2,917.7 542.7,917.6 544.2,917.4 545.7,917.3 547.2,917.2 548.7,917.0 550.2,916.9 551.7,916.8 553.2,916.7 554.7,916.5 556.2,916.4 557.7,916.3 559.2,916.2 560.7,916.0 562.2,915.9 563.7,915.8 565.2,915.7 566.7,915.6 568.2,915.4 569.7,915.3 571.2,915.2 572.7,915.1 574.2,915.0 575.7,914.9 577.2,914.8 578.7,914.6 580.2,914.5 581.7,914.4 583.2,914.3 584.7,914.2 586.2,914.1 587.7,914.0 589.2,913.9 590.7,913.8 592.2,913.7 593.7,913.6 595.2,913.5 596.7,913.4 598.2,913.3 599.7,913.2 601.2,913.1 602.7,913.1 604.2,913.0 605.7,912.9 607.2,912.8 608.7,912.7 610.2,912.7 611.7,912.6 613.2,912.5 614.7,912.4 616.2,912.4 617.7,912.3 619.2,912.2 620.7,912.1 622.2,912.1 623.7,912.0 625.2,911.9 626.7,911.9 628.2,911.8 629.7,911.7 631.2,911.7 632.7,911.6 634.2,911.6 635.7,911.5 637.2,911.4 638.7,911.4 640.2,911.3 641.7,911.2 643.2,911.2 644.7,911.1 646.2,911.1 647.7,911.0 649.2,910.9 650.7,910.8 652.2,910.8 653.7,910.7 655.2,910.6 656.7,910.5 658.2,910.5 659.7,910.4 661.2,910.3 662.7,910.2 664.2,910.1 665.7,910.0 667.2,909.9 668.7,909.8 670.2,909.7 671.7,909.6 673.2,909.4 674.7,909.3 676.2,909.2 677.7,909.0 679.2,908.9 680.7,908.7 682.2,908.6 683.7,908.4 685.2,908.2 686.7,908.0 688.2,907.8 689.7,907.6 691.2,907.4 692.7,907.2 694.2,906.9 695.7,906.7 697.2,906.4 698.7,906.1 700.2,905.9 701.7,905.6 703.2,905.3 704.7,904.9 706.2,904.6 707.7,904.3 709.2,903.9 710.7,903.5 712.2,903.1 713.7,902.7 715.2,902.3 716.7,901.8 718.2,901.4 719.7,900.9 721.2,900.4 722.7,899.9 724.2,899.4 725.7,898.8 727.2,898.3 728.7,897.7 730.2,897.0 731.7,896.4 733.2,895.8 734.7,895.1 736.2,894.4 737.7,893.6 739.2,892.9 740.7,892.1 742.2,891.3 743.7,890.5 745.2,889.6 746.7,888.7 748.2,887.8 749.7,886.9 751.2,885.9 752.7,884.8 754.2,883.7 755.7,882.6 757.2,881.3 758.7,879.9 760.2,878.4 761.7,876.6 763.2,874.5 764.7,872.0 766.2,869.1 767.7,865.5 769.2,861.3 770.7,856.3 772.2,850.4 773.7,843.6 775.2,835.9 776.7,827.4 778.2,818.2 779.7,808.7 781.2,799.1 782.7,789.7 784.2,781.1 785.7,773.5 787.2,767.3 788.7,762.7 790.2,760.7 791.7,764.0 793.2,769.5 794.7,777.2 796.2,786.7 797.7,797.8 799.2,809.9 800.7,822.6 802.2,835.6 803.7,848.5 805.2,861.0 806.7,872.7 808.2,883.7 809.7,893.6 811.2,902.5 812.7,910.3 814.2,917.1 815.7,923.0 817.2,927.9 818.7,932.0 820.2,935.5 821.7,938.3 823.2,940.6 824.7,942.5 826.2,944.1 827.7,945.3 829.2,946.3 830.7,947.2 832.2,947.8 833.7,948.4 835.2,948.9 836.7,949.3 838.2,949.6 839.7,949.9 841.2,950.1 842.7,950.3 844.2,950.5 845.7,950.6 847.2,950.7 848.7,950.8 850.2,950.9 851.7,950.9 853.2,951.0 854.7,951.0 856.2,951.0 857.7,951.0 859.2,951.0 860.7,950.9 862.2,950.9 863.7,950.9 865.2,950.9 866.7,950.9 868.2,950.9 869.7,950.9 871.2,950.9 872.7,951.0 874.2,951.0 875.7,951.1 877.2,951.1 878.7,951.2 880.2,951.3 881.7,951.4 883.2,951.5 884.7,951.6 886.2,951.7 887.7,951.8 889.2,951.9 890.7,952.0 892.2,952.1 893.7,952.1 895.2,952.2 896.7,952.3 898.2,952.3 899.7,952.3 901.2,952.4 902.7,952.4" stroke="#2a2ad8" stroke-width="1.2"/>
<polyline points="487.2,926.7 488.7,926.1 490.2,925.5 491.7,924.9 493.2,924.4 494.7,923.9 496.2,923.4 497.7,923.0 499.2,922.6 500.7,922.2 502.2,921.9 503.7,921.5 505.2,921.2 506.7,920.9 508.2,920.6 509.7,920.4 511.2,920.1 512.7,919.9 514.2,919.6 515.7,919.4 517.2,919.2 518.7,919.0 520.2,918.8 521.7,918.6 523.2,918.4 524.7,918.3 526.2,918.1 527.7,917.9 529.2,917.8 530.7,917.6 532.2,917.5 533.7,917.3 535.2,917.2 536.7,917.1 538.2,916.9 539.7,916.8 541.2,916.7 542.7,916.6 544.2,916.4 545.7,916.3 547.2,916.2 548.7,916.1 550.2,916.0 551.7,915.9 553.2,915.8 554.7,915.7 556.2,915.6 557.7,915.5 559.2,915.4 560.7,915.3 562.2,915.2 563.7,915.1 565.2,915.0 566.7,914.9 568.2,914.8 569.7,914.7 571.2,914.7 572.7,914.6 574.2,914.5 575.7,914.5 577.2,914.4 578.7,914.3 580.2,914.3 581.7,914.2 583.2,914.1 584.7,914.1 586.2,914.0 587.7,914.0 589.2,914.0 590.7,913.9 592.2,913.9 593.7,913.9 595.2,913.8 596.7,913.8 598.2,913.8 599.7,913.8 601.2,913.7 602.7,913.7 604.2,913.7 605.7,913.7 607.2,913.7 608.7,913.7 610.2,913.7 611.7,913.7 613.2,913.7 614.7,913.7 616.2,913.8 617.7,913.8 619.2,913.8 620.7,913.8 622.2,913.8 623.7,913.9 625.2,913.9 626.7,913.9 628.2,914.0 629.7,914.0 631.2,914.1 632.7,914.1 634.2,914.2 635.7,914.2 637.2,914.3 638.7,914.3 640.2,914.4 641.7,914.4 643.2,914.5 644.7,914.6 646.2,914.6 647.7,914.7 649.2,914.7 650.7,914.8 652.2,914.9 653.7,914.9 655.2,915.0 656.7,915.1 658.2,915.1 659.7,915.2 661.2,915.3 662.7,915.3 664.2,915.4 665.7,915.4 667.2,915.5 668.7,915.6 670.2,915.6 671.7,915.7 673.2,915.7 674.7,915.8 676.2,915.8 677.7,915.9 679.2,915.9 680.7,916.0 682.2,916.0 683.7,916.0 685.2,916.1 686.7,916.1 688.2,916.1 689.7,916.1 691.2,916.1 692.7,916.2 694.2,916.2 695.7,916.2 697.2,916.1 698.7,916.1 700.2,916.1 701.7,916.1 703.2,916.0 704.7,916.0 706.2,916.0 707.7,915.9 709.2,915.8 710.7,915.8 712.2,915.7 713.7,915.6 715.2,915.5 716.7,915.4 718.2,915.3 719.7,915.1 721.2,915.0 722.7,914.9 724.2,914.7 725.7,914.5 727.2,914.3 728.7,914.1 730.2,913.9 731.7,913.7 733.2,913.4 734.7,913.2 736.2,912.9 737.7,912.6 739.2,912.3 740.7,911.9 742.2,911.5 743.7,911.1 745.2,910.6 746.7,910.0 748.2,909.3 749.7,908.6 751.2,907.7 752.7,906.6 754.2,905.3 755.7,903.7 757.2,901.7 758.7,899.4 760.2,896.6 761.7,893.2 763.2,889.2 764.7,884.5 766.2,879.1 767.7,872.9 769.2,865.9 770.7,858.1 772.2,849.7 773.7,840.7 775.2,831.2 776.7,821.5 778.2,811.7 779.7,802.2 781.2,793.1 782.7,784.7 784.2,777.3 785.7,771.0 787.2,766.2 788.7,762.8 790.2,762.8 791.7,766.5 793.2,772.3 794.7,779.9 796.2,789.1 797.7,799.6 799.2,811.0 800.7,823.0 802.2,835.1 803.7,847.2 805.2,858.9 806.7,870.0 808.2,880.4 809.7,890.0 811.2,898.7 812.7,906.5 814.2,913.4 815.7,919.5 817.2,924.7 818.7,929.2 820.2,933.0 821.7,936.3 823.2,939.0 824.7,941.2 826.2,943.1 827.7,944.6 829.2,945.9 830.7,946.9 832.2,947.7 833.7,948.3 835.2,948.8 836.7,949.3 838.2,949.6 839.7,949.8 841.2,950.0 842.7,950.2 844.2,950.3 845.7,950.4 847.2,950.4 848.7,950.5 850.2,950.5 851.7,950.5 853.2,950.5 854.7,950.5 856.2,950.6 857.7,950.6 859.2,950.6 860.7,950.6 862.2,950.7 863.7,950.7 865.2,950.8 866.7,950.8 868.2,950.9 869.7,951.0 871.2,951.1 872.7,951.2 874.2,951.3 875.7,951.4 877.2,951.5 878.7,951.7 880.2,951.8 881.7,951.9 883.2,952.0 884.7,952.0 886.2,952.1 887.7,952.2 889.2,952.2 890.7,952.3 892.2,952.3 893.7,952.3 895.2,952.3 896.7,952.3 898.2,952.2 899.7,952.2 901.2,952.1 902.7,952.0" stroke="#2a2ad8" stroke-width="1.2"/>
<polyline points="487.2,924.4 488.7,923.7 490.2,923.1 491.7,922.5 493.2,921.9 494.7,921.4 496.2,920.9 497.7,920.5 499.2,920.0 500.7,919.6 502.2,919.2 503.7,918.9 505.2,918.5 506.7,918.2 508.2,917.9 509.7,917.6 511.2,917.3 512.7,917.1 514.2,916.8 515.7,916.6 517.2,916.3 518.7,916.1 520.2,915.9 521.7,915.7 523.2,915.5 524.7,915.3 526.2,915.1 527.7,915.0 529.2,914.8 530.7,914.6 532.2,914.5 533.7,914.3 535.2,914.2 536.7,914.0 538.2,913.9 539.7,913.7 541.2,913.6 542.7,913.5 544.2,913.3 545.7,913.2 547.2,913.1 548.7,913.0 550.2,912.8 551.7,912.7 553.2,912.6 554.7,912.5 556.2,912.4 557.7,912.3 559.2,912.2 560.7,912.1 562.2,912.0 563.7,911.9 565.2,911.8 566.7,911.8 568.2,911.7 569.7,911.6 571.2,911.5 572.7,911.4 574.2,911.4 575.7,911.3 577.2,911.2 578.7,911.2 580.2,911.1 581.7,911.1 583.2,911.0 584.7,911.0 586.2,910.9 587.7,910.9 589.2,910.8 590.7,910.8 592.2,910.8 593.7,910.7 595.2,910.7 596.7,910.7 598.2,910.6 599.7,910.6 601.2,910.6 602.7,910.6 604.2,910.6 605.7,910.6 607.2,910.5 608.7,910.5 610.2,910.5 611.7,910.5 613.2,910.5 614.7,910.5 616.2,910.5 617.7,910.5 619.2,910.5 620.7,910.5 622.2,910.6 623.7,910.6 625.2,910.6 626.7,910.6 628.2,910.6 629.7,910.6 631.2,910.6 632.7,910.6 634.2,910.6 635.7,910.6 637.2,910.7 638.7,910.7 640.2,910.7 641.7,910.7 643.2,910.7 644.7,910.7 646.2,910.7 647.7,910.7 649.2,910.7 650.7,910.7 652.2,910.7 653.7,910.7 655.2,910.7 656.7,910.7 658.2,910.6 659.7,910.6 661.2,910.6 662.7,910.6 664.2,910.5 665.7,910.5 667.2,910.5 668.7,910.4 670.2,910.4 671.7,910.3 673.2,910.3 674.7,910.2 676.2,910.1 677.7,910.0 679.2,909.9 680.7,909.9 682.2,909.8 683.7,909.6 685.2,909.5 686.7,909.4 688.2,909.3 689.7,909.1 691.2,909.0 692.7,908.8 694.2,908.7 695.7,908.5 697.2,908.3 698.7,908.1 700.2,907.9 701.7,907.7 703.2,907.4 704.7,907.2 706.2,907.0 707.7,906.7 709.2,906.4 710.7,906.1 712.2,905.8 713.7,905.5 715.2,905.2 716.7,904.9 718.2,904.5 719.7,904.2 721.2,903.8 722.7,903.4 724.2,903.0 725.7,902.5 727.2,902.1 728.7,901.7 730.2,901.2 731.7,900.7 733.2,900.2 734.7,899.7 736.2,899.1 737.7,898.6 739.2,898.0 740.7,897.4 742.2,896.7 743.7,896.1 745.2,895.4 746.7,894.6 748.2,893.8 749.7,893.0 751.2,892.0 752.7,891.0 754.2,889.7 755.7,888.3 757.2,886.6 758.7,884.6 760.2,882.3 761.7,879.4 763.2,876.0 764.7,872.0 766.2,867.3 767.7,861.9 769.2,855.7 770.7,848.7 772.2,841.2 773.7,833.0 775.2,824.5 776.7,815.7 778.2,807.1 779.7,798.8 781.2,791.1 782.7,784.3 784.2,778.7 785.7,774.5 787.2,771.8 788.7,773.0 790.2,777.3 791.7,783.8 793.2,792.2 794.7,802.2 796.2,813.4 797.7,825.5 799.2,837.9 800.7,850.3 802.2,862.5 803.7,874.0 805.2,884.8 806.7,894.7 808.2,903.5 809.7,911.4 811.2,918.2 812.7,924.0 814.2,929.0 815.7,933.2 817.2,936.6 818.7,939.4 820.2,941.7 821.7,943.6 823.2,945.1 824.7,946.2 826.2,947.2 827.7,947.9 829.2,948.4 830.7,948.9 832.2,949.2 833.7,949.5 835.2,949.7 836.7,949.8 838.2,949.9 839.7,950.0 841.2,950.1 842.7,950.1 844.2,950.2 845.7,950.2 847.2,950.2 848.7,950.3 850.2,950.3 851.7,950.4 853.2,950.4 854.7,950.5 856.2,950.6 857.7,950.7 859.2,950.7 860.7,950.8 862.2,951.0 863.7,951.1 865.2,951.2 866.7,951.3 868.2,951.4 869.7,951.5 871.2,951.7 872.7,951.8 874.2,951.9 875.7,952.0 877.2,952.0 878.7,952.1 880.2,952.2 881.7,952.2 883.2,952.2 884.7,952.2 886.2,952.2 887.7,952.2 889.2,952.2 890.7,952.1 892.2,952.1 893.7,952.0 895.2,951.9 896.7,951.9 898.2,951.8 899.7,951.7 901.2,951.7 902.7,951.6" stroke="#2828c8" stroke-width="1.2"/>
<polyline points="487.2,918.9 488.7,918.2 490.2,917.6 491.7,917.0 493.2,916.4 494.7,915.8 496.2,915.3 497.7,914.9 499.2,914.4 500.7,914.0 502.2,913.6 503.7,913.2 505.2,912.9 506.7,912.5 508.2,912.2 509.7,911.9 511.2,911.6 512.7,911.4 514.2,911.1 515.7,910.9 517.2,910.6 518.7,910.4 520.2,910.2 521.7,910.0 523.2,909.8 524.7,909.6 526.2,909.4 527.7,909.2 529.2,909.1 530.7,908.9 532.2,908.7 533.7,908.6 535.2,908.5 536.7,908.3 538.2,908.2 539.7,908.1 541.2,907.9 542.7,907.8 544.2,907.7 545.7,907.6 547.2,907.5 548.7,907.4 550.2,907.3 551.7,907.2 553.2,907.1 554.7,907.0 556.2,906.9 557.7,906.9 559.2,906.8 560.7,906.7 562.2,906.6 563.7,906.6 565.2,906.5 566.7,906.5 568.2,906.4 569.7,906.4 571.2,906.3 572.7,906.3 574.2,906.2 575.7,906.2 577.2,906.2 578.7,906.2 580.2,906.1 581.7,906.1 583.2,906.1 584.7,906.1 586.2,906.1 587.7,906.1 589.2,906.1 590.7,906.1 592.2,906.1 593.7,906.1 595.2,906.1 596.7,906.1 598.2,906.1 599.7,906.1 601.2,906.2 602.7,906.2 604.2,906.2 605.7,906.2 607.2,906.3 608.7,906.3 610.2,906.3 611.7,906.4 613.2,906.4 614.7,906.5 616.2,906.5 617.7,906.6 619.2,906.6 620.7,906.7 622.2,906.7 623.7,906.8 625.2,906.8 626.7,906.9 628.2,906.9 629.7,907.0 631.2,907.0 632.7,907.1 634.2,907.1 635.7,907.2 637.2,907.2 638.7,907.3 640.2,907.3 641.7,907.4 643.2,907.4 644.7,907.5 646.2,907.5 647.7,907.5 649.2,907.6 650.7,907.6 652.2,907.6 653.7,907.7 655.2,907.7 656.7,907.7 658.2,907.8 659.7,907.8 661.2,907.8 662.7,907.8 664.2,907.8 665.7,907.8 667.2,907.8 668.7,907.8 670.2,907.8 671.7,907.8 673.2,907.7 674.7,907.7 676.2,907.7 677.7,907.6 679.2,907.6 680.7,907.5 682.2,907.5 683.7,907.4 685.2,907.3 686.7,907.2 688.2,907.2 689.7,907.1 691.2,907.0 692.7,906.8 694.2,906.7 695.7,906.6 697.2,906.4 698.7,906.3 700.2,906.1 701.7,905.9 703.2,905.8 704.7,905.6 706.2,905.4 707.7,905.2 709.2,904.9 710.7,904.7 712.2,904.4 713.7,904.2 715.2,903.9 716.7,903.6 718.2,903.3 719.7,903.0 721.2,902.6 722.7,902.3 724.2,901.9 725.7,901.6 727.2,901.2 728.7,900.8 730.2,900.3 731.7,899.9 733.2,899.4 734.7,898.9 736.2,898.4 737.7,897.9 739.2,897.3 740.7,896.7 742.2,896.1 743.7,895.4 745.2,894.7 746.7,894.0 748.2,893.1 749.7,892.2 751.2,891.1 752.7,889.9 754.2,888.5 755.7,886.9 757.2,884.9 758.7,882.7 760.2,880.0 761.7,876.8 763.2,873.2 764.7,868.9 766.2,864.1 767.7,858.6 769.2,852.6 770.7,845.9 772.2,838.8 773.7,831.2 775.2,823.5 776.7,815.6 778.2,807.9 779.7,800.6 781.2,793.8 782.7,787.8 784.2,782.8 785.7,778.9 787.2,776.1 788.7,777.4 790.2,781.5 791.7,787.5 793.2,795.2 794.7,804.4 796.2,814.7 797.7,825.7 799.2,837.2 800.7,848.7 802.2,860.0 803.7,870.8 805.2,881.0 806.7,890.4 808.2,899.0 809.7,906.7 811.2,913.6 812.7,919.6 814.2,924.8 815.7,929.2 817.2,933.1 818.7,936.3 820.2,938.9 821.7,941.2 823.2,943.0 824.7,944.5 826.2,945.6 827.7,946.6 829.2,947.3 830.7,947.9 832.2,948.4 833.7,948.8 835.2,949.0 836.7,949.3 838.2,949.4 839.7,949.6 841.2,949.7 842.7,949.8 844.2,950.0 845.7,950.1 847.2,950.2 848.7,950.3 850.2,950.4 851.7,950.5 853.2,950.7 854.7,950.8 856.2,950.9 857.7,951.1 859.2,951.2 860.7,951.3 862.2,951.5 863.7,951.6 865.2,951.7 866.7,951.8 868.2,951.9 869.7,952.0 871.2,952.0 872.7,952.1 874.2,952.1 875.7,952.1 877.2,952.1 878.7,952.1 880.2,952.1 881.7,952.1 883.2,952.0 884.7,951.9 886.2,951.9 887.7,951.8 889.2,951.7 890.7,951.7 892.2,951.6 893.7,951.5 895.2,951.5 896.7,951.5 898.2,951.4 899.7,951.4 901.2,951.4 902.7,951.4" stroke="#2020e0" stroke-width="1.2"/>
<polyline points="487.2,921.8 488.7,921.0 490.2,920.4 491.7,919.8 493.2,919.2 494.7,918.6 496.2,918.1 497.7,917.6 499.2,917.2 500.7,916.7 502.2,916.3 503.7,915.9 505.2,915.6 506.7,915.2 508.2,914.9 509.7,914.6 511.2,914.3 512.7,914.0 514.2,913.8 515.7,913.5 517.2,913.3 518.7,913.0 520.2,912.8 521.7,912.6 523.2,912.4 524.7,912.2 526.2,912.1 527.7,911.9 529.2,911.7 530.7,911.6 532.2,911.4 533.7,911.3 535.2,911.2 536.7,911.0 538.2,910.9 539.7,910.8 541.2,910.7 542.7,910.6 544.2,910.5 545.7,910.4 547.2,910.3 548.7,910.2 550.2,910.1 551.7,910.1 553.2,910.0 554.7,909.9 556.2,909.9 557.7,909.8 559.2,909.8 560.7,909.7 562.2,909.7 563.7,909.6 565.2,909.6 566.7,909.6 568.2,909.5 569.7,909.5 571.2,909.5 572.7,909.5 574.2,909.5 575.7,909.5 577.2,909.5 578.7,909.5 580.2,909.5 581.7,909.5 583.2,909.5 584.7,909.5 586.2,909.5 587.7,909.6 589.2,909.6 590.7,909.6 592.2,909.7 593.7,909.7 595.2,909.7 596.7,909.8 598.2,909.8 599.7,909.9 601.2,909.9 602.7,910.0 604.2,910.0 605.7,910.1 607.2,910.1 608.7,910.2 610.2,910.2 611.7,910.3 613.2,910.4 614.7,910.4 616.2,910.5 617.7,910.6 619.2,910.6 620.7,910.7 622.2,910.8 623.7,910.8 625.2,910.9 626.7,911.0 628.2,911.1 629.7,911.1 631.2,911.2 632.7,911.3 634.2,911.3 635.7,911.4 637.2,911.5 638.7,911.5 640.2,911.6 641.7,911.7 643.2,911.7 644.7,911.8 646.2,911.8 647.7,911.9 649.2,911.9 650.7,912.0 652.2,912.0 653.7,912.1 655.2,912.1 656.7,912.2 658.2,912.2 659.7,912.2 661.2,912.3 662.7,912.3 664.2,912.3 665.7,912.3 667.2,912.4 668.7,912.4 670.2,912.4 671.7,912.4 673.2,912.4 674.7,912.4 676.2,912.4 677.7,912.3 679.2,912.3 680.7,912.3 682.2,912.3 683.7,912.2 685.2,912.2 686.7,912.1 688.2,912.1 689.7,912.0 691.2,911.9 692.7,911.9 694.2,911.8 695.7,911.7 697.2,911.6 698.7,911.5 700.2,911.4 701.7,911.3 703.2,911.2 704.7,911.0 706.2,910.9 707.7,910.7 709.2,910.6 710.7,910.4 712.2,910.3 713.7,910.1 715.2,909.9 716.7,909.7 718.2,909.5 719.7,909.3 721.2,909.1 722.7,908.9 724.2,908.6 725.7,908.4 727.2,908.1 728.7,907.8 730.2,907.6 731.7,907.3 733.2,907.0 734.7,906.7 736.2,906.3 737.7,906.0 739.2,905.6 740.7,905.3 742.2,904.9 743.7,904.5 745.2,904.1 746.7,903.7 748.2,903.2 749.7,902.7 751.2,902.2 752.7,901.6 754.2,900.9 755.7,900.2 757.2,899.2 758.7,898.2 760.2,896.8 761.7,895.2 763.2,893.1 764.7,890.5 766.2,887.4 767.7,883.5 769.2,878.8 770.7,873.3 772.2,866.9 773.7,859.5 775.2,851.4 776.7,842.6 778.2,833.3 779.7,823.8 781.2,814.5 782.7,805.7 784.2,797.8 785.7,791.1 787.2,785.9 788.7,782.6 790.2,782.1 791.7,785.3 793.2,790.6 794.7,797.7 796.2,806.5 797.7,816.6 799.2,827.5 800.7,839.0 802.2,850.6 803.7,862.1 805.2,873.1 806.7,883.4 808.2,893.0 809.7,901.6 811.2,909.3 812.7,916.1 814.2,922.0 815.7,927.0 817.2,931.2 818.7,934.8 820.2,937.7 821.7,940.1 823.2,942.1 824.7,943.6 826.2,944.9 827.7,945.9 829.2,946.7 830.7,947.3 832.2,947.9 833.7,948.3 835.2,948.6 836.7,948.9 838.2,949.2 839.7,949.4 841.2,949.6 842.7,949.8 844.2,950.0 845.7,950.2 847.2,950.4 848.7,950.6 850.2,950.7 851.7,950.9 853.2,951.1 854.7,951.2 856.2,951.3 857.7,951.5 859.2,951.6 860.7,951.7 862.2,951.8 863.7,951.8 865.2,951.9 866.7,951.9 868.2,951.9 869.7,951.9 871.2,951.9 872.7,951.9 874.2,951.8 875.7,951.8 877.2,951.7 878.7,951.7 880.2,951.6 881.7,951.6 883.2,951.5 884.7,951.5 886.2,951.4 887.7,951.4 889.2,951.3 890.7,951.3 892.2,951.3 893.7,951.3 895.2,951.4 896.7,951.4 898.2,951.4 899.7,951.5 901.2,951.6 902.7,951.6" stroke="#2828c8" stroke-width="1.2"/>
<polyline points="487.2,920.9 488.7,920.2 490.2,919.5 491.7,918.9 493.2,918.3 494.7,917.7 496.2,917.2 497.7,916.7 499.2,916.2 500.7,915.8 502.2,915.4 503.7,915.0 505.2,914.6 506.7,914.3 508.2,914.0 509.7,913.7 511.2,913.4 512.7,913.1 514.2,912.8 515.7,912.6 517.2,912.4 518.7,912.1 520.2,911.9 521.7,911.7 523.2,911.5 524.7,911.4 526.2,911.2 527.7,911.0 529.2,910.9 530.7,910.8 532.2,910.6 533.7,910.5 535.2,910.4 536.7,910.3 538.2,910.2 539.7,910.1 541.2,910.0 542.7,909.9 544.2,909.8 545.7,909.7 547.2,909.7 548.7,909.6 550.2,909.5 551.7,909.5 553.2,909.4 554.7,909.4 556.2,909.4 557.7,909.3 559.2,909.3 560.7,909.3 562.2,909.3 563.7,909.3 565.2,909.3 566.7,909.2 568.2,909.2 569.7,909.3 571.2,909.3 572.7,909.3 574.2,909.3 575.7,909.3 577.2,909.3 578.7,909.4 580.2,909.4 581.7,909.4 583.2,909.5 584.7,909.5 586.2,909.5 587.7,909.6 589.2,909.6 590.7,909.7 592.2,909.7 593.7,909.8 595.2,909.9 596.7,909.9 598.2,910.0 599.7,910.0 601.2,910.1 602.7,910.2 604.2,910.2 605.7,910.3 607.2,910.4 608.7,910.5 610.2,910.5 611.7,910.6 613.2,910.7 614.7,910.8 616.2,910.8 617.7,910.9 619.2,911.0 620.7,911.1 622.2,911.1 623.7,911.2 625.2,911.3 626.7,911.4 628.2,911.4 629.7,911.5 631.2,911.6 632.7,911.6 634.2,911.7 635.7,911.8 637.2,911.8 638.7,911.9 640.2,912.0 641.7,912.0 643.2,912.1 644.7,912.1 646.2,912.2 647.7,912.2 649.2,912.3 650.7,912.3 652.2,912.3 653.7,912.4 655.2,912.4 656.7,912.4 658.2,912.5 659.7,912.5 661.2,912.5 662.7,912.5 664.2,912.5 665.7,912.5 667.2,912.5 668.7,912.5 670.2,912.5 671.7,912.5 673.2,912.5 674.7,912.4 676.2,912.4 677.7,912.4 679.2,912.3 680.7,912.3 682.2,912.2 683.7,912.2 685.2,912.1 686.7,912.0 688.2,911.9 689.7,911.9 691.2,911.8 692.7,911.7 694.2,911.6 695.7,911.4 697.2,911.3 698.7,911.2 700.2,911.1 701.7,910.9 703.2,910.8 704.7,910.6 706.2,910.4 707.7,910.3 709.2,910.1 710.7,909.9 712.2,909.7 713.7,909.4 715.2,909.2 716.7,909.0 718.2,908.7 719.7,908.5 721.2,908.2 722.7,907.9 724.2,907.6 725.7,907.3 727.2,906.9 728.7,906.6 730.2,906.2 731.7,905.9 733.2,905.5 734.7,905.0 736.2,904.6 737.7,904.1 739.2,903.7 740.7,903.2 742.2,902.6 743.7,902.1 745.2,901.5 746.7,900.9 748.2,900.2 749.7,899.5 751.2,898.8 752.7,898.0 754.2,897.1 755.7,896.0 757.2,894.9 758.7,893.6 760.2,892.0 761.7,890.1 763.2,887.8 764.7,885.0 766.2,881.6 767.7,877.6 769.2,872.8 770.7,867.1 772.2,860.7 773.7,853.5 775.2,845.6 776.7,837.2 778.2,828.5 779.7,819.8 781.2,811.5 782.7,803.8 784.2,797.1 785.7,791.7 787.2,787.7 788.7,787.7 790.2,791.9 791.7,798.7 793.2,807.7 794.7,818.5 796.2,830.7 797.7,843.6 799.2,856.7 800.7,869.6 802.2,881.8 803.7,893.1 805.2,903.3 806.7,912.1 808.2,919.7 809.7,926.0 811.2,931.2 812.7,935.3 814.2,938.6 815.7,941.1 817.2,943.0 818.7,944.5 820.2,945.6 821.7,946.4 823.2,947.1 824.7,947.6 826.2,948.0 827.7,948.3 829.2,948.6 830.7,948.8 832.2,949.1 833.7,949.3 835.2,949.5 836.7,949.7 838.2,949.9 839.7,950.1 841.2,950.3 842.7,950.5 844.2,950.7 845.7,950.9 847.2,951.0 848.7,951.2 850.2,951.3 851.7,951.4 853.2,951.5 854.7,951.6 856.2,951.7 857.7,951.7 859.2,951.8 860.7,951.8 862.2,951.8 863.7,951.7 865.2,951.7 866.7,951.7 868.2,951.6 869.7,951.6 871.2,951.5 872.7,951.5 874.2,951.4 875.7,951.4 877.2,951.3 878.7,951.3 880.2,951.3 881.7,951.3 883.2,951.3 884.7,951.3 886.2,951.3 887.7,951.3 889.2,951.4 890.7,951.5 892.2,951.5 893.7,951.6 895.2,951.7 896.7,951.8 898.2,951.9 899.7,952.0 901.2,952.1 902.7,952.1" stroke="#2020e0" stroke-width="1.2"/>
<polyline points="487.2,930.0 488.7,929.3 490.2,928.6 491.7,927.9 493.2,927.3 494.7,926.8 496.2,926.3 497.7,925.8 499.2,925.3 500.7,924.9 502.2,924.5 503.7,924.1 505.2,923.7 506.7,923.4 508.2,923.0 509.7,922.7 511.2,922.5 512.7,922.2 514.2,921.9 515.7,921.7 517.2,921.5 518.7,921.3 520.2,921.1 521.7,920.9 523.2,920.7 524.7,920.6 526.2,920.4 527.7,920.3 529.2,920.1 530.7,920.0 532.2,919.9 533.7,919.8 535.2,919.7 536.7,919.6 538.2,919.5 539.7,919.5 541.2,919.4 542.7,919.3 544.2,919.3 545.7,919.2 547.2,919.2 548.7,919.1 550.2,919.1 551.7,919.1 553.2,919.1 554.7,919.0 556.2,919.0 557.7,919.0 559.2,919.0 560.7,919.0 562.2,919.0 563.7,919.0 565.2,919.0 566.7,919.1 568.2,919.1 569.7,919.1 571.2,919.1 572.7,919.2 574.2,919.2 575.7,919.3 577.2,919.3 578.7,919.3 580.2,919.4 581.7,919.4 583.2,919.5 584.7,919.6 586.2,919.6 587.7,919.7 589.2,919.7 590.7,919.8 592.2,919.9 593.7,919.9 595.2,920.0 596.7,920.1 598.2,920.2 599.7,920.2 601.2,920.3 602.7,920.4 604.2,920.5 605.7,920.5 607.2,920.6 608.7,920.7 610.2,920.8 611.7,920.8 613.2,920.9 614.7,921.0 616.2,921.1 617.7,921.1 619.2,921.2 620.7,921.3 622.2,921.3 623.7,921.4 625.2,921.5 626.7,921.5 628.2,921.6 629.7,921.7 631.2,921.7 632.7,921.8 634.2,921.8 635.7,921.9 637.2,921.9 638.7,922.0 640.2,922.0 641.7,922.1 643.2,922.1 644.7,922.1 646.2,922.2 647.7,922.2 649.2,922.2 650.7,922.2 652.2,922.2 653.7,922.2 655.2,922.3 656.7,922.3 658.2,922.3 659.7,922.2 661.2,922.2 662.7,922.2 664.2,922.2 665.7,922.2 667.2,922.1 668.7,922.1 670.2,922.1 671.7,922.0 673.2,922.0 674.7,921.9 676.2,921.9 677.7,921.8 679.2,921.7 680.7,921.6 682.2,921.6 683.7,921.5 685.2,921.4 686.7,921.3 688.2,921.2 689.7,921.0 691.2,920.9 692.7,920.8 694.2,920.7 695.7,920.5 697.2,920.4 698.7,920.2 700.2,920.1 701.7,919.9 703.2,919.7 704.7,919.5 706.2,919.3 707.7,919.1 709.2,918.9 710.7,918.7 712.2,918.5 713.7,918.2 715.2,918.0 716.7,917.7 718.2,917.5 719.7,917.2 721.2,916.9 722.7,916.6 724.2,916.3 725.7,915.9 727.2,915.6 728.7,915.2 730.2,914.9 731.7,914.5 733.2,914.1 734.7,913.7 736.2,913.2 737.7,912.8 739.2,912.3 740.7,911.8 742.2,911.2 743.7,910.7 745.2,910.1 746.7,909.5 748.2,908.8 749.7,908.1 751.2,907.3 752.7,906.4 754.2,905.4 755.7,904.3 757.2,902.9 758.7,901.4 760.2,899.5 761.7,897.3 763.2,894.7 764.7,891.5 766.2,887.8 767.7,883.4 769.2,878.4 770.7,872.6 772.2,866.2 773.7,859.1 775.2,851.5 776.7,843.5 778.2,835.2 779.7,827.0 781.2,819.0 782.7,811.6 784.2,804.9 785.7,799.2 787.2,794.6 788.7,791.4 790.2,792.8 791.7,796.8 793.2,802.5 794.7,809.8 796.2,818.5 797.7,828.1 799.2,838.4 800.7,849.0 802.2,859.7 803.7,870.1 805.2,880.0 806.7,889.3 808.2,897.8 809.7,905.6 811.2,912.5 812.7,918.5 814.2,923.8 815.7,928.4 817.2,932.3 818.7,935.5 820.2,938.3 821.7,940.5 823.2,942.4 824.7,944.0 826.2,945.3 827.7,946.3 829.2,947.2 830.7,947.9 832.2,948.5 833.7,949.0 835.2,949.4 836.7,949.8 838.2,950.1 839.7,950.3 841.2,950.5 842.7,950.7 844.2,950.9 845.7,951.0 847.2,951.1 848.7,951.2 850.2,951.3 851.7,951.3 853.2,951.3 854.7,951.4 856.2,951.4 857.7,951.3 859.2,951.3 860.7,951.3 862.2,951.3 863.7,951.2 865.2,951.2 866.7,951.1 868.2,951.1 869.7,951.1 871.2,951.1 872.7,951.1 874.2,951.1 875.7,951.1 877.2,951.2 878.7,951.2 880.2,951.3 881.7,951.3 883.2,951.4 884.7,951.5 886.2,951.6 887.7,951.7 889.2,951.8 890.7,951.9 892.2,952.0 893.7,952.1 895.2,952.2 896.7,952.2 898.2,952.3 899.7,952.3 901.2,952.4 902.7,952.4" stroke="#3030e8" stroke-width="1.2"/>
<polyline points="487.2,920.0 488.7,919.3 490.2,918.6 491.7,918.0 493.2,917.4 494.7,916.8 496.2,916.3 497.7,915.8 499.2,915.3 500.7,914.9 502.2,914.5 503.7,914.1 505.2,913.8 506.7,913.5 508.2,913.2 509.7,912.9 511.2,912.6 512.7,912.3 514.2,912.1 515.7,911.9 517.2,911.7 518.7,911.5 520.2,911.3 521.7,911.2 523.2,911.0 524.7,910.9 526.2,910.7 527.7,910.6 529.2,910.5 530.7,910.4 532.2,910.3 533.7,910.2 535.2,910.1 536.7,910.1 538.2,910.0 539.7,910.0 541.2,909.9 542.7,909.9 544.2,909.8 545.7,909.8 547.2,909.8 548.7,909.8 550.2,909.8 551.7,909.7 553.2,909.7 554.7,909.8 556.2,909.8 557.7,909.8 559.2,909.8 560.7,909.8 562.2,909.8 563.7,909.9 565.2,909.9 566.7,909.9 568.2,910.0 569.7,910.0 571.2,910.1 572.7,910.1 574.2,910.2 575.7,910.2 577.2,910.3 578.7,910.3 580.2,910.4 581.7,910.4 583.2,910.5 584.7,910.6 586.2,910.6 587.7,910.7 589.2,910.8 590.7,910.8 592.2,910.9 593.7,911.0 595.2,911.0 596.7,911.1 598.2,911.2 599.7,911.2 601.2,911.3 602.7,911.4 604.2,911.4 605.7,911.5 607.2,911.5 608.7,911.6 610.2,911.7 611.7,911.7 613.2,911.8 614.7,911.8 616.2,911.9 617.7,911.9 619.2,912.0 620.7,912.0 622.2,912.1 623.7,912.1 625.2,912.2 626.7,912.2 628.2,912.2 629.7,912.2 631.2,912.3 632.7,912.3 634.2,912.3 635.7,912.3 637.2,912.3 638.7,912.3 640.2,912.3 641.7,912.3 643.2,912.3 644.7,912.3 646.2,912.3 647.7,912.3 649.2,912.2 650.7,912.2 652.2,912.2 653.7,912.1 655.2,912.1 656.7,912.0 658.2,912.0 659.7,911.9 661.2,911.8 662.7,911.7 664.2,911.7 665.7,911.6 667.2,911.5 668.7,911.4 670.2,911.3 671.7,911.2 673.2,911.0 674.7,910.9 676.2,910.8 677.7,910.6 679.2,910.5 680.7,910.3 682.2,910.2 683.7,910.0 685.2,909.8 686.7,909.7 688.2,909.5 689.7,909.3 691.2,909.1 692.7,908.9 694.2,908.6 695.7,908.4 697.2,908.2 698.7,907.9 700.2,907.7 701.7,907.4 703.2,907.1 704.7,906.9 706.2,906.6 707.7,906.3 709.2,906.0 710.7,905.7 712.2,905.3 713.7,905.0 715.2,904.7 716.7,904.3 718.2,903.9 719.7,903.6 721.2,903.2 722.7,902.8 724.2,902.3 725.7,901.9 727.2,901.5 728.7,901.0 730.2,900.5 731.7,900.0 733.2,899.5 734.7,899.0 736.2,898.5 737.7,897.9 739.2,897.3 740.7,896.8 742.2,896.1 743.7,895.5 745.2,894.8 746.7,894.2 748.2,893.4 749.7,892.7 751.2,891.9 752.7,891.1 754.2,890.2 755.7,889.3 757.2,888.2 758.7,887.1 760.2,885.7 761.7,884.2 763.2,882.3 764.7,880.2 766.2,877.5 767.7,874.4 769.2,870.6 770.7,866.2 772.2,861.1 773.7,855.3 775.2,848.9 776.7,842.0 778.2,834.7 779.7,827.3 781.2,820.0 782.7,813.2 784.2,807.1 785.7,802.1 787.2,798.2 788.7,796.2 790.2,799.0 791.7,804.5 793.2,812.4 794.7,822.2 796.2,833.4 797.7,845.6 799.2,858.2 800.7,870.7 802.2,882.6 803.7,893.7 805.2,903.7 806.7,912.5 808.2,920.0 809.7,926.3 811.2,931.5 812.7,935.6 814.2,938.9 815.7,941.5 817.2,943.4 818.7,945.0 820.2,946.1 821.7,947.1 823.2,947.8 824.7,948.3 826.2,948.8 827.7,949.2 829.2,949.5 830.7,949.8 832.2,950.0 833.7,950.2 835.2,950.4 836.7,950.6 838.2,950.7 839.7,950.8 841.2,950.9 842.7,951.0 844.2,951.0 845.7,951.1 847.2,951.1 848.7,951.1 850.2,951.1 851.7,951.1 853.2,951.0 854.7,951.0 856.2,951.0 857.7,951.0 859.2,951.0 860.7,951.0 862.2,951.0 863.7,951.0 865.2,951.0 866.7,951.0 868.2,951.1 869.7,951.1 871.2,951.2 872.7,951.3 874.2,951.3 875.7,951.4 877.2,951.5 878.7,951.6 880.2,951.7 881.7,951.8 883.2,951.9 884.7,952.0 886.2,952.1 887.7,952.2 889.2,952.2 890.7,952.3 892.2,952.3 893.7,952.4 895.2,952.4 896.7,952.4 898.2,952.3 899.7,952.3 901.2,952.3 902.7,952.2" stroke="#2020e0" stroke-width="1.2"/>
<polyline points="487.2,921.6 488.7,920.9 490.2,920.2 491.7,919.6 493.2,919.0 494.7,918.4 496.2,917.9 497.7,917.4 499.2,917.0 500.7,916.6 502.2,916.2 503.7,915.8 505.2,915.5 506.7,915.2 508.2,914.9 509.7,914.6 511.2,914.4 512.7,914.1 514.2,913.9 515.7,913.7 517.2,913.5 518.7,913.4 520.2,913.2 521.7,913.1 523.2,913.0 524.7,912.8 526.2,912.7 527.7,912.6 529.2,912.5 530.7,912.5 532.2,912.4 533.7,912.3 535.2,912.3 536.7,912.2 538.2,912.2 539.7,912.2 541.2,912.1 542.7,912.1 544.2,912.1 545.7,912.1 547.2,912.1 548.7,912.1 550.2,912.1 551.7,912.1 553.2,912.1 554.7,912.2 556.2,912.2 557.7,912.2 559.2,912.3 560.7,912.3 562.2,912.3 563.7,912.4 565.2,912.4 566.7,912.5 568.2,912.5 569.7,912.6 571.2,912.6 572.7,912.7 574.2,912.8 575.7,912.8 577.2,912.9 578.7,913.0 580.2,913.0 581.7,913.1 583.2,913.1 584.7,913.2 586.2,913.3 587.7,913.3 589.2,913.4 590.7,913.5 592.2,913.5 593.7,913.6 595.2,913.7 596.7,913.7 598.2,913.8 599.7,913.9 601.2,913.9 602.7,914.0 604.2,914.0 605.7,914.1 607.2,914.1 608.7,914.2 610.2,914.2 611.7,914.3 613.2,914.3 614.7,914.4 616.2,914.4 617.7,914.4 619.2,914.5 620.7,914.5 622.2,914.5 623.7,914.6 625.2,914.6 626.7,914.6 628.2,914.6 629.7,914.6 631.2,914.6 632.7,914.6 634.2,914.6 635.7,914.6 637.2,914.6 638.7,914.6 640.2,914.5 641.7,914.5 643.2,914.5 644.7,914.5 646.2,914.4 647.7,914.4 649.2,914.3 650.7,914.3 652.2,914.2 653.7,914.2 655.2,914.1 656.7,914.0 658.2,913.9 659.7,913.9 661.2,913.8 662.7,913.7 664.2,913.6 665.7,913.5 667.2,913.4 668.7,913.3 670.2,913.2 671.7,913.0 673.2,912.9 674.7,912.8 676.2,912.7 677.7,912.5 679.2,912.4 680.7,912.2 682.2,912.1 683.7,911.9 685.2,911.8 686.7,911.6 688.2,911.4 689.7,911.2 691.2,911.1 692.7,910.9 694.2,910.7 695.7,910.5 697.2,910.3 698.7,910.1 700.2,909.9 701.7,909.7 703.2,909.5 704.7,909.2 706.2,909.0 707.7,908.8 709.2,908.5 710.7,908.3 712.2,908.1 713.7,907.8 715.2,907.6 716.7,907.3 718.2,907.0 719.7,906.8 721.2,906.5 722.7,906.2 724.2,905.9 725.7,905.6 727.2,905.3 728.7,905.0 730.2,904.7 731.7,904.4 733.2,904.0 734.7,903.7 736.2,903.4 737.7,903.0 739.2,902.7 740.7,902.3 742.2,901.9 743.7,901.5 745.2,901.1 746.7,900.6 748.2,900.1 749.7,899.5 751.2,898.9 752.7,898.1 754.2,897.2 755.7,896.2 757.2,894.9 758.7,893.3 760.2,891.4 761.7,889.1 763.2,886.2 764.7,882.9 766.2,878.9 767.7,874.3 769.2,869.1 770.7,863.2 772.2,856.8 773.7,849.9 775.2,842.8 776.7,835.5 778.2,828.3 779.7,821.4 781.2,815.2 782.7,809.7 784.2,805.3 785.7,802.1 787.2,800.2 788.7,801.6 790.2,805.4 791.7,811.3 793.2,819.0 794.7,828.0 796.2,838.1 797.7,848.9 799.2,859.9 800.7,870.8 802.2,881.4 803.7,891.3 805.2,900.4 806.7,908.6 808.2,915.9 809.7,922.1 811.2,927.5 812.7,932.0 814.2,935.8 815.7,938.9 817.2,941.4 818.7,943.4 820.2,945.0 821.7,946.3 823.2,947.3 824.7,948.1 826.2,948.7 827.7,949.2 829.2,949.6 830.7,949.9 832.2,950.1 833.7,950.3 835.2,950.4 836.7,950.5 838.2,950.5 839.7,950.6 841.2,950.6 842.7,950.6 844.2,950.7 845.7,950.7 847.2,950.7 848.7,950.7 850.2,950.7 851.7,950.7 853.2,950.7 854.7,950.7 856.2,950.8 857.7,950.8 859.2,950.9 860.7,950.9 862.2,951.0 863.7,951.1 865.2,951.2 866.7,951.3 868.2,951.4 869.7,951.5 871.2,951.6 872.7,951.7 874.2,951.8 875.7,951.9 877.2,952.0 878.7,952.1 880.2,952.2 881.7,952.2 883.2,952.3 884.7,952.3 886.2,952.3 887.7,952.3 889.2,952.3 890.7,952.3 892.2,952.2 893.7,952.2 895.2,952.1 896.7,952.0 898.2,952.0 899.7,951.9 901.2,951.8 902.7,951.7" stroke="#1c1cd0" stroke-width="1.2"/>
<polyline points="487.2,919.9 488.7,919.2 490.2,918.6 491.7,917.9 493.2,917.4 494.7,916.8 496.2,916.4 497.7,915.9 499.2,915.5 500.7,915.1 502.2,914.7 503.7,914.4 505.2,914.0 506.7,913.8 508.2,913.5 509.7,913.2 511.2,913.0 512.7,912.8 514.2,912.6 515.7,912.4 517.2,912.3 518.7,912.1 520.2,912.0 521.7,911.9 523.2,911.8 524.7,911.7 526.2,911.6 527.7,911.5 529.2,911.4 530.7,911.4 532.2,911.3 533.7,911.3 535.2,911.3 536.7,911.2 538.2,911.2 539.7,911.2 541.2,911.2 542.7,911.2 544.2,911.2 545.7,911.2 547.2,911.2 548.7,911.3 550.2,911.3 551.7,911.3 553.2,911.4 554.7,911.4 556.2,911.4 557.7,911.5 559.2,911.5 560.7,911.6 562.2,911.6 563.7,911.7 565.2,911.7 566.7,911.8 568.2,911.8 569.7,911.9 571.2,912.0 572.7,912.0 574.2,912.1 575.7,912.2 577.2,912.2 578.7,912.3 580.2,912.3 581.7,912.4 583.2,912.5 584.7,912.5 586.2,912.6 587.7,912.7 589.2,912.7 590.7,912.8 592.2,912.8 593.7,912.9 595.2,912.9 596.7,913.0 598.2,913.0 599.7,913.1 601.2,913.1 602.7,913.2 604.2,913.2 605.7,913.2 607.2,913.3 608.7,913.3 610.2,913.3 611.7,913.4 613.2,913.4 614.7,913.4 616.2,913.4 617.7,913.4 619.2,913.4 620.7,913.4 622.2,913.4 623.7,913.4 625.2,913.4 626.7,913.4 628.2,913.4 629.7,913.4 631.2,913.4 632.7,913.3 634.2,913.3 635.7,913.3 637.2,913.2 638.7,913.2 640.2,913.1 641.7,913.1 643.2,913.0 644.7,913.0 646.2,912.9 647.7,912.8 649.2,912.8 650.7,912.7 652.2,912.6 653.7,912.5 655.2,912.4 656.7,912.3 658.2,912.3 659.7,912.2 661.2,912.0 662.7,911.9 664.2,911.8 665.7,911.7 667.2,911.6 668.7,911.5 670.2,911.3 671.7,911.2 673.2,911.1 674.7,910.9 676.2,910.8 677.7,910.6 679.2,910.5 680.7,910.3 682.2,910.2 683.7,910.0 685.2,909.9 686.7,909.7 688.2,909.5 689.7,909.4 691.2,909.2 692.7,909.0 694.2,908.8 695.7,908.7 697.2,908.5 698.7,908.3 700.2,908.1 701.7,907.9 703.2,907.7 704.7,907.5 706.2,907.3 707.7,907.1 709.2,906.9 710.7,906.7 712.2,906.5 713.7,906.3 715.2,906.1 716.7,905.9 718.2,905.7 719.7,905.4 721.2,905.2 722.7,905.0 724.2,904.8 725.7,904.5 727.2,904.3 728.7,904.1 730.2,903.8 731.7,903.6 733.2,903.4 734.7,903.1 736.2,902.9 737.7,902.6 739.2,902.4 740.7,902.1 742.2,901.8 743.7,901.5 745.2,901.2 746.7,900.9 748.2,900.6 749.7,900.2 751.2,899.8 752.7,899.4 754.2,898.8 755.7,898.1 757.2,897.3 758.7,896.2 760.2,894.9 761.7,893.2 763.2,891.1 764.7,888.6 766.2,885.5 767.7,881.7 769.2,877.4 770.7,872.3 772.2,866.6 773.7,860.3 775.2,853.6 776.7,846.5 778.2,839.3 779.7,832.2 781.2,825.4 782.7,819.4 784.2,814.2 785.7,810.1 787.2,807.4 788.7,806.0 790.2,807.9 791.7,811.6 793.2,817.0 794.7,823.8 796.2,831.9 797.7,840.8 799.2,850.3 800.7,860.1 802.2,869.8 803.7,879.3 805.2,888.3 806.7,896.8 808.2,904.5 809.7,911.4 811.2,917.6 812.7,923.1 814.2,927.8 815.7,931.9 817.2,935.3 818.7,938.2 820.2,940.7 821.7,942.7 823.2,944.3 824.7,945.6 826.2,946.7 827.7,947.5 829.2,948.2 830.7,948.7 832.2,949.1 833.7,949.4 835.2,949.6 836.7,949.8 838.2,949.9 839.7,950.0 841.2,950.1 842.7,950.2 844.2,950.2 845.7,950.3 847.2,950.4 848.7,950.5 850.2,950.5 851.7,950.6 853.2,950.7 854.7,950.8 856.2,950.9 857.7,951.1 859.2,951.2 860.7,951.3 862.2,951.4 863.7,951.6 865.2,951.7 866.7,951.8 868.2,951.9 869.7,952.0 871.2,952.0 872.7,952.1 874.2,952.2 875.7,952.2 877.2,952.2 878.7,952.2 880.2,952.2 881.7,952.2 883.2,952.2 884.7,952.1 886.2,952.0 887.7,952.0 889.2,951.9 890.7,951.8 892.2,951.8 893.7,951.7 895.2,951.6 896.7,951.6 898.2,951.5 899.7,951.5 901.2,951.4 902.7,951.4" stroke="#2a2ad8" stroke-width="1.2"/>
<polyline points="487.2,926.6 488.7,925.9 490.2,925.3 491.7,924.7 493.2,924.2 494.7,923.7 496.2,923.2 497.7,922.7 499.2,922.3 500.7,922.0 502.2,921.6 503.7,921.3 505.2,921.0 506.7,920.8 508.2,920.5 509.7,920.3 511.2,920.1 512.7,919.9 514.2,919.7 515.7,919.6 517.2,919.5 518.7,919.3 520.2,919.2 521.7,919.1 523.2,919.1 524.7,919.0 526.2,918.9 527.7,918.9 529.2,918.8 530.7,918.8 532.2,918.8 533.7,918.8 535.2,918.8 536.7,918.7 538.2,918.8 539.7,918.8 541.2,918.8 542.7,918.8 544.2,918.8 545.7,918.9 547.2,918.9 548.7,918.9 550.2,919.0 551.7,919.0 553.2,919.1 554.7,919.1 556.2,919.2 557.7,919.2 559.2,919.3 560.7,919.3 562.2,919.4 563.7,919.5 565.2,919.5 566.7,919.6 568.2,919.7 569.7,919.7 571.2,919.8 572.7,919.9 574.2,919.9 575.7,920.0 577.2,920.0 578.7,920.1 580.2,920.2 581.7,920.2 583.2,920.3 584.7,920.3 586.2,920.4 587.7,920.5 589.2,920.5 590.7,920.6 592.2,920.6 593.7,920.7 595.2,920.7 596.7,920.7 598.2,920.8 599.7,920.8 601.2,920.8 602.7,920.9 604.2,920.9 605.7,920.9 607.2,920.9 608.7,921.0 610.2,921.0 611.7,921.0 613.2,921.0 614.7,921.0 616.2,921.0 617.7,921.0 619.2,921.0 620.7,921.0 622.2,920.9 623.7,920.9 625.2,920.9 626.7,920.9 628.2,920.8 629.7,920.8 631.2,920.8 632.7,920.7 634.2,920.7 635.7,920.6 637.2,920.6 638.7,920.5 640.2,920.4 641.7,920.4 643.2,920.3 644.7,920.2 646.2,920.1 647.7,920.0 649.2,919.9 650.7,919.8 652.2,919.7 653.7,919.6 655.2,919.5 656.7,919.4 658.2,919.3 659.7,919.2 661.2,919.1 662.7,918.9 664.2,918.8 665.7,918.7 667.2,918.5 668.7,918.4 670.2,918.2 671.7,918.1 673.2,917.9 674.7,917.8 676.2,917.6 677.7,917.5 679.2,917.3 680.7,917.1 682.2,916.9 683.7,916.8 685.2,916.6 686.7,916.4 688.2,916.2 689.7,916.0 691.2,915.8 692.7,915.6 694.2,915.4 695.7,915.2 697.2,914.9 698.7,914.7 700.2,914.5 701.7,914.3 703.2,914.0 704.7,913.8 706.2,913.5 707.7,913.3 709.2,913.0 710.7,912.7 712.2,912.5 713.7,912.2 715.2,911.9 716.7,911.6 718.2,911.3 719.7,911.0 721.2,910.7 722.7,910.4 724.2,910.0 725.7,909.7 727.2,909.3 728.7,908.9 730.2,908.6 731.7,908.2 733.2,907.8 734.7,907.3 736.2,906.9 737.7,906.5 739.2,906.0 740.7,905.5 742.2,905.0 743.7,904.5 745.2,904.0 746.7,903.4 748.2,902.8 749.7,902.2 751.2,901.5 752.7,900.8 754.2,900.0 755.7,899.1 757.2,898.1 758.7,896.9 760.2,895.5 761.7,893.9 763.2,892.0 764.7,889.6 766.2,886.8 767.7,883.6 769.2,879.7 770.7,875.3 772.2,870.2 773.7,864.6 775.2,858.5 776.7,852.1 778.2,845.5 779.7,838.9 781.2,832.5 782.7,826.6 784.2,821.4 785.7,817.1 787.2,813.8 788.7,812.2 790.2,814.6 791.7,818.8 793.2,824.5 794.7,831.7 796.2,840.1 797.7,849.2 799.2,858.9 800.7,868.7 802.2,878.4 803.7,887.7 805.2,896.5 806.7,904.5 808.2,911.8 809.7,918.3 811.2,923.9 812.7,928.8 814.2,932.9 815.7,936.3 817.2,939.1 818.7,941.4 820.2,943.3 821.7,944.7 823.2,945.9 824.7,946.8 826.2,947.5 827.7,948.1 829.2,948.5 830.7,948.8 832.2,949.1 833.7,949.3 835.2,949.5 836.7,949.6 838.2,949.8 839.7,949.9 841.2,950.0 842.7,950.2 844.2,950.3 845.7,950.4 847.2,950.6 848.7,950.7 850.2,950.9 851.7,951.0 853.2,951.1 854.7,951.3 856.2,951.4 857.7,951.5 859.2,951.7 860.7,951.8 862.2,951.9 863.7,951.9 865.2,952.0 866.7,952.0 868.2,952.1 869.7,952.1 871.2,952.1 872.7,952.1 874.2,952.0 875.7,952.0 877.2,952.0 878.7,951.9 880.2,951.8 881.7,951.8 883.2,951.7 884.7,951.6 886.2,951.6 887.7,951.5 889.2,951.5 890.7,951.4 892.2,951.4 893.7,951.4 895.2,951.4 896.7,951.4 898.2,951.4 899.7,951.4 901.2,951.5 902.7,951.6" stroke="#2020e0" stroke-width="1.2"/>
<polyline points="487.2,916.1 488.7,915.4 490.2,914.8 491.7,914.2 493.2,913.7 494.7,913.2 496.2,912.8 497.7,912.4 499.2,912.0 500.7,911.7 502.2,911.3 503.7,911.0 505.2,910.8 506.7,910.5 508.2,910.3 509.7,910.1 511.2,909.9 512.7,909.8 514.2,909.6 515.7,909.5 517.2,909.4 518.7,909.3 520.2,909.2 521.7,909.1 523.2,909.1 524.7,909.0 526.2,909.0 527.7,909.0 529.2,908.9 530.7,908.9 532.2,908.9 533.7,908.9 535.2,908.9 536.7,908.9 538.2,909.0 539.7,909.0 541.2,909.0 542.7,909.1 544.2,909.1 545.7,909.1 547.2,909.2 548.7,909.2 550.2,909.3 551.7,909.3 553.2,909.4 554.7,909.4 556.2,909.5 557.7,909.6 559.2,909.6 560.7,909.7 562.2,909.7 563.7,909.8 565.2,909.9 566.7,909.9 568.2,910.0 569.7,910.1 571.2,910.1 572.7,910.2 574.2,910.2 575.7,910.3 577.2,910.3 578.7,910.4 580.2,910.5 581.7,910.5 583.2,910.6 584.7,910.6 586.2,910.7 587.7,910.7 589.2,910.7 590.7,910.8 592.2,910.8 593.7,910.9 595.2,910.9 596.7,910.9 598.2,910.9 599.7,911.0 601.2,911.0 602.7,911.0 604.2,911.0 605.7,911.0 607.2,911.0 608.7,911.0 610.2,911.0 611.7,911.0 613.2,911.0 614.7,911.0 616.2,911.0 617.7,911.0 619.2,911.0 620.7,910.9 622.2,910.9 623.7,910.9 625.2,910.8 626.7,910.8 628.2,910.8 629.7,910.7 631.2,910.7 632.7,910.6 634.2,910.6 635.7,910.5 637.2,910.5 638.7,910.4 640.2,910.3 641.7,910.3 643.2,910.2 644.7,910.1 646.2,910.1 647.7,910.0 649.2,909.9 650.7,909.8 652.2,909.7 653.7,909.7 655.2,909.6 656.7,909.5 658.2,909.4 659.7,909.3 661.2,909.2 662.7,909.1 664.2,909.0 665.7,908.9 667.2,908.8 668.7,908.7 670.2,908.6 671.7,908.5 673.2,908.4 674.7,908.3 676.2,908.2 677.7,908.1 679.2,908.0 680.7,907.8 682.2,907.7 683.7,907.6 685.2,907.5 686.7,907.4 688.2,907.3 689.7,907.2 691.2,907.0 692.7,906.9 694.2,906.8 695.7,906.7 697.2,906.6 698.7,906.4 700.2,906.3 701.7,906.2 703.2,906.1 704.7,905.9 706.2,905.8 707.7,905.7 709.2,905.5 710.7,905.4 712.2,905.2 713.7,905.1 715.2,904.9 716.7,904.8 718.2,904.6 719.7,904.5 721.2,904.3 722.7,904.1 724.2,903.9 725.7,903.7 727.2,903.5 728.7,903.3 730.2,903.1 731.7,902.9 733.2,902.7 734.7,902.4 736.2,902.1 737.7,901.9 739.2,901.6 740.7,901.2 742.2,900.9 743.7,900.5 745.2,900.0 746.7,899.5 748.2,899.0 749.7,898.3 751.2,897.4 752.7,896.5 754.2,895.3 755.7,893.8 757.2,892.1 758.7,890.0 760.2,887.6 761.7,884.7 763.2,881.4 764.7,877.6 766.2,873.5 767.7,868.9 769.2,864.0 770.7,858.8 772.2,853.6 773.7,848.4 775.2,843.4 776.7,838.8 778.2,834.7 779.7,831.2 781.2,828.5 782.7,826.6 784.2,828.4 785.7,831.9 787.2,836.9 788.7,843.2 790.2,850.6 791.7,858.8 793.2,867.4 794.7,876.2 796.2,884.8 797.7,893.2 799.2,901.0 800.7,908.2 802.2,914.7 803.7,920.4 805.2,925.5 806.7,929.9 808.2,933.6 809.7,936.7 811.2,939.3 812.7,941.5 814.2,943.3 815.7,944.7 817.2,945.9 818.7,946.8 820.2,947.5 821.7,948.1 823.2,948.6 824.7,949.0 826.2,949.3 827.7,949.5 829.2,949.7 830.7,949.9 832.2,950.1 833.7,950.2 835.2,950.4 836.7,950.5 838.2,950.7 839.7,950.8 841.2,951.0 842.7,951.1 844.2,951.2 845.7,951.4 847.2,951.5 848.7,951.6 850.2,951.7 851.7,951.8 853.2,951.9 854.7,952.0 856.2,952.0 857.7,952.1 859.2,952.1 860.7,952.1 862.2,952.1 863.7,952.1 865.2,952.1 866.7,952.0 868.2,952.0 869.7,951.9 871.2,951.9 872.7,951.8 874.2,951.7 875.7,951.7 877.2,951.6 878.7,951.5 880.2,951.5 881.7,951.4 883.2,951.4 884.7,951.4 886.2,951.4 887.7,951.4 889.2,951.4 890.7,951.5 892.2,951.5 893.7,951.6 895.2,951.6 896.7,951.7 898.2,951.8 899.7,951.9 901.2,952.0 902.7,952.0" stroke="#202080" stroke-width="1.2"/>
<polyline points="487.2,915.0 488.7,914.4 490.2,913.8 491.7,913.3 493.2,912.8 494.7,912.3 496.2,911.9 497.7,911.5 499.2,911.1 500.7,910.8 502.2,910.5 503.7,910.2 505.2,910.0 506.7,909.8 508.2,909.6 509.7,909.4 511.2,909.2 512.7,909.1 514.2,909.0 515.7,908.9 517.2,908.8 518.7,908.7 520.2,908.6 521.7,908.6 523.2,908.5 524.7,908.5 526.2,908.5 527.7,908.4 529.2,908.4 530.7,908.4 532.2,908.4 533.7,908.4 535.2,908.4 536.7,908.5 538.2,908.5 539.7,908.5 541.2,908.5 542.7,908.6 544.2,908.6 545.7,908.7 547.2,908.7 548.7,908.8 550.2,908.8 551.7,908.8 553.2,908.9 554.7,908.9 556.2,909.0 557.7,909.0 559.2,909.1 560.7,909.2 562.2,909.2 563.7,909.3 565.2,909.3 566.7,909.3 568.2,909.4 569.7,909.4 571.2,909.5 572.7,909.5 574.2,909.6 575.7,909.6 577.2,909.6 578.7,909.7 580.2,909.7 581.7,909.7 583.2,909.8 584.7,909.8 586.2,909.8 587.7,909.8 589.2,909.8 590.7,909.9 592.2,909.9 593.7,909.9 595.2,909.9 596.7,909.9 598.2,909.9 599.7,909.9 601.2,909.9 602.7,909.8 604.2,909.8 605.7,909.8 607.2,909.8 608.7,909.7 610.2,909.7 611.7,909.7 613.2,909.6 614.7,909.6 616.2,909.6 617.7,909.5 619.2,909.5 620.7,909.4 622.2,909.3 623.7,909.3 625.2,909.2 626.7,909.2 628.2,909.1 629.7,909.0 631.2,908.9 632.7,908.9 634.2,908.8 635.7,908.7 637.2,908.6 638.7,908.5 640.2,908.4 641.7,908.3 643.2,908.2 644.7,908.2 646.2,908.1 647.7,908.0 649.2,907.9 650.7,907.7 652.2,907.6 653.7,907.5 655.2,907.4 656.7,907.3 658.2,907.2 659.7,907.1 661.2,907.0 662.7,906.9 664.2,906.8 665.7,906.6 667.2,906.5 668.7,906.4 670.2,906.3 671.7,906.2 673.2,906.1 674.7,906.0 676.2,905.8 677.7,905.7 679.2,905.6 680.7,905.5 682.2,905.4 683.7,905.3 685.2,905.1 686.7,905.0 688.2,904.9 689.7,904.8 691.2,904.7 692.7,904.6 694.2,904.4 695.7,904.3 697.2,904.2 698.7,904.1 700.2,904.0 701.7,903.9 703.2,903.8 704.7,903.6 706.2,903.5 707.7,903.4 709.2,903.3 710.7,903.2 712.2,903.1 713.7,903.0 715.2,902.9 716.7,902.7 718.2,902.6 719.7,902.5 721.2,902.4 722.7,902.3 724.2,902.1 725.7,902.0 727.2,901.9 728.7,901.8 730.2,901.6 731.7,901.5 733.2,901.4 734.7,901.2 736.2,901.1 737.7,900.9 739.2,900.8 740.7,900.6 742.2,900.5 743.7,900.3 745.2,900.1 746.7,899.8 748.2,899.6 749.7,899.2 751.2,898.8 752.7,898.3 754.2,897.7 755.7,896.8 757.2,895.8 758.7,894.4 760.2,892.6 761.7,890.5 763.2,887.8 764.7,884.6 766.2,880.9 767.7,876.5 769.2,871.7 770.7,866.5 772.2,860.9 773.7,855.3 775.2,849.7 776.7,844.4 778.2,839.7 779.7,835.8 781.2,832.8 782.7,831.0 784.2,830.8 785.7,833.3 787.2,837.7 788.7,843.8 790.2,851.3 791.7,859.8 793.2,869.0 794.7,878.5 796.2,887.9 797.7,896.9 799.2,905.3 800.7,913.0 802.2,919.7 803.7,925.6 805.2,930.5 806.7,934.7 808.2,938.0 809.7,940.7 811.2,942.9 812.7,944.5 814.2,945.8 815.7,946.8 817.2,947.6 818.7,948.2 820.2,948.6 821.7,949.0 823.2,949.3 824.7,949.5 826.2,949.8 827.7,950.0 829.2,950.2 830.7,950.3 832.2,950.5 833.7,950.7 835.2,950.9 836.7,951.0 838.2,951.2 839.7,951.3 841.2,951.4 842.7,951.6 844.2,951.7 845.7,951.8 847.2,951.8 848.7,951.9 850.2,951.9 851.7,952.0 853.2,952.0 854.7,952.0 856.2,951.9 857.7,951.9 859.2,951.9 860.7,951.8 862.2,951.7 863.7,951.7 865.2,951.6 866.7,951.6 868.2,951.5 869.7,951.5 871.2,951.4 872.7,951.4 874.2,951.3 875.7,951.3 877.2,951.3 878.7,951.3 880.2,951.4 881.7,951.4 883.2,951.5 884.7,951.5 886.2,951.6 887.7,951.7 889.2,951.8 890.7,951.8 892.2,951.9 893.7,952.0 895.2,952.1 896.7,952.2 898.2,952.3 899.7,952.3 901.2,952.4 902.7,952.4" stroke="#202080" stroke-width="1.2"/>
</g>
<line x1="487.2" y1="732.6" x2="487.2" y2="961" stroke="#111" stroke-width="1.8"/>
<line x1="487.2" y1="961" x2="902.6" y2="961" stroke="#333" stroke-width="1.2"/>
<line x1="487.2" y1="732.6" x2="902.6" y2="732.6" stroke="#666" stroke-width="1"/>
<line x1="902.6" y1="732.6" x2="902.6" y2="961" stroke="#222" stroke-width="1.3"/>
</svg></body></html>
